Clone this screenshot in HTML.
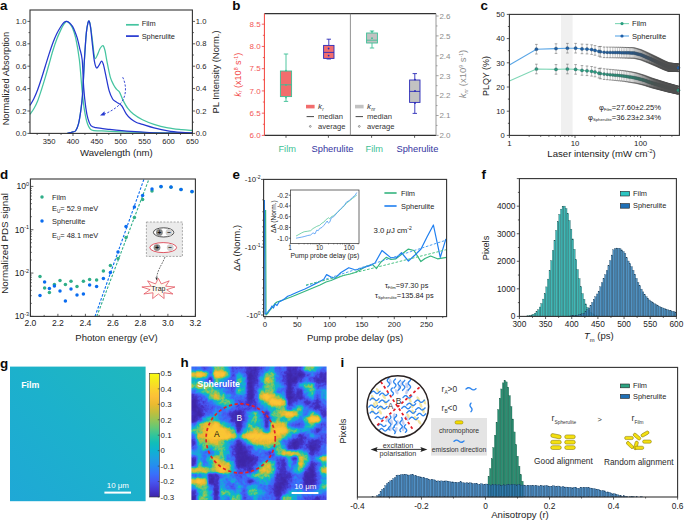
<!DOCTYPE html>
<html><head><meta charset="utf-8"><style>
html,body{margin:0;padding:0;background:#fff;}
svg{display:block;font-family:"Liberation Sans", sans-serif;}
</style></head><body>
<svg width="685" height="521" viewBox="0 0 685 521">
<rect width="685" height="521" fill="#fff"/>
<text x="0.00" y="9.80" font-size="13.4" text-anchor="start" fill="#0a0a0a" font-weight="bold" font-style="normal" >a</text>
<path d="M30.00,114.36 C30.64,113.43 32.55,111.00 33.82,108.76 C35.09,106.52 36.37,104.09 37.64,100.92 C38.92,97.75 40.19,93.64 41.46,89.72 C42.74,85.80 44.01,81.69 45.28,77.40 C46.56,73.11 47.83,68.44 49.11,63.96 C50.38,59.48 51.65,54.63 52.93,50.52 C54.20,46.41 55.47,42.68 56.75,39.32 C58.02,35.96 59.38,32.88 60.57,30.36 C61.76,27.84 62.88,25.69 63.91,24.20 C64.95,22.71 65.82,21.49 66.78,21.40 C67.73,21.31 68.69,22.52 69.64,23.64 C70.60,24.76 71.50,25.69 72.51,28.12 C73.52,30.55 74.56,32.88 75.71,38.20 C76.86,43.52 78.31,51.14 79.39,60.04 C80.47,68.94 81.37,83.32 82.21,91.62 C83.04,99.93 83.55,104.60 84.40,109.88 C85.26,115.16 86.12,119.96 87.32,123.32 C88.52,126.68 89.23,128.77 91.62,130.04 C94.00,131.31 96.79,130.64 101.65,130.94 C106.50,131.23 113.59,131.57 120.75,131.83 C127.92,132.09 132.69,132.28 144.64,132.50 C156.58,132.73 184.44,133.06 192.40,133.18" stroke="#45c4a0" stroke-width="1.25" fill="none" stroke-linejoin="round"/>
<path d="M67.26,133.40 C67.72,133.29 69.07,132.97 70.03,132.73 C70.98,132.49 72.02,132.32 72.99,131.94 C73.95,131.57 74.87,131.93 75.81,130.49 C76.75,129.05 77.79,126.66 78.62,123.32 C79.46,119.98 80.14,115.48 80.82,110.44 C81.50,105.40 82.09,101.48 82.68,93.08 C83.28,84.68 83.79,70.12 84.40,60.04 C85.02,49.96 85.76,38.85 86.36,32.60 C86.97,26.35 87.54,24.39 88.03,22.52 C88.53,20.65 88.89,20.65 89.32,21.40 C89.76,22.15 90.12,23.64 90.66,27.00 C91.20,30.36 92.01,37.08 92.57,41.56 C93.13,46.04 93.54,51.02 94.00,53.88 C94.47,56.74 94.75,58.70 95.39,58.70 C96.03,58.70 97.02,55.62 97.83,53.88 C98.63,52.14 99.35,49.66 100.21,48.28 C101.07,46.90 102.19,45.22 102.98,45.59 C103.78,45.97 104.34,47.94 104.99,50.52 C105.64,53.10 106.02,56.62 106.90,61.05 C107.78,65.47 109.14,73.03 110.29,77.06 C111.45,81.10 112.80,83.22 113.83,85.24 C114.85,87.26 115.51,88.02 116.45,89.16 C117.40,90.30 118.42,90.24 119.51,92.07 C120.60,93.90 121.64,97.45 123.00,100.14 C124.35,102.82 125.91,105.89 127.63,108.20 C129.35,110.51 130.84,112.10 133.32,114.02 C135.79,115.95 139.04,118.02 142.49,119.74 C145.93,121.45 149.76,122.98 154.00,124.33 C158.23,125.67 163.28,126.92 167.90,127.80 C172.51,128.68 177.62,129.14 181.70,129.59 C185.78,130.04 190.62,130.34 192.40,130.49" stroke="#45c4a0" stroke-width="1.25" fill="none" stroke-linejoin="round"/>
<path d="M30.00,105.40 C30.64,104.28 32.55,101.29 33.82,98.68 C35.09,96.07 36.37,93.08 37.64,89.72 C38.92,86.36 40.19,82.44 41.46,78.52 C42.74,74.60 44.01,70.31 45.28,66.20 C46.56,62.09 47.83,57.80 49.11,53.88 C50.38,49.96 51.65,46.04 52.93,42.68 C54.20,39.32 55.47,36.33 56.75,33.72 C58.02,31.11 59.38,28.87 60.57,27.00 C61.76,25.13 62.88,23.45 63.91,22.52 C64.95,21.59 65.82,21.31 66.78,21.40 C67.73,21.49 68.69,22.24 69.64,23.08 C70.60,23.92 71.63,25.04 72.51,26.44 C73.39,27.84 74.10,29.52 74.90,31.48 C75.69,33.44 76.49,35.40 77.29,38.20 C78.08,41.00 78.86,44.64 79.68,48.28 C80.50,51.92 81.54,53.51 82.21,60.04 C82.88,66.57 83.09,79.55 83.69,87.48 C84.28,95.41 85.07,102.39 85.79,107.64 C86.51,112.89 87.13,115.97 87.99,118.95 C88.84,121.94 89.58,124.10 90.90,125.56 C92.22,127.02 92.77,127.05 95.92,127.69 C99.06,128.32 103.96,128.75 109.77,129.37 C115.58,129.98 124.18,130.86 130.78,131.38 C137.39,131.91 143.12,132.22 149.41,132.50 C155.70,132.78 161.35,132.91 168.52,133.06 C175.68,133.21 188.42,133.34 192.40,133.40" stroke="#2437d0" stroke-width="1.25" fill="none" stroke-linejoin="round"/>
<path d="M67.26,133.40 C67.72,133.29 69.07,132.97 70.03,132.73 C70.98,132.49 72.02,132.32 72.99,131.94 C73.95,131.57 74.87,131.93 75.81,130.49 C76.75,129.05 77.79,126.66 78.62,123.32 C79.46,119.98 80.14,115.48 80.82,110.44 C81.50,105.40 82.09,101.48 82.68,93.08 C83.28,84.68 83.79,70.12 84.40,60.04 C85.02,49.96 85.76,38.85 86.36,32.60 C86.97,26.35 87.54,24.39 88.03,22.52 C88.53,20.65 88.89,20.47 89.32,21.40 C89.76,22.33 90.12,24.01 90.66,28.12 C91.20,32.23 91.93,40.44 92.57,46.04 C93.21,51.64 93.83,58.08 94.48,61.72 C95.14,65.36 95.77,67.23 96.49,67.88 C97.20,68.53 97.93,66.78 98.78,65.64 C99.63,64.50 100.80,61.14 101.60,61.05 C102.40,60.95 102.87,62.78 103.56,65.08 C104.24,67.38 104.77,70.51 105.71,74.82 C106.65,79.14 108.04,86.92 109.19,90.95 C110.35,94.98 111.58,97.26 112.63,99.02 C113.68,100.77 114.62,100.83 115.50,101.48 C116.37,102.13 116.84,102.21 117.89,102.94 C118.94,103.66 120.39,104.00 121.80,105.85 C123.22,107.70 124.85,111.84 126.39,114.02 C127.93,116.21 129.41,117.59 131.02,118.95 C132.63,120.31 134.13,121.30 136.04,122.20 C137.95,123.10 139.49,123.39 142.49,124.33 C145.48,125.26 149.76,126.72 154.00,127.80 C158.23,128.88 163.28,130.06 167.90,130.82 C172.51,131.59 177.62,132.04 181.70,132.39 C185.78,132.75 190.62,132.86 192.40,132.95" stroke="#2437d0" stroke-width="1.25" fill="none" stroke-linejoin="round"/>
<path d="M122.7,77.2 C126.5,85 127,96 120.4,103.7 C116,108.5 108,113 102.5,114.8" stroke="#2437d0" stroke-width="0.9" fill="none" stroke-dasharray="2.2,1.6"/>
<path d="M100,115.5 L104.5,111.2 L104.8,115.6 Z" stroke="none" stroke-width="1" fill="#2437d0" />
<rect x="30.00" y="10.00" width="162.40" height="123.40" fill="none" stroke="#333" stroke-width="1.1" />
<line x1="27.40" y1="133.40" x2="30.00" y2="133.40" stroke="#333" stroke-width="0.8" />
<line x1="192.40" y1="133.40" x2="195.00" y2="133.40" stroke="#333" stroke-width="0.8" />
<text x="26.40" y="136.00" font-size="7.6" text-anchor="end" fill="#1c1c1c" font-weight="normal" font-style="normal" >0.0</text>
<text x="195.80" y="136.00" font-size="7.6" text-anchor="start" fill="#1c1c1c" font-weight="normal" font-style="normal" >0.0</text>
<line x1="28.50" y1="122.20" x2="30.00" y2="122.20" stroke="#333" stroke-width="0.8" />
<line x1="192.40" y1="122.20" x2="193.90" y2="122.20" stroke="#333" stroke-width="0.8" />
<line x1="27.40" y1="111.00" x2="30.00" y2="111.00" stroke="#333" stroke-width="0.8" />
<line x1="192.40" y1="111.00" x2="195.00" y2="111.00" stroke="#333" stroke-width="0.8" />
<text x="26.40" y="113.60" font-size="7.6" text-anchor="end" fill="#1c1c1c" font-weight="normal" font-style="normal" >0.2</text>
<text x="195.80" y="113.60" font-size="7.6" text-anchor="start" fill="#1c1c1c" font-weight="normal" font-style="normal" >0.2</text>
<line x1="28.50" y1="99.80" x2="30.00" y2="99.80" stroke="#333" stroke-width="0.8" />
<line x1="192.40" y1="99.80" x2="193.90" y2="99.80" stroke="#333" stroke-width="0.8" />
<line x1="27.40" y1="88.60" x2="30.00" y2="88.60" stroke="#333" stroke-width="0.8" />
<line x1="192.40" y1="88.60" x2="195.00" y2="88.60" stroke="#333" stroke-width="0.8" />
<text x="26.40" y="91.20" font-size="7.6" text-anchor="end" fill="#1c1c1c" font-weight="normal" font-style="normal" >0.4</text>
<text x="195.80" y="91.20" font-size="7.6" text-anchor="start" fill="#1c1c1c" font-weight="normal" font-style="normal" >0.4</text>
<line x1="28.50" y1="77.40" x2="30.00" y2="77.40" stroke="#333" stroke-width="0.8" />
<line x1="192.40" y1="77.40" x2="193.90" y2="77.40" stroke="#333" stroke-width="0.8" />
<line x1="27.40" y1="66.20" x2="30.00" y2="66.20" stroke="#333" stroke-width="0.8" />
<line x1="192.40" y1="66.20" x2="195.00" y2="66.20" stroke="#333" stroke-width="0.8" />
<text x="26.40" y="68.80" font-size="7.6" text-anchor="end" fill="#1c1c1c" font-weight="normal" font-style="normal" >0.6</text>
<text x="195.80" y="68.80" font-size="7.6" text-anchor="start" fill="#1c1c1c" font-weight="normal" font-style="normal" >0.6</text>
<line x1="28.50" y1="55.00" x2="30.00" y2="55.00" stroke="#333" stroke-width="0.8" />
<line x1="192.40" y1="55.00" x2="193.90" y2="55.00" stroke="#333" stroke-width="0.8" />
<line x1="27.40" y1="43.80" x2="30.00" y2="43.80" stroke="#333" stroke-width="0.8" />
<line x1="192.40" y1="43.80" x2="195.00" y2="43.80" stroke="#333" stroke-width="0.8" />
<text x="26.40" y="46.40" font-size="7.6" text-anchor="end" fill="#1c1c1c" font-weight="normal" font-style="normal" >0.8</text>
<text x="195.80" y="46.40" font-size="7.6" text-anchor="start" fill="#1c1c1c" font-weight="normal" font-style="normal" >0.8</text>
<line x1="28.50" y1="32.60" x2="30.00" y2="32.60" stroke="#333" stroke-width="0.8" />
<line x1="192.40" y1="32.60" x2="193.90" y2="32.60" stroke="#333" stroke-width="0.8" />
<line x1="27.40" y1="21.40" x2="30.00" y2="21.40" stroke="#333" stroke-width="0.8" />
<line x1="192.40" y1="21.40" x2="195.00" y2="21.40" stroke="#333" stroke-width="0.8" />
<text x="26.40" y="24.00" font-size="7.6" text-anchor="end" fill="#1c1c1c" font-weight="normal" font-style="normal" >1.0</text>
<text x="195.80" y="24.00" font-size="7.6" text-anchor="start" fill="#1c1c1c" font-weight="normal" font-style="normal" >1.0</text>
<line x1="37.16" y1="133.40" x2="37.16" y2="134.90" stroke="#333" stroke-width="0.8" />
<line x1="49.11" y1="133.40" x2="49.11" y2="136.00" stroke="#333" stroke-width="0.8" />
<text x="49.11" y="144.00" font-size="7.6" text-anchor="middle" fill="#1c1c1c" font-weight="normal" font-style="normal" >350</text>
<line x1="61.05" y1="133.40" x2="61.05" y2="134.90" stroke="#333" stroke-width="0.8" />
<line x1="72.99" y1="133.40" x2="72.99" y2="136.00" stroke="#333" stroke-width="0.8" />
<text x="72.99" y="144.00" font-size="7.6" text-anchor="middle" fill="#1c1c1c" font-weight="normal" font-style="normal" >400</text>
<line x1="84.93" y1="133.40" x2="84.93" y2="134.90" stroke="#333" stroke-width="0.8" />
<line x1="96.87" y1="133.40" x2="96.87" y2="136.00" stroke="#333" stroke-width="0.8" />
<text x="96.87" y="144.00" font-size="7.6" text-anchor="middle" fill="#1c1c1c" font-weight="normal" font-style="normal" >450</text>
<line x1="108.81" y1="133.40" x2="108.81" y2="134.90" stroke="#333" stroke-width="0.8" />
<line x1="120.75" y1="133.40" x2="120.75" y2="136.00" stroke="#333" stroke-width="0.8" />
<text x="120.75" y="144.00" font-size="7.6" text-anchor="middle" fill="#1c1c1c" font-weight="normal" font-style="normal" >500</text>
<line x1="132.69" y1="133.40" x2="132.69" y2="134.90" stroke="#333" stroke-width="0.8" />
<line x1="144.64" y1="133.40" x2="144.64" y2="136.00" stroke="#333" stroke-width="0.8" />
<text x="144.64" y="144.00" font-size="7.6" text-anchor="middle" fill="#1c1c1c" font-weight="normal" font-style="normal" >550</text>
<line x1="156.58" y1="133.40" x2="156.58" y2="134.90" stroke="#333" stroke-width="0.8" />
<line x1="168.52" y1="133.40" x2="168.52" y2="136.00" stroke="#333" stroke-width="0.8" />
<text x="168.52" y="144.00" font-size="7.6" text-anchor="middle" fill="#1c1c1c" font-weight="normal" font-style="normal" >600</text>
<line x1="180.46" y1="133.40" x2="180.46" y2="134.90" stroke="#333" stroke-width="0.8" />
<line x1="192.40" y1="133.40" x2="192.40" y2="136.00" stroke="#333" stroke-width="0.8" />
<text x="192.40" y="144.00" font-size="7.6" text-anchor="middle" fill="#1c1c1c" font-weight="normal" font-style="normal" >650</text>
<text x="116.40" y="156.30" font-size="9.6" text-anchor="middle" fill="#1c1c1c" font-weight="normal" font-style="normal" >Wavelength (nm)</text>
<text transform="translate(8.60,78.60) rotate(-90)" font-size="9.3" text-anchor="middle" fill="#1c1c1c" >Normalized Absorption</text>
<text transform="translate(219.40,72.00) rotate(-90)" font-size="9.4" text-anchor="middle" fill="#1c1c1c" >PL Intensity (Norm.)</text>
<line x1="126.00" y1="24.80" x2="138.80" y2="24.80" stroke="#45c4a0" stroke-width="1.7" />
<line x1="126.00" y1="36.10" x2="138.80" y2="36.10" stroke="#2437d0" stroke-width="1.7" />
<text x="141.70" y="26.30" font-size="7.4" text-anchor="start" fill="#1c1c1c" font-weight="normal" font-style="normal" >Film</text>
<text x="141.70" y="38.60" font-size="7.4" text-anchor="start" fill="#1c1c1c" font-weight="normal" font-style="normal" >Spherulite</text>
<text x="232.20" y="10.20" font-size="13.4" text-anchor="start" fill="#0a0a0a" font-weight="bold" font-style="normal" >b</text>
<line x1="264.40" y1="13.60" x2="436.00" y2="13.60" stroke="#333" stroke-width="1.1" />
<line x1="264.40" y1="135.40" x2="436.00" y2="135.40" stroke="#333" stroke-width="1.1" />
<line x1="264.40" y1="13.60" x2="264.40" y2="135.40" stroke="#f2403a" stroke-width="1.0" />
<line x1="436.00" y1="13.60" x2="436.00" y2="135.40" stroke="#8c8c8c" stroke-width="0.9" />
<line x1="350.40" y1="13.60" x2="350.40" y2="135.40" stroke="#777" stroke-width="0.8" />
<line x1="261.80" y1="135.40" x2="264.40" y2="135.40" stroke="#f2403a" stroke-width="0.8" />
<text x="260.60" y="138.20" font-size="8.0" text-anchor="end" fill="#f25555" font-weight="normal" font-style="normal" >6.0</text>
<line x1="262.90" y1="124.28" x2="264.40" y2="124.28" stroke="#f2403a" stroke-width="0.8" />
<line x1="261.80" y1="113.16" x2="264.40" y2="113.16" stroke="#f2403a" stroke-width="0.8" />
<text x="260.60" y="115.96" font-size="8.0" text-anchor="end" fill="#f25555" font-weight="normal" font-style="normal" >6.5</text>
<line x1="262.90" y1="102.04" x2="264.40" y2="102.04" stroke="#f2403a" stroke-width="0.8" />
<line x1="261.80" y1="90.92" x2="264.40" y2="90.92" stroke="#f2403a" stroke-width="0.8" />
<text x="260.60" y="93.72" font-size="8.0" text-anchor="end" fill="#f25555" font-weight="normal" font-style="normal" >7.0</text>
<line x1="262.90" y1="79.80" x2="264.40" y2="79.80" stroke="#f2403a" stroke-width="0.8" />
<line x1="261.80" y1="68.68" x2="264.40" y2="68.68" stroke="#f2403a" stroke-width="0.8" />
<text x="260.60" y="71.48" font-size="8.0" text-anchor="end" fill="#f25555" font-weight="normal" font-style="normal" >7.5</text>
<line x1="262.90" y1="57.56" x2="264.40" y2="57.56" stroke="#f2403a" stroke-width="0.8" />
<line x1="261.80" y1="46.44" x2="264.40" y2="46.44" stroke="#f2403a" stroke-width="0.8" />
<text x="260.60" y="49.24" font-size="8.0" text-anchor="end" fill="#f25555" font-weight="normal" font-style="normal" >8.0</text>
<line x1="262.90" y1="35.32" x2="264.40" y2="35.32" stroke="#f2403a" stroke-width="0.8" />
<line x1="261.80" y1="24.20" x2="264.40" y2="24.20" stroke="#f2403a" stroke-width="0.8" />
<text x="260.60" y="27.00" font-size="8.0" text-anchor="end" fill="#f25555" font-weight="normal" font-style="normal" >8.5</text>
<line x1="436.00" y1="135.40" x2="438.60" y2="135.40" stroke="#8c8c8c" stroke-width="0.8" />
<text x="439.40" y="138.20" font-size="8.0" text-anchor="start" fill="#8c8c8c" font-weight="normal" font-style="normal" >2.0</text>
<line x1="436.00" y1="125.45" x2="437.50" y2="125.45" stroke="#8c8c8c" stroke-width="0.8" />
<line x1="436.00" y1="115.50" x2="438.60" y2="115.50" stroke="#8c8c8c" stroke-width="0.8" />
<text x="439.40" y="118.30" font-size="8.0" text-anchor="start" fill="#8c8c8c" font-weight="normal" font-style="normal" >2.1</text>
<line x1="436.00" y1="105.55" x2="437.50" y2="105.55" stroke="#8c8c8c" stroke-width="0.8" />
<line x1="436.00" y1="95.60" x2="438.60" y2="95.60" stroke="#8c8c8c" stroke-width="0.8" />
<text x="439.40" y="98.40" font-size="8.0" text-anchor="start" fill="#8c8c8c" font-weight="normal" font-style="normal" >2.2</text>
<line x1="436.00" y1="85.65" x2="437.50" y2="85.65" stroke="#8c8c8c" stroke-width="0.8" />
<line x1="436.00" y1="75.70" x2="438.60" y2="75.70" stroke="#8c8c8c" stroke-width="0.8" />
<text x="439.40" y="78.50" font-size="8.0" text-anchor="start" fill="#8c8c8c" font-weight="normal" font-style="normal" >2.3</text>
<line x1="436.00" y1="65.75" x2="437.50" y2="65.75" stroke="#8c8c8c" stroke-width="0.8" />
<line x1="436.00" y1="55.80" x2="438.60" y2="55.80" stroke="#8c8c8c" stroke-width="0.8" />
<text x="439.40" y="58.60" font-size="8.0" text-anchor="start" fill="#8c8c8c" font-weight="normal" font-style="normal" >2.4</text>
<line x1="436.00" y1="45.85" x2="437.50" y2="45.85" stroke="#8c8c8c" stroke-width="0.8" />
<line x1="436.00" y1="35.90" x2="438.60" y2="35.90" stroke="#8c8c8c" stroke-width="0.8" />
<text x="439.40" y="38.70" font-size="8.0" text-anchor="start" fill="#8c8c8c" font-weight="normal" font-style="normal" >2.5</text>
<line x1="436.00" y1="25.95" x2="437.50" y2="25.95" stroke="#8c8c8c" stroke-width="0.8" />
<line x1="436.00" y1="16.00" x2="438.60" y2="16.00" stroke="#8c8c8c" stroke-width="0.8" />
<text x="439.40" y="18.80" font-size="8.0" text-anchor="start" fill="#8c8c8c" font-weight="normal" font-style="normal" >2.6</text>
<line x1="286.00" y1="135.40" x2="286.00" y2="137.80" stroke="#333" stroke-width="0.8" />
<text x="287.20" y="151.90" font-size="9.3" text-anchor="middle" fill="#3cbf95" font-weight="normal" font-style="normal" >Film</text>
<line x1="328.40" y1="135.40" x2="328.40" y2="137.80" stroke="#333" stroke-width="0.8" />
<text x="332.50" y="151.90" font-size="9.3" text-anchor="middle" fill="#3434a0" font-weight="normal" font-style="normal" >Spherulite</text>
<line x1="371.60" y1="135.40" x2="371.60" y2="137.80" stroke="#333" stroke-width="0.8" />
<text x="374.30" y="151.90" font-size="9.3" text-anchor="middle" fill="#3cbf95" font-weight="normal" font-style="normal" >Film</text>
<line x1="414.60" y1="135.40" x2="414.60" y2="137.80" stroke="#333" stroke-width="0.8" />
<text x="417.40" y="151.90" font-size="9.3" text-anchor="middle" fill="#3434a0" font-weight="normal" font-style="normal" >Spherulite</text>
<line x1="286.00" y1="54.00" x2="286.00" y2="71.00" stroke="#3cbf95" stroke-width="0.9" />
<line x1="286.00" y1="96.60" x2="286.00" y2="101.40" stroke="#3cbf95" stroke-width="0.9" />
<line x1="283.80" y1="54.00" x2="288.20" y2="54.00" stroke="#3cbf95" stroke-width="0.9" />
<line x1="283.80" y1="101.40" x2="288.20" y2="101.40" stroke="#3cbf95" stroke-width="0.9" />
<rect x="280.40" y="71.00" width="11.20" height="25.60" fill="#f26d6d" stroke="#3cbf95" stroke-width="0.9" />
<line x1="280.40" y1="84.80" x2="291.60" y2="84.80" stroke="#3cbf95" stroke-width="0.9" />
<circle cx="286.00" cy="85.00" r="0.9" fill="#3cbf95" stroke="none" stroke-width="0.5" />
<circle cx="286.00" cy="70.60" r="0.9" fill="#3cbf95" stroke="none" stroke-width="0.5" />
<circle cx="286.00" cy="97.50" r="0.9" fill="#3cbf95" stroke="none" stroke-width="0.5" />
<line x1="328.80" y1="39.20" x2="328.80" y2="45.40" stroke="#2b2bb8" stroke-width="0.9" />
<line x1="328.80" y1="58.40" x2="328.80" y2="59.00" stroke="#2b2bb8" stroke-width="0.9" />
<line x1="326.60" y1="39.20" x2="331.00" y2="39.20" stroke="#2b2bb8" stroke-width="0.9" />
<line x1="326.60" y1="59.00" x2="331.00" y2="59.00" stroke="#2b2bb8" stroke-width="0.9" />
<rect x="323.60" y="45.40" width="10.40" height="13.00" fill="#f26d6d" stroke="#2b2bb8" stroke-width="0.9" />
<line x1="323.60" y1="52.40" x2="334.00" y2="52.40" stroke="#2b2bb8" stroke-width="0.9" />
<circle cx="328.60" cy="48.50" r="0.9" fill="#2b2bb8" stroke="none" stroke-width="0.5" />
<circle cx="328.60" cy="55.60" r="0.9" fill="#2b2bb8" stroke="none" stroke-width="0.5" />
<line x1="372.00" y1="31.00" x2="372.00" y2="33.00" stroke="#3cbf95" stroke-width="0.9" />
<line x1="372.00" y1="43.00" x2="372.00" y2="48.00" stroke="#3cbf95" stroke-width="0.9" />
<line x1="369.80" y1="31.00" x2="374.20" y2="31.00" stroke="#3cbf95" stroke-width="0.9" />
<line x1="369.80" y1="48.00" x2="374.20" y2="48.00" stroke="#3cbf95" stroke-width="0.9" />
<rect x="366.60" y="33.00" width="10.80" height="10.00" fill="#c2c2c2" stroke="#3cbf95" stroke-width="0.9" />
<line x1="366.60" y1="40.20" x2="377.40" y2="40.20" stroke="#3cbf95" stroke-width="0.9" />
<circle cx="372.00" cy="38.20" r="0.9" fill="#3cbf95" stroke="none" stroke-width="0.5" />
<circle cx="372.00" cy="31.60" r="0.9" fill="#3cbf95" stroke="none" stroke-width="0.5" />
<line x1="414.80" y1="73.60" x2="414.80" y2="80.00" stroke="#2b2bb8" stroke-width="0.9" />
<line x1="414.80" y1="102.40" x2="414.80" y2="113.40" stroke="#2b2bb8" stroke-width="0.9" />
<line x1="412.60" y1="73.60" x2="417.00" y2="73.60" stroke="#2b2bb8" stroke-width="0.9" />
<line x1="412.60" y1="113.40" x2="417.00" y2="113.40" stroke="#2b2bb8" stroke-width="0.9" />
<rect x="409.60" y="80.00" width="10.40" height="22.40" fill="#c2c2c2" stroke="#2b2bb8" stroke-width="0.9" />
<line x1="409.60" y1="91.40" x2="420.00" y2="91.40" stroke="#2b2bb8" stroke-width="0.9" />
<circle cx="415.00" cy="91.00" r="0.9" fill="#2b2bb8" stroke="none" stroke-width="0.5" />
<circle cx="415.00" cy="79.60" r="0.9" fill="#2b2bb8" stroke="none" stroke-width="0.5" />
<circle cx="415.00" cy="103.00" r="0.9" fill="#2b2bb8" stroke="none" stroke-width="0.5" />
<rect x="306.00" y="104.80" width="8.60" height="3.60" fill="#f26d6d" stroke="none" stroke-width="0.8" />
<text x="318.00" y="109.00" font-size="8.0" text-anchor="start" fill="#333" font-weight="normal" font-style="italic" >k</text>
<text x="322.20" y="110.60" font-size="4.5" text-anchor="start" fill="#333" font-weight="normal" font-style="italic" >r</text>
<line x1="306.60" y1="116.60" x2="314.00" y2="116.60" stroke="#333" stroke-width="0.9" />
<text x="318.00" y="119.20" font-size="7.6" text-anchor="start" fill="#333" font-weight="normal" font-style="normal" >median</text>
<circle cx="310.30" cy="126.40" r="0.9" fill="#fff" stroke="#555" stroke-width="0.6" />
<text x="318.00" y="129.00" font-size="7.6" text-anchor="start" fill="#333" font-weight="normal" font-style="normal" >average</text>
<rect x="355.00" y="104.80" width="8.60" height="3.60" fill="#c2c2c2" stroke="none" stroke-width="0.8" />
<text x="367.00" y="109.00" font-size="8.0" text-anchor="start" fill="#333" font-weight="normal" font-style="italic" >k</text>
<text x="371.20" y="110.60" font-size="4.5" text-anchor="start" fill="#333" font-weight="normal" font-style="italic" >nr</text>
<line x1="355.60" y1="116.60" x2="363.00" y2="116.60" stroke="#333" stroke-width="0.9" />
<text x="367.00" y="119.20" font-size="7.6" text-anchor="start" fill="#333" font-weight="normal" font-style="normal" >median</text>
<circle cx="359.30" cy="126.40" r="0.9" fill="#fff" stroke="#555" stroke-width="0.6" />
<text x="367.00" y="129.00" font-size="7.6" text-anchor="start" fill="#333" font-weight="normal" font-style="normal" >average</text>
<text transform="translate(240.6,74.8) rotate(-90)" font-size="9.1" text-anchor="middle" fill="#f24a4a"><tspan font-style="italic">k</tspan><tspan font-size="5.2" font-style="italic" dy="1.8">r</tspan><tspan dy="-1.8"> (x10</tspan><tspan font-size="5.2" dy="-3">8</tspan><tspan dy="3"> s</tspan><tspan font-size="5.2" dy="-3">-1</tspan><tspan dy="3">)</tspan></text>
<text transform="translate(466.0,74.0) rotate(-90)" font-size="9.5" text-anchor="middle" fill="#8c8c8c"><tspan font-style="italic">k</tspan><tspan font-size="5.2" font-style="italic" dy="1.8">nr</tspan><tspan dy="-1.8"> (x10</tspan><tspan font-size="5.2" dy="-3">9</tspan><tspan dy="3"> s</tspan><tspan font-size="5.2" dy="-3">-1</tspan><tspan dy="3">)</tspan></text>
<text x="480.50" y="9.60" font-size="13.4" text-anchor="start" fill="#0a0a0a" font-weight="bold" font-style="normal" >c</text>
<rect x="561.00" y="14.40" width="11.60" height="121.00" fill="#f0f0f0" stroke="none" stroke-width="0.8" />
<defs><linearGradient id="cdark" gradientUnits="userSpaceOnUse" x1="632" y1="0" x2="678" y2="0"><stop offset="0" stop-color="#4e4e4e" stop-opacity="0"/><stop offset="0.25" stop-color="#4e4e4e" stop-opacity="0.3"/><stop offset="0.5" stop-color="#4e4e4e" stop-opacity="0.8"/><stop offset="0.65" stop-color="#4e4e4e" stop-opacity="0.93"/><stop offset="1" stop-color="#4e4e4e" stop-opacity="0.96"/></linearGradient></defs>
<path d="M509.40,65.00 L536.40,49.20 L556.00,48.60 L567.40,48.20 L575.60,48.20 L582.00,48.90 L587.00,49.10 L591.60,49.60 L595.00,50.40 L599.00,51.40 L600.53,51.74 L604.13,52.32 L607.33,52.38 L610.20,52.43 L612.81,52.47 L615.20,52.52 L617.40,52.55 L619.45,52.59 L621.36,52.64 L623.15,52.69 L624.83,52.74 L626.42,52.78 L627.93,52.83 L629.36,52.87 L630.72,52.91 L632.02,52.94 L633.26,52.98 L634.46,53.12 L635.60,53.41 L636.70,53.69 L637.76,53.97 L638.78,54.23 L639.76,54.48 L640.71,54.73 L641.64,55.07 L642.53,55.45 L643.39,55.83 L644.23,56.19 L645.05,56.54 L645.84,56.88 L646.61,57.21 L647.36,57.53 L648.10,57.84 L648.81,58.16 L649.51,58.48 L650.19,58.78 L650.85,59.08 L651.50,59.37 L652.13,59.66 L652.75,59.94 L653.36,60.21 L653.95,60.48 L654.54,60.74 L655.11,61.00 L655.67,61.25 L656.22,61.50 L656.75,61.76 L657.28,62.01 L657.80,62.26 L658.31,62.50 L658.81,62.74 L659.30,62.97 L659.79,63.20 L660.26,63.42 L660.73,63.65 L661.19,63.87 L661.64,64.08 L662.09,64.29 L662.53,64.50 L662.96,64.71 L663.38,64.91 L663.80,65.11 L664.22,65.29 L664.63,65.45 L665.03,65.61 L665.42,65.77 L665.81,65.93 L666.20,66.08 L666.58,66.23 L666.95,66.38 L667.32,66.53 L667.69,66.68 L668.05,66.82 L668.41,66.96 L668.76,67.10 L669.11,67.21 L669.45,67.23 L669.79,67.25 L670.13,67.27 L670.46,67.29 L670.79,67.31 L671.11,67.33 L671.43,67.35 L671.75,67.36 L672.06,67.38 L672.37,67.40 L672.68,67.42 L672.98,67.44 L673.28,67.46 L673.58,67.47 L673.87,67.49 L674.16,67.51 L674.45,67.53 L674.74,67.54 L675.02,67.56 L675.30,67.58 L675.57,67.59 L675.85,67.61 L676.12,67.63 L676.39,67.64 L676.65,67.66 L676.92,67.68 L677.18,67.69 L677.44,67.71 L677.70,67.72 L677.95,67.74 L678.20,67.75 L678.45,67.77" stroke="#5aa6e6" stroke-width="1.1" fill="none" />
<path d="M509.40,81.00 L536.40,69.00 L556.00,69.40 L567.40,69.00 L575.60,69.40 L582.00,70.40 L587.00,70.80 L591.60,71.30 L595.00,72.00 L599.00,73.20 L600.53,73.51 L604.13,74.11 L607.33,74.41 L610.20,74.69 L612.81,74.93 L615.20,75.16 L617.40,75.37 L619.45,75.57 L621.36,75.75 L623.15,75.92 L624.83,76.14 L626.42,76.40 L627.93,76.65 L629.36,76.89 L630.72,77.12 L632.02,77.34 L633.26,77.54 L634.46,77.74 L635.60,77.93 L636.70,78.19 L637.76,78.48 L638.78,78.76 L639.76,79.03 L640.71,79.30 L641.64,79.55 L642.53,79.80 L643.39,80.03 L644.23,80.28 L645.05,80.57 L645.84,80.84 L646.61,81.11 L647.36,81.38 L648.10,81.63 L648.81,81.88 L649.51,82.13 L650.19,82.37 L650.85,82.60 L651.50,82.82 L652.13,83.04 L652.75,83.22 L653.36,83.39 L653.95,83.56 L654.54,83.73 L655.11,83.89 L655.67,84.05 L656.22,84.21 L656.75,84.37 L657.28,84.52 L657.80,84.67 L658.31,84.81 L658.81,84.96 L659.30,85.10 L659.79,85.24 L660.26,85.38 L660.73,85.51 L661.19,85.64 L661.64,85.77 L662.09,85.90 L662.53,86.03 L662.96,86.15 L663.38,86.27 L663.80,86.39 L664.22,86.51 L664.63,86.63 L665.03,86.75 L665.42,86.86 L665.81,86.97 L666.20,87.08 L666.58,87.19 L666.95,87.30 L667.32,87.41 L667.69,87.51 L668.05,87.61 L668.41,87.70 L668.76,87.79 L669.11,87.88 L669.45,87.97 L669.79,88.06 L670.13,88.14 L670.46,88.23 L670.79,88.31 L671.11,88.39 L671.43,88.47 L671.75,88.55 L672.06,88.63 L672.37,88.71 L672.68,88.79 L672.98,88.87 L673.28,88.94 L673.58,89.02 L673.87,89.09 L674.16,89.17 L674.45,89.24 L674.74,89.31 L675.02,89.39 L675.30,89.46 L675.57,89.53 L675.85,89.60 L676.12,89.67 L676.39,89.74 L676.65,89.80 L676.92,89.87 L677.18,89.94 L677.44,90.00 L677.70,90.07 L677.95,90.13 L678.20,90.20 L678.45,90.26" stroke="#7fd6b6" stroke-width="1.1" fill="none" />
<line x1="536.40" y1="44.40" x2="536.40" y2="54.00" stroke="#8a8a8a" stroke-width="0.55" />
<line x1="535.10" y1="44.40" x2="537.70" y2="44.40" stroke="#6a6a6a" stroke-width="0.6" />
<line x1="535.10" y1="54.00" x2="537.70" y2="54.00" stroke="#6a6a6a" stroke-width="0.6" />
<line x1="556.00" y1="43.80" x2="556.00" y2="53.40" stroke="#8a8a8a" stroke-width="0.55" />
<line x1="554.70" y1="43.80" x2="557.30" y2="43.80" stroke="#6a6a6a" stroke-width="0.6" />
<line x1="554.70" y1="53.40" x2="557.30" y2="53.40" stroke="#6a6a6a" stroke-width="0.6" />
<line x1="567.40" y1="43.40" x2="567.40" y2="53.00" stroke="#8a8a8a" stroke-width="0.55" />
<line x1="566.10" y1="43.40" x2="568.70" y2="43.40" stroke="#6a6a6a" stroke-width="0.6" />
<line x1="566.10" y1="53.00" x2="568.70" y2="53.00" stroke="#6a6a6a" stroke-width="0.6" />
<line x1="575.60" y1="43.40" x2="575.60" y2="53.00" stroke="#8a8a8a" stroke-width="0.55" />
<line x1="574.30" y1="43.40" x2="576.90" y2="43.40" stroke="#6a6a6a" stroke-width="0.6" />
<line x1="574.30" y1="53.00" x2="576.90" y2="53.00" stroke="#6a6a6a" stroke-width="0.6" />
<line x1="582.00" y1="44.10" x2="582.00" y2="53.70" stroke="#8a8a8a" stroke-width="0.55" />
<line x1="580.70" y1="44.10" x2="583.30" y2="44.10" stroke="#6a6a6a" stroke-width="0.6" />
<line x1="580.70" y1="53.70" x2="583.30" y2="53.70" stroke="#6a6a6a" stroke-width="0.6" />
<line x1="587.00" y1="44.30" x2="587.00" y2="53.90" stroke="#8a8a8a" stroke-width="0.55" />
<line x1="585.70" y1="44.30" x2="588.30" y2="44.30" stroke="#6a6a6a" stroke-width="0.6" />
<line x1="585.70" y1="53.90" x2="588.30" y2="53.90" stroke="#6a6a6a" stroke-width="0.6" />
<line x1="591.60" y1="44.80" x2="591.60" y2="54.40" stroke="#8a8a8a" stroke-width="0.55" />
<line x1="590.30" y1="44.80" x2="592.90" y2="44.80" stroke="#6a6a6a" stroke-width="0.6" />
<line x1="590.30" y1="54.40" x2="592.90" y2="54.40" stroke="#6a6a6a" stroke-width="0.6" />
<line x1="595.00" y1="45.60" x2="595.00" y2="55.20" stroke="#8a8a8a" stroke-width="0.55" />
<line x1="593.70" y1="45.60" x2="596.30" y2="45.60" stroke="#6a6a6a" stroke-width="0.6" />
<line x1="593.70" y1="55.20" x2="596.30" y2="55.20" stroke="#6a6a6a" stroke-width="0.6" />
<line x1="599.00" y1="46.60" x2="599.00" y2="56.20" stroke="#8a8a8a" stroke-width="0.55" />
<line x1="597.70" y1="46.60" x2="600.30" y2="46.60" stroke="#6a6a6a" stroke-width="0.6" />
<line x1="597.70" y1="56.20" x2="600.30" y2="56.20" stroke="#6a6a6a" stroke-width="0.6" />
<line x1="536.40" y1="64.20" x2="536.40" y2="73.80" stroke="#8a8a8a" stroke-width="0.55" />
<line x1="535.10" y1="64.20" x2="537.70" y2="64.20" stroke="#6a6a6a" stroke-width="0.6" />
<line x1="535.10" y1="73.80" x2="537.70" y2="73.80" stroke="#6a6a6a" stroke-width="0.6" />
<line x1="556.00" y1="64.60" x2="556.00" y2="74.20" stroke="#8a8a8a" stroke-width="0.55" />
<line x1="554.70" y1="64.60" x2="557.30" y2="64.60" stroke="#6a6a6a" stroke-width="0.6" />
<line x1="554.70" y1="74.20" x2="557.30" y2="74.20" stroke="#6a6a6a" stroke-width="0.6" />
<line x1="567.40" y1="64.20" x2="567.40" y2="73.80" stroke="#8a8a8a" stroke-width="0.55" />
<line x1="566.10" y1="64.20" x2="568.70" y2="64.20" stroke="#6a6a6a" stroke-width="0.6" />
<line x1="566.10" y1="73.80" x2="568.70" y2="73.80" stroke="#6a6a6a" stroke-width="0.6" />
<line x1="575.60" y1="64.60" x2="575.60" y2="74.20" stroke="#8a8a8a" stroke-width="0.55" />
<line x1="574.30" y1="64.60" x2="576.90" y2="64.60" stroke="#6a6a6a" stroke-width="0.6" />
<line x1="574.30" y1="74.20" x2="576.90" y2="74.20" stroke="#6a6a6a" stroke-width="0.6" />
<line x1="582.00" y1="65.60" x2="582.00" y2="75.20" stroke="#8a8a8a" stroke-width="0.55" />
<line x1="580.70" y1="65.60" x2="583.30" y2="65.60" stroke="#6a6a6a" stroke-width="0.6" />
<line x1="580.70" y1="75.20" x2="583.30" y2="75.20" stroke="#6a6a6a" stroke-width="0.6" />
<line x1="587.00" y1="66.00" x2="587.00" y2="75.60" stroke="#8a8a8a" stroke-width="0.55" />
<line x1="585.70" y1="66.00" x2="588.30" y2="66.00" stroke="#6a6a6a" stroke-width="0.6" />
<line x1="585.70" y1="75.60" x2="588.30" y2="75.60" stroke="#6a6a6a" stroke-width="0.6" />
<line x1="591.60" y1="66.50" x2="591.60" y2="76.10" stroke="#8a8a8a" stroke-width="0.55" />
<line x1="590.30" y1="66.50" x2="592.90" y2="66.50" stroke="#6a6a6a" stroke-width="0.6" />
<line x1="590.30" y1="76.10" x2="592.90" y2="76.10" stroke="#6a6a6a" stroke-width="0.6" />
<line x1="595.00" y1="67.20" x2="595.00" y2="76.80" stroke="#8a8a8a" stroke-width="0.55" />
<line x1="593.70" y1="67.20" x2="596.30" y2="67.20" stroke="#6a6a6a" stroke-width="0.6" />
<line x1="593.70" y1="76.80" x2="596.30" y2="76.80" stroke="#6a6a6a" stroke-width="0.6" />
<line x1="599.00" y1="68.40" x2="599.00" y2="78.00" stroke="#8a8a8a" stroke-width="0.55" />
<line x1="597.70" y1="68.40" x2="600.30" y2="68.40" stroke="#6a6a6a" stroke-width="0.6" />
<line x1="597.70" y1="78.00" x2="600.30" y2="78.00" stroke="#6a6a6a" stroke-width="0.6" />
<circle cx="536.40" cy="49.20" r="1.6" fill="#1f5fa8" stroke="#34505e" stroke-width="0.35" />
<circle cx="556.00" cy="48.60" r="1.6" fill="#1f5fa8" stroke="#34505e" stroke-width="0.35" />
<circle cx="567.40" cy="48.20" r="1.6" fill="#1f5fa8" stroke="#34505e" stroke-width="0.35" />
<circle cx="575.60" cy="48.20" r="1.6" fill="#1f5fa8" stroke="#34505e" stroke-width="0.35" />
<circle cx="582.00" cy="48.90" r="1.6" fill="#1f5fa8" stroke="#34505e" stroke-width="0.35" />
<circle cx="587.00" cy="49.10" r="1.6" fill="#1f5fa8" stroke="#34505e" stroke-width="0.35" />
<circle cx="591.60" cy="49.60" r="1.6" fill="#1f5fa8" stroke="#34505e" stroke-width="0.35" />
<circle cx="595.00" cy="50.40" r="1.6" fill="#1f5fa8" stroke="#34505e" stroke-width="0.35" />
<circle cx="599.00" cy="51.40" r="1.6" fill="#1f5fa8" stroke="#34505e" stroke-width="0.35" />
<circle cx="536.40" cy="69.00" r="1.6" fill="#2a9d7f" stroke="#34505e" stroke-width="0.35" />
<circle cx="556.00" cy="69.40" r="1.6" fill="#2a9d7f" stroke="#34505e" stroke-width="0.35" />
<circle cx="567.40" cy="69.00" r="1.6" fill="#2a9d7f" stroke="#34505e" stroke-width="0.35" />
<circle cx="575.60" cy="69.40" r="1.6" fill="#2a9d7f" stroke="#34505e" stroke-width="0.35" />
<circle cx="582.00" cy="70.40" r="1.6" fill="#2a9d7f" stroke="#34505e" stroke-width="0.35" />
<circle cx="587.00" cy="70.80" r="1.6" fill="#2a9d7f" stroke="#34505e" stroke-width="0.35" />
<circle cx="591.60" cy="71.30" r="1.6" fill="#2a9d7f" stroke="#34505e" stroke-width="0.35" />
<circle cx="595.00" cy="72.00" r="1.6" fill="#2a9d7f" stroke="#34505e" stroke-width="0.35" />
<circle cx="599.00" cy="73.20" r="1.6" fill="#2a9d7f" stroke="#34505e" stroke-width="0.35" />
<circle cx="600.53" cy="51.74" r="1.5" fill="#1f5fa8" stroke="#34505e" stroke-width="0.35" />
<circle cx="604.13" cy="52.32" r="1.5" fill="#1f5fa8" stroke="#34505e" stroke-width="0.35" />
<circle cx="607.33" cy="52.38" r="1.5" fill="#1f5fa8" stroke="#34505e" stroke-width="0.35" />
<circle cx="610.20" cy="52.43" r="1.5" fill="#1f5fa8" stroke="#34505e" stroke-width="0.35" />
<circle cx="612.81" cy="52.47" r="1.5" fill="#1f5fa8" stroke="#34505e" stroke-width="0.35" />
<circle cx="615.20" cy="52.52" r="1.5" fill="#1f5fa8" stroke="#34505e" stroke-width="0.35" />
<circle cx="617.40" cy="52.55" r="1.5" fill="#1f5fa8" stroke="#34505e" stroke-width="0.35" />
<circle cx="619.45" cy="52.59" r="1.5" fill="#1f5fa8" stroke="#34505e" stroke-width="0.35" />
<circle cx="621.36" cy="52.64" r="1.5" fill="#1f5fa8" stroke="#34505e" stroke-width="0.35" />
<circle cx="623.15" cy="52.69" r="1.5" fill="#1f5fa8" stroke="#34505e" stroke-width="0.35" />
<circle cx="624.83" cy="52.74" r="1.5" fill="#1f5fa8" stroke="#34505e" stroke-width="0.35" />
<circle cx="626.42" cy="52.78" r="1.5" fill="#1f5fa8" stroke="#34505e" stroke-width="0.35" />
<circle cx="627.93" cy="52.83" r="1.5" fill="#1f5fa8" stroke="#34505e" stroke-width="0.35" />
<circle cx="629.36" cy="52.87" r="1.5" fill="#1f5fa8" stroke="#34505e" stroke-width="0.35" />
<circle cx="630.72" cy="52.91" r="1.5" fill="#1f5fa8" stroke="#34505e" stroke-width="0.35" />
<circle cx="632.02" cy="52.94" r="1.5" fill="#1f5fa8" stroke="#34505e" stroke-width="0.35" />
<circle cx="633.26" cy="52.98" r="1.5" fill="#1f5fa8" stroke="#34505e" stroke-width="0.35" />
<circle cx="634.46" cy="53.12" r="1.5" fill="#1f5fa8" stroke="#34505e" stroke-width="0.35" />
<circle cx="635.60" cy="53.41" r="1.5" fill="#1f5fa8" stroke="#34505e" stroke-width="0.35" />
<circle cx="636.70" cy="53.69" r="1.5" fill="#1f5fa8" stroke="#34505e" stroke-width="0.35" />
<circle cx="637.76" cy="53.97" r="1.5" fill="#1f5fa8" stroke="#34505e" stroke-width="0.35" />
<circle cx="638.78" cy="54.23" r="1.5" fill="#1f5fa8" stroke="#34505e" stroke-width="0.35" />
<circle cx="639.76" cy="54.48" r="1.5" fill="#1f5fa8" stroke="#34505e" stroke-width="0.35" />
<circle cx="640.71" cy="54.73" r="1.5" fill="#1f5fa8" stroke="#34505e" stroke-width="0.35" />
<circle cx="641.64" cy="55.07" r="1.5" fill="#1f5fa8" stroke="#34505e" stroke-width="0.35" />
<circle cx="642.53" cy="55.45" r="1.5" fill="#1f5fa8" stroke="#34505e" stroke-width="0.35" />
<circle cx="643.39" cy="55.83" r="1.5" fill="#1f5fa8" stroke="#34505e" stroke-width="0.35" />
<circle cx="644.23" cy="56.19" r="1.5" fill="#1f5fa8" stroke="#34505e" stroke-width="0.35" />
<circle cx="645.05" cy="56.54" r="1.5" fill="#1f5fa8" stroke="#34505e" stroke-width="0.35" />
<circle cx="645.84" cy="56.88" r="1.5" fill="#1f5fa8" stroke="#34505e" stroke-width="0.35" />
<circle cx="646.61" cy="57.21" r="1.5" fill="#1f5fa8" stroke="#34505e" stroke-width="0.35" />
<circle cx="647.36" cy="57.53" r="1.5" fill="#1f5fa8" stroke="#34505e" stroke-width="0.35" />
<circle cx="648.10" cy="57.84" r="1.5" fill="#1f5fa8" stroke="#34505e" stroke-width="0.35" />
<circle cx="648.81" cy="58.16" r="1.5" fill="#1f5fa8" stroke="#34505e" stroke-width="0.35" />
<circle cx="649.51" cy="58.48" r="1.5" fill="#1f5fa8" stroke="#34505e" stroke-width="0.35" />
<circle cx="650.19" cy="58.78" r="1.5" fill="#1f5fa8" stroke="#34505e" stroke-width="0.35" />
<circle cx="650.85" cy="59.08" r="1.5" fill="#1f5fa8" stroke="#34505e" stroke-width="0.35" />
<circle cx="651.50" cy="59.37" r="1.5" fill="#1f5fa8" stroke="#34505e" stroke-width="0.35" />
<circle cx="652.13" cy="59.66" r="1.5" fill="#1f5fa8" stroke="#34505e" stroke-width="0.35" />
<circle cx="652.75" cy="59.94" r="1.5" fill="#1f5fa8" stroke="#34505e" stroke-width="0.35" />
<circle cx="653.36" cy="60.21" r="1.5" fill="#1f5fa8" stroke="#34505e" stroke-width="0.35" />
<circle cx="653.95" cy="60.48" r="1.5" fill="#1f5fa8" stroke="#34505e" stroke-width="0.35" />
<circle cx="654.54" cy="60.74" r="1.5" fill="#1f5fa8" stroke="#34505e" stroke-width="0.35" />
<circle cx="655.11" cy="61.00" r="1.5" fill="#1f5fa8" stroke="#34505e" stroke-width="0.35" />
<circle cx="655.67" cy="61.25" r="1.5" fill="#1f5fa8" stroke="#34505e" stroke-width="0.35" />
<circle cx="656.22" cy="61.50" r="1.5" fill="#1f5fa8" stroke="#34505e" stroke-width="0.35" />
<circle cx="656.75" cy="61.76" r="1.5" fill="#1f5fa8" stroke="#34505e" stroke-width="0.35" />
<circle cx="657.28" cy="62.01" r="1.5" fill="#1f5fa8" stroke="#34505e" stroke-width="0.35" />
<circle cx="657.80" cy="62.26" r="1.5" fill="#1f5fa8" stroke="#34505e" stroke-width="0.35" />
<circle cx="658.31" cy="62.50" r="1.5" fill="#1f5fa8" stroke="#34505e" stroke-width="0.35" />
<circle cx="658.81" cy="62.74" r="1.5" fill="#1f5fa8" stroke="#34505e" stroke-width="0.35" />
<circle cx="659.30" cy="62.97" r="1.5" fill="#1f5fa8" stroke="#34505e" stroke-width="0.35" />
<circle cx="659.79" cy="63.20" r="1.5" fill="#1f5fa8" stroke="#34505e" stroke-width="0.35" />
<circle cx="660.26" cy="63.42" r="1.5" fill="#1f5fa8" stroke="#34505e" stroke-width="0.35" />
<circle cx="660.73" cy="63.65" r="1.5" fill="#1f5fa8" stroke="#34505e" stroke-width="0.35" />
<circle cx="661.19" cy="63.87" r="1.5" fill="#1f5fa8" stroke="#34505e" stroke-width="0.35" />
<circle cx="661.64" cy="64.08" r="1.5" fill="#1f5fa8" stroke="#34505e" stroke-width="0.35" />
<circle cx="662.09" cy="64.29" r="1.5" fill="#1f5fa8" stroke="#34505e" stroke-width="0.35" />
<circle cx="662.53" cy="64.50" r="1.5" fill="#1f5fa8" stroke="#34505e" stroke-width="0.35" />
<circle cx="662.96" cy="64.71" r="1.5" fill="#1f5fa8" stroke="#34505e" stroke-width="0.35" />
<circle cx="663.38" cy="64.91" r="1.5" fill="#1f5fa8" stroke="#34505e" stroke-width="0.35" />
<circle cx="663.80" cy="65.11" r="1.5" fill="#1f5fa8" stroke="#34505e" stroke-width="0.35" />
<circle cx="664.22" cy="65.29" r="1.5" fill="#1f5fa8" stroke="#34505e" stroke-width="0.35" />
<circle cx="664.63" cy="65.45" r="1.5" fill="#1f5fa8" stroke="#34505e" stroke-width="0.35" />
<circle cx="665.03" cy="65.61" r="1.5" fill="#1f5fa8" stroke="#34505e" stroke-width="0.35" />
<circle cx="665.42" cy="65.77" r="1.5" fill="#1f5fa8" stroke="#34505e" stroke-width="0.35" />
<circle cx="665.81" cy="65.93" r="1.5" fill="#1f5fa8" stroke="#34505e" stroke-width="0.35" />
<circle cx="666.20" cy="66.08" r="1.5" fill="#1f5fa8" stroke="#34505e" stroke-width="0.35" />
<circle cx="666.58" cy="66.23" r="1.5" fill="#1f5fa8" stroke="#34505e" stroke-width="0.35" />
<circle cx="666.95" cy="66.38" r="1.5" fill="#1f5fa8" stroke="#34505e" stroke-width="0.35" />
<circle cx="667.32" cy="66.53" r="1.5" fill="#1f5fa8" stroke="#34505e" stroke-width="0.35" />
<circle cx="667.69" cy="66.68" r="1.5" fill="#1f5fa8" stroke="#34505e" stroke-width="0.35" />
<circle cx="668.05" cy="66.82" r="1.5" fill="#1f5fa8" stroke="#34505e" stroke-width="0.35" />
<circle cx="668.41" cy="66.96" r="1.5" fill="#1f5fa8" stroke="#34505e" stroke-width="0.35" />
<circle cx="668.76" cy="67.10" r="1.5" fill="#1f5fa8" stroke="#34505e" stroke-width="0.35" />
<circle cx="669.11" cy="67.21" r="1.5" fill="#1f5fa8" stroke="#34505e" stroke-width="0.35" />
<circle cx="669.45" cy="67.23" r="1.5" fill="#1f5fa8" stroke="#34505e" stroke-width="0.35" />
<circle cx="669.79" cy="67.25" r="1.5" fill="#1f5fa8" stroke="#34505e" stroke-width="0.35" />
<circle cx="670.13" cy="67.27" r="1.5" fill="#1f5fa8" stroke="#34505e" stroke-width="0.35" />
<circle cx="670.46" cy="67.29" r="1.5" fill="#1f5fa8" stroke="#34505e" stroke-width="0.35" />
<circle cx="670.79" cy="67.31" r="1.5" fill="#1f5fa8" stroke="#34505e" stroke-width="0.35" />
<circle cx="671.11" cy="67.33" r="1.5" fill="#1f5fa8" stroke="#34505e" stroke-width="0.35" />
<circle cx="671.43" cy="67.35" r="1.5" fill="#1f5fa8" stroke="#34505e" stroke-width="0.35" />
<circle cx="671.75" cy="67.36" r="1.5" fill="#1f5fa8" stroke="#34505e" stroke-width="0.35" />
<circle cx="672.06" cy="67.38" r="1.5" fill="#1f5fa8" stroke="#34505e" stroke-width="0.35" />
<circle cx="672.37" cy="67.40" r="1.5" fill="#1f5fa8" stroke="#34505e" stroke-width="0.35" />
<circle cx="672.68" cy="67.42" r="1.5" fill="#1f5fa8" stroke="#34505e" stroke-width="0.35" />
<circle cx="672.98" cy="67.44" r="1.5" fill="#1f5fa8" stroke="#34505e" stroke-width="0.35" />
<circle cx="673.28" cy="67.46" r="1.5" fill="#1f5fa8" stroke="#34505e" stroke-width="0.35" />
<circle cx="673.58" cy="67.47" r="1.5" fill="#1f5fa8" stroke="#34505e" stroke-width="0.35" />
<circle cx="673.87" cy="67.49" r="1.5" fill="#1f5fa8" stroke="#34505e" stroke-width="0.35" />
<circle cx="674.16" cy="67.51" r="1.5" fill="#1f5fa8" stroke="#34505e" stroke-width="0.35" />
<circle cx="674.45" cy="67.53" r="1.5" fill="#1f5fa8" stroke="#34505e" stroke-width="0.35" />
<circle cx="674.74" cy="67.54" r="1.5" fill="#1f5fa8" stroke="#34505e" stroke-width="0.35" />
<circle cx="675.02" cy="67.56" r="1.5" fill="#1f5fa8" stroke="#34505e" stroke-width="0.35" />
<circle cx="675.30" cy="67.58" r="1.5" fill="#1f5fa8" stroke="#34505e" stroke-width="0.35" />
<circle cx="675.57" cy="67.59" r="1.5" fill="#1f5fa8" stroke="#34505e" stroke-width="0.35" />
<circle cx="675.85" cy="67.61" r="1.5" fill="#1f5fa8" stroke="#34505e" stroke-width="0.35" />
<circle cx="676.12" cy="67.63" r="1.5" fill="#1f5fa8" stroke="#34505e" stroke-width="0.35" />
<circle cx="676.39" cy="67.64" r="1.5" fill="#1f5fa8" stroke="#34505e" stroke-width="0.35" />
<circle cx="676.65" cy="67.66" r="1.5" fill="#1f5fa8" stroke="#34505e" stroke-width="0.35" />
<circle cx="676.92" cy="67.68" r="1.5" fill="#1f5fa8" stroke="#34505e" stroke-width="0.35" />
<circle cx="677.18" cy="67.69" r="1.5" fill="#1f5fa8" stroke="#34505e" stroke-width="0.35" />
<circle cx="677.44" cy="67.71" r="1.5" fill="#1f5fa8" stroke="#34505e" stroke-width="0.35" />
<circle cx="677.70" cy="67.72" r="1.5" fill="#1f5fa8" stroke="#34505e" stroke-width="0.35" />
<circle cx="677.95" cy="67.74" r="1.5" fill="#1f5fa8" stroke="#34505e" stroke-width="0.35" />
<circle cx="678.20" cy="67.75" r="1.5" fill="#1f5fa8" stroke="#34505e" stroke-width="0.35" />
<circle cx="678.45" cy="67.77" r="1.5" fill="#1f5fa8" stroke="#34505e" stroke-width="0.35" />
<line x1="600.53" y1="46.44" x2="600.53" y2="57.04" stroke="#4a4a4a" stroke-width="0.32" />
<line x1="599.23" y1="46.44" x2="601.83" y2="46.44" stroke="#4a4a4a" stroke-width="0.55" />
<line x1="599.23" y1="57.04" x2="601.83" y2="57.04" stroke="#4a4a4a" stroke-width="0.55" />
<line x1="604.13" y1="47.02" x2="604.13" y2="57.62" stroke="#4a4a4a" stroke-width="0.32" />
<line x1="602.83" y1="47.02" x2="605.43" y2="47.02" stroke="#4a4a4a" stroke-width="0.55" />
<line x1="602.83" y1="57.62" x2="605.43" y2="57.62" stroke="#4a4a4a" stroke-width="0.55" />
<line x1="607.33" y1="47.08" x2="607.33" y2="57.68" stroke="#4a4a4a" stroke-width="0.32" />
<line x1="606.03" y1="47.08" x2="608.63" y2="47.08" stroke="#4a4a4a" stroke-width="0.55" />
<line x1="606.03" y1="57.68" x2="608.63" y2="57.68" stroke="#4a4a4a" stroke-width="0.55" />
<line x1="610.20" y1="47.13" x2="610.20" y2="57.73" stroke="#4a4a4a" stroke-width="0.32" />
<line x1="608.90" y1="47.13" x2="611.50" y2="47.13" stroke="#4a4a4a" stroke-width="0.55" />
<line x1="608.90" y1="57.73" x2="611.50" y2="57.73" stroke="#4a4a4a" stroke-width="0.55" />
<line x1="612.81" y1="47.17" x2="612.81" y2="57.77" stroke="#4a4a4a" stroke-width="0.32" />
<line x1="611.51" y1="47.17" x2="614.11" y2="47.17" stroke="#4a4a4a" stroke-width="0.55" />
<line x1="611.51" y1="57.77" x2="614.11" y2="57.77" stroke="#4a4a4a" stroke-width="0.55" />
<line x1="615.20" y1="47.22" x2="615.20" y2="57.82" stroke="#4a4a4a" stroke-width="0.32" />
<line x1="613.90" y1="47.22" x2="616.50" y2="47.22" stroke="#4a4a4a" stroke-width="0.55" />
<line x1="613.90" y1="57.82" x2="616.50" y2="57.82" stroke="#4a4a4a" stroke-width="0.55" />
<line x1="617.40" y1="47.25" x2="617.40" y2="57.85" stroke="#4a4a4a" stroke-width="0.32" />
<line x1="616.10" y1="47.25" x2="618.70" y2="47.25" stroke="#4a4a4a" stroke-width="0.55" />
<line x1="616.10" y1="57.85" x2="618.70" y2="57.85" stroke="#4a4a4a" stroke-width="0.55" />
<line x1="619.45" y1="47.29" x2="619.45" y2="57.89" stroke="#4a4a4a" stroke-width="0.32" />
<line x1="618.15" y1="47.29" x2="620.75" y2="47.29" stroke="#4a4a4a" stroke-width="0.55" />
<line x1="618.15" y1="57.89" x2="620.75" y2="57.89" stroke="#4a4a4a" stroke-width="0.55" />
<line x1="621.36" y1="47.34" x2="621.36" y2="57.94" stroke="#4a4a4a" stroke-width="0.32" />
<line x1="620.06" y1="47.34" x2="622.66" y2="47.34" stroke="#4a4a4a" stroke-width="0.55" />
<line x1="620.06" y1="57.94" x2="622.66" y2="57.94" stroke="#4a4a4a" stroke-width="0.55" />
<line x1="623.15" y1="47.39" x2="623.15" y2="57.99" stroke="#4a4a4a" stroke-width="0.32" />
<line x1="621.85" y1="47.39" x2="624.45" y2="47.39" stroke="#4a4a4a" stroke-width="0.55" />
<line x1="621.85" y1="57.99" x2="624.45" y2="57.99" stroke="#4a4a4a" stroke-width="0.55" />
<line x1="624.83" y1="47.44" x2="624.83" y2="58.04" stroke="#4a4a4a" stroke-width="0.32" />
<line x1="623.53" y1="47.44" x2="626.13" y2="47.44" stroke="#4a4a4a" stroke-width="0.55" />
<line x1="623.53" y1="58.04" x2="626.13" y2="58.04" stroke="#4a4a4a" stroke-width="0.55" />
<line x1="626.42" y1="47.48" x2="626.42" y2="58.08" stroke="#4a4a4a" stroke-width="0.32" />
<line x1="625.12" y1="47.48" x2="627.72" y2="47.48" stroke="#4a4a4a" stroke-width="0.55" />
<line x1="625.12" y1="58.08" x2="627.72" y2="58.08" stroke="#4a4a4a" stroke-width="0.55" />
<line x1="627.93" y1="47.53" x2="627.93" y2="58.13" stroke="#4a4a4a" stroke-width="0.32" />
<line x1="626.63" y1="47.53" x2="629.23" y2="47.53" stroke="#4a4a4a" stroke-width="0.55" />
<line x1="626.63" y1="58.13" x2="629.23" y2="58.13" stroke="#4a4a4a" stroke-width="0.55" />
<line x1="629.36" y1="47.57" x2="629.36" y2="58.17" stroke="#4a4a4a" stroke-width="0.32" />
<line x1="628.06" y1="47.57" x2="630.66" y2="47.57" stroke="#4a4a4a" stroke-width="0.55" />
<line x1="628.06" y1="58.17" x2="630.66" y2="58.17" stroke="#4a4a4a" stroke-width="0.55" />
<line x1="630.72" y1="47.61" x2="630.72" y2="58.21" stroke="#4a4a4a" stroke-width="0.32" />
<line x1="629.42" y1="47.61" x2="632.02" y2="47.61" stroke="#4a4a4a" stroke-width="0.55" />
<line x1="629.42" y1="58.21" x2="632.02" y2="58.21" stroke="#4a4a4a" stroke-width="0.55" />
<line x1="632.02" y1="47.64" x2="632.02" y2="58.24" stroke="#4a4a4a" stroke-width="0.32" />
<line x1="630.72" y1="47.64" x2="633.32" y2="47.64" stroke="#4a4a4a" stroke-width="0.55" />
<line x1="630.72" y1="58.24" x2="633.32" y2="58.24" stroke="#4a4a4a" stroke-width="0.55" />
<line x1="633.26" y1="47.72" x2="633.26" y2="58.24" stroke="#4a4a4a" stroke-width="0.32" />
<line x1="631.96" y1="47.72" x2="634.56" y2="47.72" stroke="#4a4a4a" stroke-width="0.55" />
<line x1="631.96" y1="58.24" x2="634.56" y2="58.24" stroke="#4a4a4a" stroke-width="0.55" />
<line x1="634.46" y1="47.90" x2="634.46" y2="58.34" stroke="#4a4a4a" stroke-width="0.32" />
<line x1="633.16" y1="47.90" x2="635.76" y2="47.90" stroke="#4a4a4a" stroke-width="0.55" />
<line x1="633.16" y1="58.34" x2="635.76" y2="58.34" stroke="#4a4a4a" stroke-width="0.55" />
<line x1="635.60" y1="48.23" x2="635.60" y2="58.59" stroke="#4a4a4a" stroke-width="0.32" />
<line x1="634.30" y1="48.23" x2="636.90" y2="48.23" stroke="#4a4a4a" stroke-width="0.55" />
<line x1="634.30" y1="58.59" x2="636.90" y2="58.59" stroke="#4a4a4a" stroke-width="0.55" />
<line x1="636.70" y1="48.55" x2="636.70" y2="58.84" stroke="#4a4a4a" stroke-width="0.32" />
<line x1="635.40" y1="48.55" x2="638.00" y2="48.55" stroke="#4a4a4a" stroke-width="0.55" />
<line x1="635.40" y1="58.84" x2="638.00" y2="58.84" stroke="#4a4a4a" stroke-width="0.55" />
<line x1="637.76" y1="48.85" x2="637.76" y2="59.08" stroke="#4a4a4a" stroke-width="0.32" />
<line x1="636.46" y1="48.85" x2="639.06" y2="48.85" stroke="#4a4a4a" stroke-width="0.55" />
<line x1="636.46" y1="59.08" x2="639.06" y2="59.08" stroke="#4a4a4a" stroke-width="0.55" />
<line x1="638.78" y1="49.15" x2="638.78" y2="59.31" stroke="#4a4a4a" stroke-width="0.32" />
<line x1="637.48" y1="49.15" x2="640.08" y2="49.15" stroke="#4a4a4a" stroke-width="0.55" />
<line x1="637.48" y1="59.31" x2="640.08" y2="59.31" stroke="#4a4a4a" stroke-width="0.55" />
<line x1="639.76" y1="49.43" x2="639.76" y2="59.53" stroke="#4a4a4a" stroke-width="0.32" />
<line x1="638.46" y1="49.43" x2="641.06" y2="49.43" stroke="#4a4a4a" stroke-width="0.55" />
<line x1="638.46" y1="59.53" x2="641.06" y2="59.53" stroke="#4a4a4a" stroke-width="0.55" />
<line x1="640.71" y1="49.71" x2="640.71" y2="59.74" stroke="#4a4a4a" stroke-width="0.32" />
<line x1="639.41" y1="49.71" x2="642.01" y2="49.71" stroke="#4a4a4a" stroke-width="0.55" />
<line x1="639.41" y1="59.74" x2="642.01" y2="59.74" stroke="#4a4a4a" stroke-width="0.55" />
<line x1="641.64" y1="50.09" x2="641.64" y2="60.06" stroke="#4a4a4a" stroke-width="0.32" />
<line x1="640.34" y1="50.09" x2="642.94" y2="50.09" stroke="#4a4a4a" stroke-width="0.55" />
<line x1="640.34" y1="60.06" x2="642.94" y2="60.06" stroke="#4a4a4a" stroke-width="0.55" />
<line x1="642.53" y1="50.50" x2="642.53" y2="60.41" stroke="#4a4a4a" stroke-width="0.32" />
<line x1="641.23" y1="50.50" x2="643.83" y2="50.50" stroke="#4a4a4a" stroke-width="0.55" />
<line x1="641.23" y1="60.41" x2="643.83" y2="60.41" stroke="#4a4a4a" stroke-width="0.55" />
<line x1="643.39" y1="50.90" x2="643.39" y2="60.75" stroke="#4a4a4a" stroke-width="0.32" />
<line x1="642.09" y1="50.90" x2="644.69" y2="50.90" stroke="#4a4a4a" stroke-width="0.55" />
<line x1="642.09" y1="60.75" x2="644.69" y2="60.75" stroke="#4a4a4a" stroke-width="0.55" />
<line x1="644.23" y1="51.28" x2="644.23" y2="61.09" stroke="#4a4a4a" stroke-width="0.32" />
<line x1="642.93" y1="51.28" x2="645.53" y2="51.28" stroke="#4a4a4a" stroke-width="0.55" />
<line x1="642.93" y1="61.09" x2="645.53" y2="61.09" stroke="#4a4a4a" stroke-width="0.55" />
<line x1="645.05" y1="51.66" x2="645.05" y2="61.41" stroke="#4a4a4a" stroke-width="0.32" />
<line x1="643.75" y1="51.66" x2="646.35" y2="51.66" stroke="#4a4a4a" stroke-width="0.55" />
<line x1="643.75" y1="61.41" x2="646.35" y2="61.41" stroke="#4a4a4a" stroke-width="0.55" />
<line x1="645.84" y1="52.03" x2="645.84" y2="61.72" stroke="#4a4a4a" stroke-width="0.32" />
<line x1="644.54" y1="52.03" x2="647.14" y2="52.03" stroke="#4a4a4a" stroke-width="0.55" />
<line x1="644.54" y1="61.72" x2="647.14" y2="61.72" stroke="#4a4a4a" stroke-width="0.55" />
<line x1="646.61" y1="52.38" x2="646.61" y2="62.03" stroke="#4a4a4a" stroke-width="0.32" />
<line x1="645.31" y1="52.38" x2="647.91" y2="52.38" stroke="#4a4a4a" stroke-width="0.55" />
<line x1="645.31" y1="62.03" x2="647.91" y2="62.03" stroke="#4a4a4a" stroke-width="0.55" />
<line x1="647.36" y1="52.73" x2="647.36" y2="62.33" stroke="#4a4a4a" stroke-width="0.32" />
<line x1="646.06" y1="52.73" x2="648.66" y2="52.73" stroke="#4a4a4a" stroke-width="0.55" />
<line x1="646.06" y1="62.33" x2="648.66" y2="62.33" stroke="#4a4a4a" stroke-width="0.55" />
<line x1="648.10" y1="53.07" x2="648.10" y2="62.62" stroke="#4a4a4a" stroke-width="0.32" />
<line x1="646.80" y1="53.07" x2="649.40" y2="53.07" stroke="#4a4a4a" stroke-width="0.55" />
<line x1="646.80" y1="62.62" x2="649.40" y2="62.62" stroke="#4a4a4a" stroke-width="0.55" />
<line x1="648.81" y1="53.41" x2="648.81" y2="62.92" stroke="#4a4a4a" stroke-width="0.32" />
<line x1="647.51" y1="53.41" x2="650.11" y2="53.41" stroke="#4a4a4a" stroke-width="0.55" />
<line x1="647.51" y1="62.92" x2="650.11" y2="62.92" stroke="#4a4a4a" stroke-width="0.55" />
<line x1="649.51" y1="53.75" x2="649.51" y2="63.21" stroke="#4a4a4a" stroke-width="0.32" />
<line x1="648.21" y1="53.75" x2="650.81" y2="53.75" stroke="#4a4a4a" stroke-width="0.55" />
<line x1="648.21" y1="63.21" x2="650.81" y2="63.21" stroke="#4a4a4a" stroke-width="0.55" />
<line x1="650.19" y1="54.08" x2="650.19" y2="63.49" stroke="#4a4a4a" stroke-width="0.32" />
<line x1="648.89" y1="54.08" x2="651.49" y2="54.08" stroke="#4a4a4a" stroke-width="0.55" />
<line x1="648.89" y1="63.49" x2="651.49" y2="63.49" stroke="#4a4a4a" stroke-width="0.55" />
<line x1="650.85" y1="54.40" x2="650.85" y2="63.77" stroke="#4a4a4a" stroke-width="0.32" />
<line x1="649.55" y1="54.40" x2="652.15" y2="54.40" stroke="#4a4a4a" stroke-width="0.55" />
<line x1="649.55" y1="63.77" x2="652.15" y2="63.77" stroke="#4a4a4a" stroke-width="0.55" />
<line x1="651.50" y1="54.71" x2="651.50" y2="64.04" stroke="#4a4a4a" stroke-width="0.32" />
<line x1="650.20" y1="54.71" x2="652.80" y2="54.71" stroke="#4a4a4a" stroke-width="0.55" />
<line x1="650.20" y1="64.04" x2="652.80" y2="64.04" stroke="#4a4a4a" stroke-width="0.55" />
<line x1="652.13" y1="55.02" x2="652.13" y2="64.30" stroke="#4a4a4a" stroke-width="0.32" />
<line x1="650.83" y1="55.02" x2="653.43" y2="55.02" stroke="#4a4a4a" stroke-width="0.55" />
<line x1="650.83" y1="64.30" x2="653.43" y2="64.30" stroke="#4a4a4a" stroke-width="0.55" />
<line x1="652.75" y1="55.32" x2="652.75" y2="64.56" stroke="#4a4a4a" stroke-width="0.32" />
<line x1="651.45" y1="55.32" x2="654.05" y2="55.32" stroke="#4a4a4a" stroke-width="0.55" />
<line x1="651.45" y1="64.56" x2="654.05" y2="64.56" stroke="#4a4a4a" stroke-width="0.55" />
<line x1="653.36" y1="55.61" x2="653.36" y2="64.82" stroke="#4a4a4a" stroke-width="0.32" />
<line x1="652.06" y1="55.61" x2="654.66" y2="55.61" stroke="#4a4a4a" stroke-width="0.55" />
<line x1="652.06" y1="64.82" x2="654.66" y2="64.82" stroke="#4a4a4a" stroke-width="0.55" />
<line x1="653.95" y1="55.90" x2="653.95" y2="65.06" stroke="#4a4a4a" stroke-width="0.32" />
<line x1="652.65" y1="55.90" x2="655.25" y2="55.90" stroke="#4a4a4a" stroke-width="0.55" />
<line x1="652.65" y1="65.06" x2="655.25" y2="65.06" stroke="#4a4a4a" stroke-width="0.55" />
<line x1="654.54" y1="56.18" x2="654.54" y2="65.31" stroke="#4a4a4a" stroke-width="0.32" />
<line x1="653.24" y1="56.18" x2="655.84" y2="56.18" stroke="#4a4a4a" stroke-width="0.55" />
<line x1="653.24" y1="65.31" x2="655.84" y2="65.31" stroke="#4a4a4a" stroke-width="0.55" />
<line x1="655.11" y1="56.45" x2="655.11" y2="65.54" stroke="#4a4a4a" stroke-width="0.32" />
<line x1="653.81" y1="56.45" x2="656.41" y2="56.45" stroke="#4a4a4a" stroke-width="0.55" />
<line x1="653.81" y1="65.54" x2="656.41" y2="65.54" stroke="#4a4a4a" stroke-width="0.55" />
<line x1="655.67" y1="56.72" x2="655.67" y2="65.78" stroke="#4a4a4a" stroke-width="0.32" />
<line x1="654.37" y1="56.72" x2="656.97" y2="56.72" stroke="#4a4a4a" stroke-width="0.55" />
<line x1="654.37" y1="65.78" x2="656.97" y2="65.78" stroke="#4a4a4a" stroke-width="0.55" />
<line x1="656.22" y1="56.99" x2="656.22" y2="66.01" stroke="#4a4a4a" stroke-width="0.32" />
<line x1="654.92" y1="56.99" x2="657.52" y2="56.99" stroke="#4a4a4a" stroke-width="0.55" />
<line x1="654.92" y1="66.01" x2="657.52" y2="66.01" stroke="#4a4a4a" stroke-width="0.55" />
<line x1="656.75" y1="57.27" x2="656.75" y2="66.25" stroke="#4a4a4a" stroke-width="0.32" />
<line x1="655.45" y1="57.27" x2="658.05" y2="57.27" stroke="#4a4a4a" stroke-width="0.55" />
<line x1="655.45" y1="66.25" x2="658.05" y2="66.25" stroke="#4a4a4a" stroke-width="0.55" />
<line x1="657.28" y1="57.53" x2="657.28" y2="66.48" stroke="#4a4a4a" stroke-width="0.32" />
<line x1="655.98" y1="57.53" x2="658.58" y2="57.53" stroke="#4a4a4a" stroke-width="0.55" />
<line x1="655.98" y1="66.48" x2="658.58" y2="66.48" stroke="#4a4a4a" stroke-width="0.55" />
<line x1="657.80" y1="57.80" x2="657.80" y2="66.71" stroke="#4a4a4a" stroke-width="0.32" />
<line x1="656.50" y1="57.80" x2="659.10" y2="57.80" stroke="#4a4a4a" stroke-width="0.55" />
<line x1="656.50" y1="66.71" x2="659.10" y2="66.71" stroke="#4a4a4a" stroke-width="0.55" />
<line x1="658.31" y1="58.06" x2="658.31" y2="66.94" stroke="#4a4a4a" stroke-width="0.32" />
<line x1="657.01" y1="58.06" x2="659.61" y2="58.06" stroke="#4a4a4a" stroke-width="0.55" />
<line x1="657.01" y1="66.94" x2="659.61" y2="66.94" stroke="#4a4a4a" stroke-width="0.55" />
<line x1="658.81" y1="58.31" x2="658.81" y2="67.16" stroke="#4a4a4a" stroke-width="0.32" />
<line x1="657.51" y1="58.31" x2="660.11" y2="58.31" stroke="#4a4a4a" stroke-width="0.55" />
<line x1="657.51" y1="67.16" x2="660.11" y2="67.16" stroke="#4a4a4a" stroke-width="0.55" />
<line x1="659.30" y1="58.56" x2="659.30" y2="67.38" stroke="#4a4a4a" stroke-width="0.32" />
<line x1="658.00" y1="58.56" x2="660.60" y2="58.56" stroke="#4a4a4a" stroke-width="0.55" />
<line x1="658.00" y1="67.38" x2="660.60" y2="67.38" stroke="#4a4a4a" stroke-width="0.55" />
<line x1="659.79" y1="58.80" x2="659.79" y2="67.59" stroke="#4a4a4a" stroke-width="0.32" />
<line x1="658.49" y1="58.80" x2="661.09" y2="58.80" stroke="#4a4a4a" stroke-width="0.55" />
<line x1="658.49" y1="67.59" x2="661.09" y2="67.59" stroke="#4a4a4a" stroke-width="0.55" />
<line x1="660.26" y1="59.05" x2="660.26" y2="67.80" stroke="#4a4a4a" stroke-width="0.32" />
<line x1="658.96" y1="59.05" x2="661.56" y2="59.05" stroke="#4a4a4a" stroke-width="0.55" />
<line x1="658.96" y1="67.80" x2="661.56" y2="67.80" stroke="#4a4a4a" stroke-width="0.55" />
<line x1="660.73" y1="59.28" x2="660.73" y2="68.01" stroke="#4a4a4a" stroke-width="0.32" />
<line x1="659.43" y1="59.28" x2="662.03" y2="59.28" stroke="#4a4a4a" stroke-width="0.55" />
<line x1="659.43" y1="68.01" x2="662.03" y2="68.01" stroke="#4a4a4a" stroke-width="0.55" />
<line x1="661.19" y1="59.52" x2="661.19" y2="68.21" stroke="#4a4a4a" stroke-width="0.32" />
<line x1="659.89" y1="59.52" x2="662.49" y2="59.52" stroke="#4a4a4a" stroke-width="0.55" />
<line x1="659.89" y1="68.21" x2="662.49" y2="68.21" stroke="#4a4a4a" stroke-width="0.55" />
<line x1="661.64" y1="59.75" x2="661.64" y2="68.41" stroke="#4a4a4a" stroke-width="0.32" />
<line x1="660.34" y1="59.75" x2="662.94" y2="59.75" stroke="#4a4a4a" stroke-width="0.55" />
<line x1="660.34" y1="68.41" x2="662.94" y2="68.41" stroke="#4a4a4a" stroke-width="0.55" />
<line x1="662.09" y1="59.97" x2="662.09" y2="68.61" stroke="#4a4a4a" stroke-width="0.32" />
<line x1="660.79" y1="59.97" x2="663.39" y2="59.97" stroke="#4a4a4a" stroke-width="0.55" />
<line x1="660.79" y1="68.61" x2="663.39" y2="68.61" stroke="#4a4a4a" stroke-width="0.55" />
<line x1="662.53" y1="60.20" x2="662.53" y2="68.80" stroke="#4a4a4a" stroke-width="0.32" />
<line x1="661.23" y1="60.20" x2="663.83" y2="60.20" stroke="#4a4a4a" stroke-width="0.55" />
<line x1="661.23" y1="68.80" x2="663.83" y2="68.80" stroke="#4a4a4a" stroke-width="0.55" />
<line x1="662.96" y1="60.42" x2="662.96" y2="69.00" stroke="#4a4a4a" stroke-width="0.32" />
<line x1="661.66" y1="60.42" x2="664.26" y2="60.42" stroke="#4a4a4a" stroke-width="0.55" />
<line x1="661.66" y1="69.00" x2="664.26" y2="69.00" stroke="#4a4a4a" stroke-width="0.55" />
<line x1="663.38" y1="60.63" x2="663.38" y2="69.18" stroke="#4a4a4a" stroke-width="0.32" />
<line x1="662.08" y1="60.63" x2="664.68" y2="60.63" stroke="#4a4a4a" stroke-width="0.55" />
<line x1="662.08" y1="69.18" x2="664.68" y2="69.18" stroke="#4a4a4a" stroke-width="0.55" />
<line x1="663.80" y1="60.84" x2="663.80" y2="69.37" stroke="#4a4a4a" stroke-width="0.32" />
<line x1="662.50" y1="60.84" x2="665.10" y2="60.84" stroke="#4a4a4a" stroke-width="0.55" />
<line x1="662.50" y1="69.37" x2="665.10" y2="69.37" stroke="#4a4a4a" stroke-width="0.55" />
<line x1="664.22" y1="61.04" x2="664.22" y2="69.54" stroke="#4a4a4a" stroke-width="0.32" />
<line x1="662.92" y1="61.04" x2="665.52" y2="61.04" stroke="#4a4a4a" stroke-width="0.55" />
<line x1="662.92" y1="69.54" x2="665.52" y2="69.54" stroke="#4a4a4a" stroke-width="0.55" />
<line x1="664.63" y1="61.21" x2="664.63" y2="69.69" stroke="#4a4a4a" stroke-width="0.32" />
<line x1="663.33" y1="61.21" x2="665.93" y2="61.21" stroke="#4a4a4a" stroke-width="0.55" />
<line x1="663.33" y1="69.69" x2="665.93" y2="69.69" stroke="#4a4a4a" stroke-width="0.55" />
<line x1="665.03" y1="61.39" x2="665.03" y2="69.83" stroke="#4a4a4a" stroke-width="0.32" />
<line x1="663.73" y1="61.39" x2="666.33" y2="61.39" stroke="#4a4a4a" stroke-width="0.55" />
<line x1="663.73" y1="69.83" x2="666.33" y2="69.83" stroke="#4a4a4a" stroke-width="0.55" />
<line x1="665.42" y1="61.56" x2="665.42" y2="69.98" stroke="#4a4a4a" stroke-width="0.32" />
<line x1="664.12" y1="61.56" x2="666.72" y2="61.56" stroke="#4a4a4a" stroke-width="0.55" />
<line x1="664.12" y1="69.98" x2="666.72" y2="69.98" stroke="#4a4a4a" stroke-width="0.55" />
<line x1="665.81" y1="61.73" x2="665.81" y2="70.12" stroke="#4a4a4a" stroke-width="0.32" />
<line x1="664.51" y1="61.73" x2="667.11" y2="61.73" stroke="#4a4a4a" stroke-width="0.55" />
<line x1="664.51" y1="70.12" x2="667.11" y2="70.12" stroke="#4a4a4a" stroke-width="0.55" />
<line x1="666.20" y1="61.89" x2="666.20" y2="70.26" stroke="#4a4a4a" stroke-width="0.32" />
<line x1="664.90" y1="61.89" x2="667.50" y2="61.89" stroke="#4a4a4a" stroke-width="0.55" />
<line x1="664.90" y1="70.26" x2="667.50" y2="70.26" stroke="#4a4a4a" stroke-width="0.55" />
<line x1="666.58" y1="62.06" x2="666.58" y2="70.40" stroke="#4a4a4a" stroke-width="0.32" />
<line x1="665.28" y1="62.06" x2="667.88" y2="62.06" stroke="#4a4a4a" stroke-width="0.55" />
<line x1="665.28" y1="70.40" x2="667.88" y2="70.40" stroke="#4a4a4a" stroke-width="0.55" />
<line x1="666.95" y1="62.22" x2="666.95" y2="70.54" stroke="#4a4a4a" stroke-width="0.32" />
<line x1="665.65" y1="62.22" x2="668.25" y2="62.22" stroke="#4a4a4a" stroke-width="0.55" />
<line x1="665.65" y1="70.54" x2="668.25" y2="70.54" stroke="#4a4a4a" stroke-width="0.55" />
<line x1="667.32" y1="62.38" x2="667.32" y2="70.68" stroke="#4a4a4a" stroke-width="0.32" />
<line x1="666.02" y1="62.38" x2="668.62" y2="62.38" stroke="#4a4a4a" stroke-width="0.55" />
<line x1="666.02" y1="70.68" x2="668.62" y2="70.68" stroke="#4a4a4a" stroke-width="0.55" />
<line x1="667.69" y1="62.54" x2="667.69" y2="70.81" stroke="#4a4a4a" stroke-width="0.32" />
<line x1="666.39" y1="62.54" x2="668.99" y2="62.54" stroke="#4a4a4a" stroke-width="0.55" />
<line x1="666.39" y1="70.81" x2="668.99" y2="70.81" stroke="#4a4a4a" stroke-width="0.55" />
<line x1="668.05" y1="62.70" x2="668.05" y2="70.94" stroke="#4a4a4a" stroke-width="0.32" />
<line x1="666.75" y1="62.70" x2="669.35" y2="62.70" stroke="#4a4a4a" stroke-width="0.55" />
<line x1="666.75" y1="70.94" x2="669.35" y2="70.94" stroke="#4a4a4a" stroke-width="0.55" />
<line x1="668.41" y1="62.85" x2="668.41" y2="71.08" stroke="#4a4a4a" stroke-width="0.32" />
<line x1="667.11" y1="62.85" x2="669.71" y2="62.85" stroke="#4a4a4a" stroke-width="0.55" />
<line x1="667.11" y1="71.08" x2="669.71" y2="71.08" stroke="#4a4a4a" stroke-width="0.55" />
<line x1="668.76" y1="63.00" x2="668.76" y2="71.21" stroke="#4a4a4a" stroke-width="0.32" />
<line x1="667.46" y1="63.00" x2="670.06" y2="63.00" stroke="#4a4a4a" stroke-width="0.55" />
<line x1="667.46" y1="71.21" x2="670.06" y2="71.21" stroke="#4a4a4a" stroke-width="0.55" />
<line x1="669.11" y1="63.12" x2="669.11" y2="71.30" stroke="#4a4a4a" stroke-width="0.32" />
<line x1="667.81" y1="63.12" x2="670.41" y2="63.12" stroke="#4a4a4a" stroke-width="0.55" />
<line x1="667.81" y1="71.30" x2="670.41" y2="71.30" stroke="#4a4a4a" stroke-width="0.55" />
<line x1="669.45" y1="63.15" x2="669.45" y2="71.31" stroke="#4a4a4a" stroke-width="0.32" />
<line x1="668.15" y1="63.15" x2="670.75" y2="63.15" stroke="#4a4a4a" stroke-width="0.55" />
<line x1="668.15" y1="71.31" x2="670.75" y2="71.31" stroke="#4a4a4a" stroke-width="0.55" />
<line x1="669.79" y1="63.18" x2="669.79" y2="71.32" stroke="#4a4a4a" stroke-width="0.32" />
<line x1="668.49" y1="63.18" x2="671.09" y2="63.18" stroke="#4a4a4a" stroke-width="0.55" />
<line x1="668.49" y1="71.32" x2="671.09" y2="71.32" stroke="#4a4a4a" stroke-width="0.55" />
<line x1="670.13" y1="63.21" x2="670.13" y2="71.32" stroke="#4a4a4a" stroke-width="0.32" />
<line x1="668.83" y1="63.21" x2="671.43" y2="63.21" stroke="#4a4a4a" stroke-width="0.55" />
<line x1="668.83" y1="71.32" x2="671.43" y2="71.32" stroke="#4a4a4a" stroke-width="0.55" />
<line x1="670.46" y1="63.24" x2="670.46" y2="71.33" stroke="#4a4a4a" stroke-width="0.32" />
<line x1="669.16" y1="63.24" x2="671.76" y2="63.24" stroke="#4a4a4a" stroke-width="0.55" />
<line x1="669.16" y1="71.33" x2="671.76" y2="71.33" stroke="#4a4a4a" stroke-width="0.55" />
<line x1="670.79" y1="63.27" x2="670.79" y2="71.34" stroke="#4a4a4a" stroke-width="0.32" />
<line x1="669.49" y1="63.27" x2="672.09" y2="63.27" stroke="#4a4a4a" stroke-width="0.55" />
<line x1="669.49" y1="71.34" x2="672.09" y2="71.34" stroke="#4a4a4a" stroke-width="0.55" />
<line x1="671.11" y1="63.30" x2="671.11" y2="71.35" stroke="#4a4a4a" stroke-width="0.32" />
<line x1="669.81" y1="63.30" x2="672.41" y2="63.30" stroke="#4a4a4a" stroke-width="0.55" />
<line x1="669.81" y1="71.35" x2="672.41" y2="71.35" stroke="#4a4a4a" stroke-width="0.55" />
<line x1="671.43" y1="63.33" x2="671.43" y2="71.36" stroke="#4a4a4a" stroke-width="0.32" />
<line x1="670.13" y1="63.33" x2="672.73" y2="63.33" stroke="#4a4a4a" stroke-width="0.55" />
<line x1="670.13" y1="71.36" x2="672.73" y2="71.36" stroke="#4a4a4a" stroke-width="0.55" />
<line x1="671.75" y1="63.36" x2="671.75" y2="71.37" stroke="#4a4a4a" stroke-width="0.32" />
<line x1="670.45" y1="63.36" x2="673.05" y2="63.36" stroke="#4a4a4a" stroke-width="0.55" />
<line x1="670.45" y1="71.37" x2="673.05" y2="71.37" stroke="#4a4a4a" stroke-width="0.55" />
<line x1="672.06" y1="63.39" x2="672.06" y2="71.38" stroke="#4a4a4a" stroke-width="0.32" />
<line x1="670.76" y1="63.39" x2="673.36" y2="63.39" stroke="#4a4a4a" stroke-width="0.55" />
<line x1="670.76" y1="71.38" x2="673.36" y2="71.38" stroke="#4a4a4a" stroke-width="0.55" />
<line x1="672.37" y1="63.42" x2="672.37" y2="71.39" stroke="#4a4a4a" stroke-width="0.32" />
<line x1="671.07" y1="63.42" x2="673.67" y2="63.42" stroke="#4a4a4a" stroke-width="0.55" />
<line x1="671.07" y1="71.39" x2="673.67" y2="71.39" stroke="#4a4a4a" stroke-width="0.55" />
<line x1="672.68" y1="63.45" x2="672.68" y2="71.39" stroke="#4a4a4a" stroke-width="0.32" />
<line x1="671.38" y1="63.45" x2="673.98" y2="63.45" stroke="#4a4a4a" stroke-width="0.55" />
<line x1="671.38" y1="71.39" x2="673.98" y2="71.39" stroke="#4a4a4a" stroke-width="0.55" />
<line x1="672.98" y1="63.48" x2="672.98" y2="71.40" stroke="#4a4a4a" stroke-width="0.32" />
<line x1="671.68" y1="63.48" x2="674.28" y2="63.48" stroke="#4a4a4a" stroke-width="0.55" />
<line x1="671.68" y1="71.40" x2="674.28" y2="71.40" stroke="#4a4a4a" stroke-width="0.55" />
<line x1="673.28" y1="63.50" x2="673.28" y2="71.41" stroke="#4a4a4a" stroke-width="0.32" />
<line x1="671.98" y1="63.50" x2="674.58" y2="63.50" stroke="#4a4a4a" stroke-width="0.55" />
<line x1="671.98" y1="71.41" x2="674.58" y2="71.41" stroke="#4a4a4a" stroke-width="0.55" />
<line x1="673.58" y1="63.53" x2="673.58" y2="71.42" stroke="#4a4a4a" stroke-width="0.32" />
<line x1="672.28" y1="63.53" x2="674.88" y2="63.53" stroke="#4a4a4a" stroke-width="0.55" />
<line x1="672.28" y1="71.42" x2="674.88" y2="71.42" stroke="#4a4a4a" stroke-width="0.55" />
<line x1="673.87" y1="63.56" x2="673.87" y2="71.43" stroke="#4a4a4a" stroke-width="0.32" />
<line x1="672.57" y1="63.56" x2="675.17" y2="63.56" stroke="#4a4a4a" stroke-width="0.55" />
<line x1="672.57" y1="71.43" x2="675.17" y2="71.43" stroke="#4a4a4a" stroke-width="0.55" />
<line x1="674.16" y1="63.58" x2="674.16" y2="71.43" stroke="#4a4a4a" stroke-width="0.32" />
<line x1="672.86" y1="63.58" x2="675.46" y2="63.58" stroke="#4a4a4a" stroke-width="0.55" />
<line x1="672.86" y1="71.43" x2="675.46" y2="71.43" stroke="#4a4a4a" stroke-width="0.55" />
<line x1="674.45" y1="63.61" x2="674.45" y2="71.44" stroke="#4a4a4a" stroke-width="0.32" />
<line x1="673.15" y1="63.61" x2="675.75" y2="63.61" stroke="#4a4a4a" stroke-width="0.55" />
<line x1="673.15" y1="71.44" x2="675.75" y2="71.44" stroke="#4a4a4a" stroke-width="0.55" />
<line x1="674.74" y1="63.64" x2="674.74" y2="71.45" stroke="#4a4a4a" stroke-width="0.32" />
<line x1="673.44" y1="63.64" x2="676.04" y2="63.64" stroke="#4a4a4a" stroke-width="0.55" />
<line x1="673.44" y1="71.45" x2="676.04" y2="71.45" stroke="#4a4a4a" stroke-width="0.55" />
<line x1="675.02" y1="63.66" x2="675.02" y2="71.46" stroke="#4a4a4a" stroke-width="0.32" />
<line x1="673.72" y1="63.66" x2="676.32" y2="63.66" stroke="#4a4a4a" stroke-width="0.55" />
<line x1="673.72" y1="71.46" x2="676.32" y2="71.46" stroke="#4a4a4a" stroke-width="0.55" />
<line x1="675.30" y1="63.69" x2="675.30" y2="71.47" stroke="#4a4a4a" stroke-width="0.32" />
<line x1="674.00" y1="63.69" x2="676.60" y2="63.69" stroke="#4a4a4a" stroke-width="0.55" />
<line x1="674.00" y1="71.47" x2="676.60" y2="71.47" stroke="#4a4a4a" stroke-width="0.55" />
<line x1="675.57" y1="63.72" x2="675.57" y2="71.47" stroke="#4a4a4a" stroke-width="0.32" />
<line x1="674.27" y1="63.72" x2="676.87" y2="63.72" stroke="#4a4a4a" stroke-width="0.55" />
<line x1="674.27" y1="71.47" x2="676.87" y2="71.47" stroke="#4a4a4a" stroke-width="0.55" />
<line x1="675.85" y1="63.74" x2="675.85" y2="71.48" stroke="#4a4a4a" stroke-width="0.32" />
<line x1="674.55" y1="63.74" x2="677.15" y2="63.74" stroke="#4a4a4a" stroke-width="0.55" />
<line x1="674.55" y1="71.48" x2="677.15" y2="71.48" stroke="#4a4a4a" stroke-width="0.55" />
<line x1="676.12" y1="63.77" x2="676.12" y2="71.49" stroke="#4a4a4a" stroke-width="0.32" />
<line x1="674.82" y1="63.77" x2="677.42" y2="63.77" stroke="#4a4a4a" stroke-width="0.55" />
<line x1="674.82" y1="71.49" x2="677.42" y2="71.49" stroke="#4a4a4a" stroke-width="0.55" />
<line x1="676.39" y1="63.79" x2="676.39" y2="71.50" stroke="#4a4a4a" stroke-width="0.32" />
<line x1="675.09" y1="63.79" x2="677.69" y2="63.79" stroke="#4a4a4a" stroke-width="0.55" />
<line x1="675.09" y1="71.50" x2="677.69" y2="71.50" stroke="#4a4a4a" stroke-width="0.55" />
<line x1="676.65" y1="63.82" x2="676.65" y2="71.50" stroke="#4a4a4a" stroke-width="0.32" />
<line x1="675.35" y1="63.82" x2="677.95" y2="63.82" stroke="#4a4a4a" stroke-width="0.55" />
<line x1="675.35" y1="71.50" x2="677.95" y2="71.50" stroke="#4a4a4a" stroke-width="0.55" />
<line x1="676.92" y1="63.84" x2="676.92" y2="71.51" stroke="#4a4a4a" stroke-width="0.32" />
<line x1="675.62" y1="63.84" x2="678.22" y2="63.84" stroke="#4a4a4a" stroke-width="0.55" />
<line x1="675.62" y1="71.51" x2="678.22" y2="71.51" stroke="#4a4a4a" stroke-width="0.55" />
<line x1="677.18" y1="63.86" x2="677.18" y2="71.52" stroke="#4a4a4a" stroke-width="0.32" />
<line x1="675.88" y1="63.86" x2="678.48" y2="63.86" stroke="#4a4a4a" stroke-width="0.55" />
<line x1="675.88" y1="71.52" x2="678.48" y2="71.52" stroke="#4a4a4a" stroke-width="0.55" />
<line x1="677.44" y1="63.89" x2="677.44" y2="71.52" stroke="#4a4a4a" stroke-width="0.32" />
<line x1="676.14" y1="63.89" x2="678.74" y2="63.89" stroke="#4a4a4a" stroke-width="0.55" />
<line x1="676.14" y1="71.52" x2="678.74" y2="71.52" stroke="#4a4a4a" stroke-width="0.55" />
<line x1="677.70" y1="63.91" x2="677.70" y2="71.53" stroke="#4a4a4a" stroke-width="0.32" />
<line x1="676.40" y1="63.91" x2="679.00" y2="63.91" stroke="#4a4a4a" stroke-width="0.55" />
<line x1="676.40" y1="71.53" x2="679.00" y2="71.53" stroke="#4a4a4a" stroke-width="0.55" />
<line x1="677.95" y1="63.94" x2="677.95" y2="71.54" stroke="#4a4a4a" stroke-width="0.32" />
<line x1="676.65" y1="63.94" x2="679.25" y2="63.94" stroke="#4a4a4a" stroke-width="0.55" />
<line x1="676.65" y1="71.54" x2="679.25" y2="71.54" stroke="#4a4a4a" stroke-width="0.55" />
<line x1="678.20" y1="63.96" x2="678.20" y2="71.55" stroke="#4a4a4a" stroke-width="0.32" />
<line x1="676.90" y1="63.96" x2="679.50" y2="63.96" stroke="#4a4a4a" stroke-width="0.55" />
<line x1="676.90" y1="71.55" x2="679.50" y2="71.55" stroke="#4a4a4a" stroke-width="0.55" />
<line x1="678.45" y1="63.98" x2="678.45" y2="71.55" stroke="#4a4a4a" stroke-width="0.32" />
<line x1="677.15" y1="63.98" x2="679.75" y2="63.98" stroke="#4a4a4a" stroke-width="0.55" />
<line x1="677.15" y1="71.55" x2="679.75" y2="71.55" stroke="#4a4a4a" stroke-width="0.55" />
<path d="M632.02,47.44 L633.26,47.52 L634.46,47.70 L635.60,48.03 L636.70,48.35 L637.76,48.65 L638.78,48.95 L639.76,49.23 L640.71,49.51 L641.64,49.89 L642.53,50.30 L643.39,50.70 L644.23,51.08 L645.05,51.46 L645.84,51.83 L646.61,52.18 L647.36,52.53 L648.10,52.87 L648.81,53.21 L649.51,53.55 L650.19,53.88 L650.85,54.20 L651.50,54.51 L652.13,54.82 L652.75,55.12 L653.36,55.41 L653.95,55.70 L654.54,55.98 L655.11,56.25 L655.67,56.52 L656.22,56.79 L656.75,57.07 L657.28,57.33 L657.80,57.60 L658.31,57.86 L658.81,58.11 L659.30,58.36 L659.79,58.60 L660.26,58.85 L660.73,59.08 L661.19,59.32 L661.64,59.55 L662.09,59.77 L662.53,60.00 L662.96,60.22 L663.38,60.43 L663.80,60.64 L664.22,60.84 L664.63,61.01 L665.03,61.19 L665.42,61.36 L665.81,61.53 L666.20,61.69 L666.58,61.86 L666.95,62.02 L667.32,62.18 L667.69,62.34 L668.05,62.50 L668.41,62.65 L668.76,62.80 L669.11,62.92 L669.45,62.95 L669.79,62.98 L670.13,63.01 L670.46,63.04 L670.79,63.07 L671.11,63.10 L671.43,63.13 L671.75,63.16 L672.06,63.19 L672.37,63.22 L672.68,63.25 L672.98,63.28 L673.28,63.30 L673.58,63.33 L673.87,63.36 L674.16,63.38 L674.45,63.41 L674.74,63.44 L675.02,63.46 L675.30,63.49 L675.57,63.52 L675.85,63.54 L676.12,63.57 L676.39,63.59 L676.65,63.62 L676.92,63.64 L677.18,63.66 L677.44,63.69 L677.70,63.71 L677.95,63.74 L678.20,63.76 L678.45,63.78 L678.45,71.75 L678.20,71.75 L677.95,71.74 L677.70,71.73 L677.44,71.72 L677.18,71.72 L676.92,71.71 L676.65,71.70 L676.39,71.70 L676.12,71.69 L675.85,71.68 L675.57,71.67 L675.30,71.67 L675.02,71.66 L674.74,71.65 L674.45,71.64 L674.16,71.63 L673.87,71.63 L673.58,71.62 L673.28,71.61 L672.98,71.60 L672.68,71.59 L672.37,71.59 L672.06,71.58 L671.75,71.57 L671.43,71.56 L671.11,71.55 L670.79,71.54 L670.46,71.53 L670.13,71.52 L669.79,71.52 L669.45,71.51 L669.11,71.50 L668.76,71.41 L668.41,71.28 L668.05,71.14 L667.69,71.01 L667.32,70.88 L666.95,70.74 L666.58,70.60 L666.20,70.46 L665.81,70.32 L665.42,70.18 L665.03,70.03 L664.63,69.89 L664.22,69.74 L663.80,69.57 L663.38,69.38 L662.96,69.20 L662.53,69.00 L662.09,68.81 L661.64,68.61 L661.19,68.41 L660.73,68.21 L660.26,68.00 L659.79,67.79 L659.30,67.58 L658.81,67.36 L658.31,67.14 L657.80,66.91 L657.28,66.68 L656.75,66.45 L656.22,66.21 L655.67,65.98 L655.11,65.74 L654.54,65.51 L653.95,65.26 L653.36,65.02 L652.75,64.76 L652.13,64.50 L651.50,64.24 L650.85,63.97 L650.19,63.69 L649.51,63.41 L648.81,63.12 L648.10,62.82 L647.36,62.53 L646.61,62.23 L645.84,61.92 L645.05,61.61 L644.23,61.29 L643.39,60.95 L642.53,60.61 L641.64,60.26 L640.71,59.94 L639.76,59.73 L638.78,59.51 L637.76,59.28 L636.70,59.04 L635.60,58.79 L634.46,58.54 L633.26,58.44 L632.02,58.44 Z" stroke="none" stroke-width="1" fill="url(#cdark)" />
<circle cx="678.45" cy="67.77" r="1.6" fill="#1f5fa8" stroke="none" stroke-width="0.5" />
<circle cx="600.53" cy="73.51" r="1.5" fill="#2a9d7f" stroke="#34505e" stroke-width="0.35" />
<circle cx="604.13" cy="74.11" r="1.5" fill="#2a9d7f" stroke="#34505e" stroke-width="0.35" />
<circle cx="607.33" cy="74.41" r="1.5" fill="#2a9d7f" stroke="#34505e" stroke-width="0.35" />
<circle cx="610.20" cy="74.69" r="1.5" fill="#2a9d7f" stroke="#34505e" stroke-width="0.35" />
<circle cx="612.81" cy="74.93" r="1.5" fill="#2a9d7f" stroke="#34505e" stroke-width="0.35" />
<circle cx="615.20" cy="75.16" r="1.5" fill="#2a9d7f" stroke="#34505e" stroke-width="0.35" />
<circle cx="617.40" cy="75.37" r="1.5" fill="#2a9d7f" stroke="#34505e" stroke-width="0.35" />
<circle cx="619.45" cy="75.57" r="1.5" fill="#2a9d7f" stroke="#34505e" stroke-width="0.35" />
<circle cx="621.36" cy="75.75" r="1.5" fill="#2a9d7f" stroke="#34505e" stroke-width="0.35" />
<circle cx="623.15" cy="75.92" r="1.5" fill="#2a9d7f" stroke="#34505e" stroke-width="0.35" />
<circle cx="624.83" cy="76.14" r="1.5" fill="#2a9d7f" stroke="#34505e" stroke-width="0.35" />
<circle cx="626.42" cy="76.40" r="1.5" fill="#2a9d7f" stroke="#34505e" stroke-width="0.35" />
<circle cx="627.93" cy="76.65" r="1.5" fill="#2a9d7f" stroke="#34505e" stroke-width="0.35" />
<circle cx="629.36" cy="76.89" r="1.5" fill="#2a9d7f" stroke="#34505e" stroke-width="0.35" />
<circle cx="630.72" cy="77.12" r="1.5" fill="#2a9d7f" stroke="#34505e" stroke-width="0.35" />
<circle cx="632.02" cy="77.34" r="1.5" fill="#2a9d7f" stroke="#34505e" stroke-width="0.35" />
<circle cx="633.26" cy="77.54" r="1.5" fill="#2a9d7f" stroke="#34505e" stroke-width="0.35" />
<circle cx="634.46" cy="77.74" r="1.5" fill="#2a9d7f" stroke="#34505e" stroke-width="0.35" />
<circle cx="635.60" cy="77.93" r="1.5" fill="#2a9d7f" stroke="#34505e" stroke-width="0.35" />
<circle cx="636.70" cy="78.19" r="1.5" fill="#2a9d7f" stroke="#34505e" stroke-width="0.35" />
<circle cx="637.76" cy="78.48" r="1.5" fill="#2a9d7f" stroke="#34505e" stroke-width="0.35" />
<circle cx="638.78" cy="78.76" r="1.5" fill="#2a9d7f" stroke="#34505e" stroke-width="0.35" />
<circle cx="639.76" cy="79.03" r="1.5" fill="#2a9d7f" stroke="#34505e" stroke-width="0.35" />
<circle cx="640.71" cy="79.30" r="1.5" fill="#2a9d7f" stroke="#34505e" stroke-width="0.35" />
<circle cx="641.64" cy="79.55" r="1.5" fill="#2a9d7f" stroke="#34505e" stroke-width="0.35" />
<circle cx="642.53" cy="79.80" r="1.5" fill="#2a9d7f" stroke="#34505e" stroke-width="0.35" />
<circle cx="643.39" cy="80.03" r="1.5" fill="#2a9d7f" stroke="#34505e" stroke-width="0.35" />
<circle cx="644.23" cy="80.28" r="1.5" fill="#2a9d7f" stroke="#34505e" stroke-width="0.35" />
<circle cx="645.05" cy="80.57" r="1.5" fill="#2a9d7f" stroke="#34505e" stroke-width="0.35" />
<circle cx="645.84" cy="80.84" r="1.5" fill="#2a9d7f" stroke="#34505e" stroke-width="0.35" />
<circle cx="646.61" cy="81.11" r="1.5" fill="#2a9d7f" stroke="#34505e" stroke-width="0.35" />
<circle cx="647.36" cy="81.38" r="1.5" fill="#2a9d7f" stroke="#34505e" stroke-width="0.35" />
<circle cx="648.10" cy="81.63" r="1.5" fill="#2a9d7f" stroke="#34505e" stroke-width="0.35" />
<circle cx="648.81" cy="81.88" r="1.5" fill="#2a9d7f" stroke="#34505e" stroke-width="0.35" />
<circle cx="649.51" cy="82.13" r="1.5" fill="#2a9d7f" stroke="#34505e" stroke-width="0.35" />
<circle cx="650.19" cy="82.37" r="1.5" fill="#2a9d7f" stroke="#34505e" stroke-width="0.35" />
<circle cx="650.85" cy="82.60" r="1.5" fill="#2a9d7f" stroke="#34505e" stroke-width="0.35" />
<circle cx="651.50" cy="82.82" r="1.5" fill="#2a9d7f" stroke="#34505e" stroke-width="0.35" />
<circle cx="652.13" cy="83.04" r="1.5" fill="#2a9d7f" stroke="#34505e" stroke-width="0.35" />
<circle cx="652.75" cy="83.22" r="1.5" fill="#2a9d7f" stroke="#34505e" stroke-width="0.35" />
<circle cx="653.36" cy="83.39" r="1.5" fill="#2a9d7f" stroke="#34505e" stroke-width="0.35" />
<circle cx="653.95" cy="83.56" r="1.5" fill="#2a9d7f" stroke="#34505e" stroke-width="0.35" />
<circle cx="654.54" cy="83.73" r="1.5" fill="#2a9d7f" stroke="#34505e" stroke-width="0.35" />
<circle cx="655.11" cy="83.89" r="1.5" fill="#2a9d7f" stroke="#34505e" stroke-width="0.35" />
<circle cx="655.67" cy="84.05" r="1.5" fill="#2a9d7f" stroke="#34505e" stroke-width="0.35" />
<circle cx="656.22" cy="84.21" r="1.5" fill="#2a9d7f" stroke="#34505e" stroke-width="0.35" />
<circle cx="656.75" cy="84.37" r="1.5" fill="#2a9d7f" stroke="#34505e" stroke-width="0.35" />
<circle cx="657.28" cy="84.52" r="1.5" fill="#2a9d7f" stroke="#34505e" stroke-width="0.35" />
<circle cx="657.80" cy="84.67" r="1.5" fill="#2a9d7f" stroke="#34505e" stroke-width="0.35" />
<circle cx="658.31" cy="84.81" r="1.5" fill="#2a9d7f" stroke="#34505e" stroke-width="0.35" />
<circle cx="658.81" cy="84.96" r="1.5" fill="#2a9d7f" stroke="#34505e" stroke-width="0.35" />
<circle cx="659.30" cy="85.10" r="1.5" fill="#2a9d7f" stroke="#34505e" stroke-width="0.35" />
<circle cx="659.79" cy="85.24" r="1.5" fill="#2a9d7f" stroke="#34505e" stroke-width="0.35" />
<circle cx="660.26" cy="85.38" r="1.5" fill="#2a9d7f" stroke="#34505e" stroke-width="0.35" />
<circle cx="660.73" cy="85.51" r="1.5" fill="#2a9d7f" stroke="#34505e" stroke-width="0.35" />
<circle cx="661.19" cy="85.64" r="1.5" fill="#2a9d7f" stroke="#34505e" stroke-width="0.35" />
<circle cx="661.64" cy="85.77" r="1.5" fill="#2a9d7f" stroke="#34505e" stroke-width="0.35" />
<circle cx="662.09" cy="85.90" r="1.5" fill="#2a9d7f" stroke="#34505e" stroke-width="0.35" />
<circle cx="662.53" cy="86.03" r="1.5" fill="#2a9d7f" stroke="#34505e" stroke-width="0.35" />
<circle cx="662.96" cy="86.15" r="1.5" fill="#2a9d7f" stroke="#34505e" stroke-width="0.35" />
<circle cx="663.38" cy="86.27" r="1.5" fill="#2a9d7f" stroke="#34505e" stroke-width="0.35" />
<circle cx="663.80" cy="86.39" r="1.5" fill="#2a9d7f" stroke="#34505e" stroke-width="0.35" />
<circle cx="664.22" cy="86.51" r="1.5" fill="#2a9d7f" stroke="#34505e" stroke-width="0.35" />
<circle cx="664.63" cy="86.63" r="1.5" fill="#2a9d7f" stroke="#34505e" stroke-width="0.35" />
<circle cx="665.03" cy="86.75" r="1.5" fill="#2a9d7f" stroke="#34505e" stroke-width="0.35" />
<circle cx="665.42" cy="86.86" r="1.5" fill="#2a9d7f" stroke="#34505e" stroke-width="0.35" />
<circle cx="665.81" cy="86.97" r="1.5" fill="#2a9d7f" stroke="#34505e" stroke-width="0.35" />
<circle cx="666.20" cy="87.08" r="1.5" fill="#2a9d7f" stroke="#34505e" stroke-width="0.35" />
<circle cx="666.58" cy="87.19" r="1.5" fill="#2a9d7f" stroke="#34505e" stroke-width="0.35" />
<circle cx="666.95" cy="87.30" r="1.5" fill="#2a9d7f" stroke="#34505e" stroke-width="0.35" />
<circle cx="667.32" cy="87.41" r="1.5" fill="#2a9d7f" stroke="#34505e" stroke-width="0.35" />
<circle cx="667.69" cy="87.51" r="1.5" fill="#2a9d7f" stroke="#34505e" stroke-width="0.35" />
<circle cx="668.05" cy="87.61" r="1.5" fill="#2a9d7f" stroke="#34505e" stroke-width="0.35" />
<circle cx="668.41" cy="87.70" r="1.5" fill="#2a9d7f" stroke="#34505e" stroke-width="0.35" />
<circle cx="668.76" cy="87.79" r="1.5" fill="#2a9d7f" stroke="#34505e" stroke-width="0.35" />
<circle cx="669.11" cy="87.88" r="1.5" fill="#2a9d7f" stroke="#34505e" stroke-width="0.35" />
<circle cx="669.45" cy="87.97" r="1.5" fill="#2a9d7f" stroke="#34505e" stroke-width="0.35" />
<circle cx="669.79" cy="88.06" r="1.5" fill="#2a9d7f" stroke="#34505e" stroke-width="0.35" />
<circle cx="670.13" cy="88.14" r="1.5" fill="#2a9d7f" stroke="#34505e" stroke-width="0.35" />
<circle cx="670.46" cy="88.23" r="1.5" fill="#2a9d7f" stroke="#34505e" stroke-width="0.35" />
<circle cx="670.79" cy="88.31" r="1.5" fill="#2a9d7f" stroke="#34505e" stroke-width="0.35" />
<circle cx="671.11" cy="88.39" r="1.5" fill="#2a9d7f" stroke="#34505e" stroke-width="0.35" />
<circle cx="671.43" cy="88.47" r="1.5" fill="#2a9d7f" stroke="#34505e" stroke-width="0.35" />
<circle cx="671.75" cy="88.55" r="1.5" fill="#2a9d7f" stroke="#34505e" stroke-width="0.35" />
<circle cx="672.06" cy="88.63" r="1.5" fill="#2a9d7f" stroke="#34505e" stroke-width="0.35" />
<circle cx="672.37" cy="88.71" r="1.5" fill="#2a9d7f" stroke="#34505e" stroke-width="0.35" />
<circle cx="672.68" cy="88.79" r="1.5" fill="#2a9d7f" stroke="#34505e" stroke-width="0.35" />
<circle cx="672.98" cy="88.87" r="1.5" fill="#2a9d7f" stroke="#34505e" stroke-width="0.35" />
<circle cx="673.28" cy="88.94" r="1.5" fill="#2a9d7f" stroke="#34505e" stroke-width="0.35" />
<circle cx="673.58" cy="89.02" r="1.5" fill="#2a9d7f" stroke="#34505e" stroke-width="0.35" />
<circle cx="673.87" cy="89.09" r="1.5" fill="#2a9d7f" stroke="#34505e" stroke-width="0.35" />
<circle cx="674.16" cy="89.17" r="1.5" fill="#2a9d7f" stroke="#34505e" stroke-width="0.35" />
<circle cx="674.45" cy="89.24" r="1.5" fill="#2a9d7f" stroke="#34505e" stroke-width="0.35" />
<circle cx="674.74" cy="89.31" r="1.5" fill="#2a9d7f" stroke="#34505e" stroke-width="0.35" />
<circle cx="675.02" cy="89.39" r="1.5" fill="#2a9d7f" stroke="#34505e" stroke-width="0.35" />
<circle cx="675.30" cy="89.46" r="1.5" fill="#2a9d7f" stroke="#34505e" stroke-width="0.35" />
<circle cx="675.57" cy="89.53" r="1.5" fill="#2a9d7f" stroke="#34505e" stroke-width="0.35" />
<circle cx="675.85" cy="89.60" r="1.5" fill="#2a9d7f" stroke="#34505e" stroke-width="0.35" />
<circle cx="676.12" cy="89.67" r="1.5" fill="#2a9d7f" stroke="#34505e" stroke-width="0.35" />
<circle cx="676.39" cy="89.74" r="1.5" fill="#2a9d7f" stroke="#34505e" stroke-width="0.35" />
<circle cx="676.65" cy="89.80" r="1.5" fill="#2a9d7f" stroke="#34505e" stroke-width="0.35" />
<circle cx="676.92" cy="89.87" r="1.5" fill="#2a9d7f" stroke="#34505e" stroke-width="0.35" />
<circle cx="677.18" cy="89.94" r="1.5" fill="#2a9d7f" stroke="#34505e" stroke-width="0.35" />
<circle cx="677.44" cy="90.00" r="1.5" fill="#2a9d7f" stroke="#34505e" stroke-width="0.35" />
<circle cx="677.70" cy="90.07" r="1.5" fill="#2a9d7f" stroke="#34505e" stroke-width="0.35" />
<circle cx="677.95" cy="90.13" r="1.5" fill="#2a9d7f" stroke="#34505e" stroke-width="0.35" />
<circle cx="678.20" cy="90.20" r="1.5" fill="#2a9d7f" stroke="#34505e" stroke-width="0.35" />
<circle cx="678.45" cy="90.26" r="1.5" fill="#2a9d7f" stroke="#34505e" stroke-width="0.35" />
<line x1="600.53" y1="68.21" x2="600.53" y2="78.81" stroke="#4a4a4a" stroke-width="0.32" />
<line x1="599.23" y1="68.21" x2="601.83" y2="68.21" stroke="#4a4a4a" stroke-width="0.55" />
<line x1="599.23" y1="78.81" x2="601.83" y2="78.81" stroke="#4a4a4a" stroke-width="0.55" />
<line x1="604.13" y1="68.81" x2="604.13" y2="79.41" stroke="#4a4a4a" stroke-width="0.32" />
<line x1="602.83" y1="68.81" x2="605.43" y2="68.81" stroke="#4a4a4a" stroke-width="0.55" />
<line x1="602.83" y1="79.41" x2="605.43" y2="79.41" stroke="#4a4a4a" stroke-width="0.55" />
<line x1="607.33" y1="69.11" x2="607.33" y2="79.71" stroke="#4a4a4a" stroke-width="0.32" />
<line x1="606.03" y1="69.11" x2="608.63" y2="69.11" stroke="#4a4a4a" stroke-width="0.55" />
<line x1="606.03" y1="79.71" x2="608.63" y2="79.71" stroke="#4a4a4a" stroke-width="0.55" />
<line x1="610.20" y1="69.39" x2="610.20" y2="79.99" stroke="#4a4a4a" stroke-width="0.32" />
<line x1="608.90" y1="69.39" x2="611.50" y2="69.39" stroke="#4a4a4a" stroke-width="0.55" />
<line x1="608.90" y1="79.99" x2="611.50" y2="79.99" stroke="#4a4a4a" stroke-width="0.55" />
<line x1="612.81" y1="69.63" x2="612.81" y2="80.23" stroke="#4a4a4a" stroke-width="0.32" />
<line x1="611.51" y1="69.63" x2="614.11" y2="69.63" stroke="#4a4a4a" stroke-width="0.55" />
<line x1="611.51" y1="80.23" x2="614.11" y2="80.23" stroke="#4a4a4a" stroke-width="0.55" />
<line x1="615.20" y1="69.86" x2="615.20" y2="80.46" stroke="#4a4a4a" stroke-width="0.32" />
<line x1="613.90" y1="69.86" x2="616.50" y2="69.86" stroke="#4a4a4a" stroke-width="0.55" />
<line x1="613.90" y1="80.46" x2="616.50" y2="80.46" stroke="#4a4a4a" stroke-width="0.55" />
<line x1="617.40" y1="70.07" x2="617.40" y2="80.67" stroke="#4a4a4a" stroke-width="0.32" />
<line x1="616.10" y1="70.07" x2="618.70" y2="70.07" stroke="#4a4a4a" stroke-width="0.55" />
<line x1="616.10" y1="80.67" x2="618.70" y2="80.67" stroke="#4a4a4a" stroke-width="0.55" />
<line x1="619.45" y1="70.27" x2="619.45" y2="80.87" stroke="#4a4a4a" stroke-width="0.32" />
<line x1="618.15" y1="70.27" x2="620.75" y2="70.27" stroke="#4a4a4a" stroke-width="0.55" />
<line x1="618.15" y1="80.87" x2="620.75" y2="80.87" stroke="#4a4a4a" stroke-width="0.55" />
<line x1="621.36" y1="70.45" x2="621.36" y2="81.05" stroke="#4a4a4a" stroke-width="0.32" />
<line x1="620.06" y1="70.45" x2="622.66" y2="70.45" stroke="#4a4a4a" stroke-width="0.55" />
<line x1="620.06" y1="81.05" x2="622.66" y2="81.05" stroke="#4a4a4a" stroke-width="0.55" />
<line x1="623.15" y1="70.62" x2="623.15" y2="81.22" stroke="#4a4a4a" stroke-width="0.32" />
<line x1="621.85" y1="70.62" x2="624.45" y2="70.62" stroke="#4a4a4a" stroke-width="0.55" />
<line x1="621.85" y1="81.22" x2="624.45" y2="81.22" stroke="#4a4a4a" stroke-width="0.55" />
<line x1="624.83" y1="70.84" x2="624.83" y2="81.44" stroke="#4a4a4a" stroke-width="0.32" />
<line x1="623.53" y1="70.84" x2="626.13" y2="70.84" stroke="#4a4a4a" stroke-width="0.55" />
<line x1="623.53" y1="81.44" x2="626.13" y2="81.44" stroke="#4a4a4a" stroke-width="0.55" />
<line x1="626.42" y1="71.10" x2="626.42" y2="81.70" stroke="#4a4a4a" stroke-width="0.32" />
<line x1="625.12" y1="71.10" x2="627.72" y2="71.10" stroke="#4a4a4a" stroke-width="0.55" />
<line x1="625.12" y1="81.70" x2="627.72" y2="81.70" stroke="#4a4a4a" stroke-width="0.55" />
<line x1="627.93" y1="71.35" x2="627.93" y2="81.95" stroke="#4a4a4a" stroke-width="0.32" />
<line x1="626.63" y1="71.35" x2="629.23" y2="71.35" stroke="#4a4a4a" stroke-width="0.55" />
<line x1="626.63" y1="81.95" x2="629.23" y2="81.95" stroke="#4a4a4a" stroke-width="0.55" />
<line x1="629.36" y1="71.59" x2="629.36" y2="82.19" stroke="#4a4a4a" stroke-width="0.32" />
<line x1="628.06" y1="71.59" x2="630.66" y2="71.59" stroke="#4a4a4a" stroke-width="0.55" />
<line x1="628.06" y1="82.19" x2="630.66" y2="82.19" stroke="#4a4a4a" stroke-width="0.55" />
<line x1="630.72" y1="71.82" x2="630.72" y2="82.42" stroke="#4a4a4a" stroke-width="0.32" />
<line x1="629.42" y1="71.82" x2="632.02" y2="71.82" stroke="#4a4a4a" stroke-width="0.55" />
<line x1="629.42" y1="82.42" x2="632.02" y2="82.42" stroke="#4a4a4a" stroke-width="0.55" />
<line x1="632.02" y1="72.04" x2="632.02" y2="82.64" stroke="#4a4a4a" stroke-width="0.32" />
<line x1="630.72" y1="72.04" x2="633.32" y2="72.04" stroke="#4a4a4a" stroke-width="0.55" />
<line x1="630.72" y1="82.64" x2="633.32" y2="82.64" stroke="#4a4a4a" stroke-width="0.55" />
<line x1="633.26" y1="72.29" x2="633.26" y2="82.80" stroke="#4a4a4a" stroke-width="0.32" />
<line x1="631.96" y1="72.29" x2="634.56" y2="72.29" stroke="#4a4a4a" stroke-width="0.55" />
<line x1="631.96" y1="82.80" x2="634.56" y2="82.80" stroke="#4a4a4a" stroke-width="0.55" />
<line x1="634.46" y1="72.52" x2="634.46" y2="82.96" stroke="#4a4a4a" stroke-width="0.32" />
<line x1="633.16" y1="72.52" x2="635.76" y2="72.52" stroke="#4a4a4a" stroke-width="0.55" />
<line x1="633.16" y1="82.96" x2="635.76" y2="82.96" stroke="#4a4a4a" stroke-width="0.55" />
<line x1="635.60" y1="72.75" x2="635.60" y2="83.12" stroke="#4a4a4a" stroke-width="0.32" />
<line x1="634.30" y1="72.75" x2="636.90" y2="72.75" stroke="#4a4a4a" stroke-width="0.55" />
<line x1="634.30" y1="83.12" x2="636.90" y2="83.12" stroke="#4a4a4a" stroke-width="0.55" />
<line x1="636.70" y1="73.05" x2="636.70" y2="83.34" stroke="#4a4a4a" stroke-width="0.32" />
<line x1="635.40" y1="73.05" x2="638.00" y2="73.05" stroke="#4a4a4a" stroke-width="0.55" />
<line x1="635.40" y1="83.34" x2="638.00" y2="83.34" stroke="#4a4a4a" stroke-width="0.55" />
<line x1="637.76" y1="73.37" x2="637.76" y2="83.60" stroke="#4a4a4a" stroke-width="0.32" />
<line x1="636.46" y1="73.37" x2="639.06" y2="73.37" stroke="#4a4a4a" stroke-width="0.55" />
<line x1="636.46" y1="83.60" x2="639.06" y2="83.60" stroke="#4a4a4a" stroke-width="0.55" />
<line x1="638.78" y1="73.68" x2="638.78" y2="83.84" stroke="#4a4a4a" stroke-width="0.32" />
<line x1="637.48" y1="73.68" x2="640.08" y2="73.68" stroke="#4a4a4a" stroke-width="0.55" />
<line x1="637.48" y1="83.84" x2="640.08" y2="83.84" stroke="#4a4a4a" stroke-width="0.55" />
<line x1="639.76" y1="73.99" x2="639.76" y2="84.08" stroke="#4a4a4a" stroke-width="0.32" />
<line x1="638.46" y1="73.99" x2="641.06" y2="73.99" stroke="#4a4a4a" stroke-width="0.55" />
<line x1="638.46" y1="84.08" x2="641.06" y2="84.08" stroke="#4a4a4a" stroke-width="0.55" />
<line x1="640.71" y1="74.28" x2="640.71" y2="84.31" stroke="#4a4a4a" stroke-width="0.32" />
<line x1="639.41" y1="74.28" x2="642.01" y2="74.28" stroke="#4a4a4a" stroke-width="0.55" />
<line x1="639.41" y1="84.31" x2="642.01" y2="84.31" stroke="#4a4a4a" stroke-width="0.55" />
<line x1="641.64" y1="74.56" x2="641.64" y2="84.54" stroke="#4a4a4a" stroke-width="0.32" />
<line x1="640.34" y1="74.56" x2="642.94" y2="74.56" stroke="#4a4a4a" stroke-width="0.55" />
<line x1="640.34" y1="84.54" x2="642.94" y2="84.54" stroke="#4a4a4a" stroke-width="0.55" />
<line x1="642.53" y1="74.84" x2="642.53" y2="84.75" stroke="#4a4a4a" stroke-width="0.32" />
<line x1="641.23" y1="74.84" x2="643.83" y2="74.84" stroke="#4a4a4a" stroke-width="0.55" />
<line x1="641.23" y1="84.75" x2="643.83" y2="84.75" stroke="#4a4a4a" stroke-width="0.55" />
<line x1="643.39" y1="75.10" x2="643.39" y2="84.96" stroke="#4a4a4a" stroke-width="0.32" />
<line x1="642.09" y1="75.10" x2="644.69" y2="75.10" stroke="#4a4a4a" stroke-width="0.55" />
<line x1="642.09" y1="84.96" x2="644.69" y2="84.96" stroke="#4a4a4a" stroke-width="0.55" />
<line x1="644.23" y1="75.38" x2="644.23" y2="85.18" stroke="#4a4a4a" stroke-width="0.32" />
<line x1="642.93" y1="75.38" x2="645.53" y2="75.38" stroke="#4a4a4a" stroke-width="0.55" />
<line x1="642.93" y1="85.18" x2="645.53" y2="85.18" stroke="#4a4a4a" stroke-width="0.55" />
<line x1="645.05" y1="75.69" x2="645.05" y2="85.44" stroke="#4a4a4a" stroke-width="0.32" />
<line x1="643.75" y1="75.69" x2="646.35" y2="75.69" stroke="#4a4a4a" stroke-width="0.55" />
<line x1="643.75" y1="85.44" x2="646.35" y2="85.44" stroke="#4a4a4a" stroke-width="0.55" />
<line x1="645.84" y1="76.00" x2="645.84" y2="85.69" stroke="#4a4a4a" stroke-width="0.32" />
<line x1="644.54" y1="76.00" x2="647.14" y2="76.00" stroke="#4a4a4a" stroke-width="0.55" />
<line x1="644.54" y1="85.69" x2="647.14" y2="85.69" stroke="#4a4a4a" stroke-width="0.55" />
<line x1="646.61" y1="76.29" x2="646.61" y2="85.94" stroke="#4a4a4a" stroke-width="0.32" />
<line x1="645.31" y1="76.29" x2="647.91" y2="76.29" stroke="#4a4a4a" stroke-width="0.55" />
<line x1="645.31" y1="85.94" x2="647.91" y2="85.94" stroke="#4a4a4a" stroke-width="0.55" />
<line x1="647.36" y1="76.58" x2="647.36" y2="86.18" stroke="#4a4a4a" stroke-width="0.32" />
<line x1="646.06" y1="76.58" x2="648.66" y2="76.58" stroke="#4a4a4a" stroke-width="0.55" />
<line x1="646.06" y1="86.18" x2="648.66" y2="86.18" stroke="#4a4a4a" stroke-width="0.55" />
<line x1="648.10" y1="76.86" x2="648.10" y2="86.41" stroke="#4a4a4a" stroke-width="0.32" />
<line x1="646.80" y1="76.86" x2="649.40" y2="76.86" stroke="#4a4a4a" stroke-width="0.55" />
<line x1="646.80" y1="86.41" x2="649.40" y2="86.41" stroke="#4a4a4a" stroke-width="0.55" />
<line x1="648.81" y1="77.13" x2="648.81" y2="86.64" stroke="#4a4a4a" stroke-width="0.32" />
<line x1="647.51" y1="77.13" x2="650.11" y2="77.13" stroke="#4a4a4a" stroke-width="0.55" />
<line x1="647.51" y1="86.64" x2="650.11" y2="86.64" stroke="#4a4a4a" stroke-width="0.55" />
<line x1="649.51" y1="77.40" x2="649.51" y2="86.86" stroke="#4a4a4a" stroke-width="0.32" />
<line x1="648.21" y1="77.40" x2="650.81" y2="77.40" stroke="#4a4a4a" stroke-width="0.55" />
<line x1="648.21" y1="86.86" x2="650.81" y2="86.86" stroke="#4a4a4a" stroke-width="0.55" />
<line x1="650.19" y1="77.66" x2="650.19" y2="87.07" stroke="#4a4a4a" stroke-width="0.32" />
<line x1="648.89" y1="77.66" x2="651.49" y2="77.66" stroke="#4a4a4a" stroke-width="0.55" />
<line x1="648.89" y1="87.07" x2="651.49" y2="87.07" stroke="#4a4a4a" stroke-width="0.55" />
<line x1="650.85" y1="77.91" x2="650.85" y2="87.28" stroke="#4a4a4a" stroke-width="0.32" />
<line x1="649.55" y1="77.91" x2="652.15" y2="77.91" stroke="#4a4a4a" stroke-width="0.55" />
<line x1="649.55" y1="87.28" x2="652.15" y2="87.28" stroke="#4a4a4a" stroke-width="0.55" />
<line x1="651.50" y1="78.16" x2="651.50" y2="87.49" stroke="#4a4a4a" stroke-width="0.32" />
<line x1="650.20" y1="78.16" x2="652.80" y2="78.16" stroke="#4a4a4a" stroke-width="0.55" />
<line x1="650.20" y1="87.49" x2="652.80" y2="87.49" stroke="#4a4a4a" stroke-width="0.55" />
<line x1="652.13" y1="78.39" x2="652.13" y2="87.68" stroke="#4a4a4a" stroke-width="0.32" />
<line x1="650.83" y1="78.39" x2="653.43" y2="78.39" stroke="#4a4a4a" stroke-width="0.55" />
<line x1="650.83" y1="87.68" x2="653.43" y2="87.68" stroke="#4a4a4a" stroke-width="0.55" />
<line x1="652.75" y1="78.59" x2="652.75" y2="87.84" stroke="#4a4a4a" stroke-width="0.32" />
<line x1="651.45" y1="78.59" x2="654.05" y2="78.59" stroke="#4a4a4a" stroke-width="0.55" />
<line x1="651.45" y1="87.84" x2="654.05" y2="87.84" stroke="#4a4a4a" stroke-width="0.55" />
<line x1="653.36" y1="78.79" x2="653.36" y2="87.99" stroke="#4a4a4a" stroke-width="0.32" />
<line x1="652.06" y1="78.79" x2="654.66" y2="78.79" stroke="#4a4a4a" stroke-width="0.55" />
<line x1="652.06" y1="87.99" x2="654.66" y2="87.99" stroke="#4a4a4a" stroke-width="0.55" />
<line x1="653.95" y1="78.98" x2="653.95" y2="88.15" stroke="#4a4a4a" stroke-width="0.32" />
<line x1="652.65" y1="78.98" x2="655.25" y2="78.98" stroke="#4a4a4a" stroke-width="0.55" />
<line x1="652.65" y1="88.15" x2="655.25" y2="88.15" stroke="#4a4a4a" stroke-width="0.55" />
<line x1="654.54" y1="79.16" x2="654.54" y2="88.29" stroke="#4a4a4a" stroke-width="0.32" />
<line x1="653.24" y1="79.16" x2="655.84" y2="79.16" stroke="#4a4a4a" stroke-width="0.55" />
<line x1="653.24" y1="88.29" x2="655.84" y2="88.29" stroke="#4a4a4a" stroke-width="0.55" />
<line x1="655.11" y1="79.35" x2="655.11" y2="88.44" stroke="#4a4a4a" stroke-width="0.32" />
<line x1="653.81" y1="79.35" x2="656.41" y2="79.35" stroke="#4a4a4a" stroke-width="0.55" />
<line x1="653.81" y1="88.44" x2="656.41" y2="88.44" stroke="#4a4a4a" stroke-width="0.55" />
<line x1="655.67" y1="79.53" x2="655.67" y2="88.58" stroke="#4a4a4a" stroke-width="0.32" />
<line x1="654.37" y1="79.53" x2="656.97" y2="79.53" stroke="#4a4a4a" stroke-width="0.55" />
<line x1="654.37" y1="88.58" x2="656.97" y2="88.58" stroke="#4a4a4a" stroke-width="0.55" />
<line x1="656.22" y1="79.70" x2="656.22" y2="88.72" stroke="#4a4a4a" stroke-width="0.32" />
<line x1="654.92" y1="79.70" x2="657.52" y2="79.70" stroke="#4a4a4a" stroke-width="0.55" />
<line x1="654.92" y1="88.72" x2="657.52" y2="88.72" stroke="#4a4a4a" stroke-width="0.55" />
<line x1="656.75" y1="79.87" x2="656.75" y2="88.86" stroke="#4a4a4a" stroke-width="0.32" />
<line x1="655.45" y1="79.87" x2="658.05" y2="79.87" stroke="#4a4a4a" stroke-width="0.55" />
<line x1="655.45" y1="88.86" x2="658.05" y2="88.86" stroke="#4a4a4a" stroke-width="0.55" />
<line x1="657.28" y1="80.04" x2="657.28" y2="88.99" stroke="#4a4a4a" stroke-width="0.32" />
<line x1="655.98" y1="80.04" x2="658.58" y2="80.04" stroke="#4a4a4a" stroke-width="0.55" />
<line x1="655.98" y1="88.99" x2="658.58" y2="88.99" stroke="#4a4a4a" stroke-width="0.55" />
<line x1="657.80" y1="80.21" x2="657.80" y2="89.13" stroke="#4a4a4a" stroke-width="0.32" />
<line x1="656.50" y1="80.21" x2="659.10" y2="80.21" stroke="#4a4a4a" stroke-width="0.55" />
<line x1="656.50" y1="89.13" x2="659.10" y2="89.13" stroke="#4a4a4a" stroke-width="0.55" />
<line x1="658.31" y1="80.37" x2="658.31" y2="89.26" stroke="#4a4a4a" stroke-width="0.32" />
<line x1="657.01" y1="80.37" x2="659.61" y2="80.37" stroke="#4a4a4a" stroke-width="0.55" />
<line x1="657.01" y1="89.26" x2="659.61" y2="89.26" stroke="#4a4a4a" stroke-width="0.55" />
<line x1="658.81" y1="80.53" x2="658.81" y2="89.38" stroke="#4a4a4a" stroke-width="0.32" />
<line x1="657.51" y1="80.53" x2="660.11" y2="80.53" stroke="#4a4a4a" stroke-width="0.55" />
<line x1="657.51" y1="89.38" x2="660.11" y2="89.38" stroke="#4a4a4a" stroke-width="0.55" />
<line x1="659.30" y1="80.69" x2="659.30" y2="89.51" stroke="#4a4a4a" stroke-width="0.32" />
<line x1="658.00" y1="80.69" x2="660.60" y2="80.69" stroke="#4a4a4a" stroke-width="0.55" />
<line x1="658.00" y1="89.51" x2="660.60" y2="89.51" stroke="#4a4a4a" stroke-width="0.55" />
<line x1="659.79" y1="80.84" x2="659.79" y2="89.63" stroke="#4a4a4a" stroke-width="0.32" />
<line x1="658.49" y1="80.84" x2="661.09" y2="80.84" stroke="#4a4a4a" stroke-width="0.55" />
<line x1="658.49" y1="89.63" x2="661.09" y2="89.63" stroke="#4a4a4a" stroke-width="0.55" />
<line x1="660.26" y1="81.00" x2="660.26" y2="89.75" stroke="#4a4a4a" stroke-width="0.32" />
<line x1="658.96" y1="81.00" x2="661.56" y2="81.00" stroke="#4a4a4a" stroke-width="0.55" />
<line x1="658.96" y1="89.75" x2="661.56" y2="89.75" stroke="#4a4a4a" stroke-width="0.55" />
<line x1="660.73" y1="81.15" x2="660.73" y2="89.87" stroke="#4a4a4a" stroke-width="0.32" />
<line x1="659.43" y1="81.15" x2="662.03" y2="81.15" stroke="#4a4a4a" stroke-width="0.55" />
<line x1="659.43" y1="89.87" x2="662.03" y2="89.87" stroke="#4a4a4a" stroke-width="0.55" />
<line x1="661.19" y1="81.29" x2="661.19" y2="89.99" stroke="#4a4a4a" stroke-width="0.32" />
<line x1="659.89" y1="81.29" x2="662.49" y2="81.29" stroke="#4a4a4a" stroke-width="0.55" />
<line x1="659.89" y1="89.99" x2="662.49" y2="89.99" stroke="#4a4a4a" stroke-width="0.55" />
<line x1="661.64" y1="81.44" x2="661.64" y2="90.11" stroke="#4a4a4a" stroke-width="0.32" />
<line x1="660.34" y1="81.44" x2="662.94" y2="81.44" stroke="#4a4a4a" stroke-width="0.55" />
<line x1="660.34" y1="90.11" x2="662.94" y2="90.11" stroke="#4a4a4a" stroke-width="0.55" />
<line x1="662.09" y1="81.58" x2="662.09" y2="90.22" stroke="#4a4a4a" stroke-width="0.32" />
<line x1="660.79" y1="81.58" x2="663.39" y2="81.58" stroke="#4a4a4a" stroke-width="0.55" />
<line x1="660.79" y1="90.22" x2="663.39" y2="90.22" stroke="#4a4a4a" stroke-width="0.55" />
<line x1="662.53" y1="81.72" x2="662.53" y2="90.33" stroke="#4a4a4a" stroke-width="0.32" />
<line x1="661.23" y1="81.72" x2="663.83" y2="81.72" stroke="#4a4a4a" stroke-width="0.55" />
<line x1="661.23" y1="90.33" x2="663.83" y2="90.33" stroke="#4a4a4a" stroke-width="0.55" />
<line x1="662.96" y1="81.86" x2="662.96" y2="90.44" stroke="#4a4a4a" stroke-width="0.32" />
<line x1="661.66" y1="81.86" x2="664.26" y2="81.86" stroke="#4a4a4a" stroke-width="0.55" />
<line x1="661.66" y1="90.44" x2="664.26" y2="90.44" stroke="#4a4a4a" stroke-width="0.55" />
<line x1="663.38" y1="82.00" x2="663.38" y2="90.55" stroke="#4a4a4a" stroke-width="0.32" />
<line x1="662.08" y1="82.00" x2="664.68" y2="82.00" stroke="#4a4a4a" stroke-width="0.55" />
<line x1="662.08" y1="90.55" x2="664.68" y2="90.55" stroke="#4a4a4a" stroke-width="0.55" />
<line x1="663.80" y1="82.13" x2="663.80" y2="90.66" stroke="#4a4a4a" stroke-width="0.32" />
<line x1="662.50" y1="82.13" x2="665.10" y2="82.13" stroke="#4a4a4a" stroke-width="0.55" />
<line x1="662.50" y1="90.66" x2="665.10" y2="90.66" stroke="#4a4a4a" stroke-width="0.55" />
<line x1="664.22" y1="82.26" x2="664.22" y2="90.76" stroke="#4a4a4a" stroke-width="0.32" />
<line x1="662.92" y1="82.26" x2="665.52" y2="82.26" stroke="#4a4a4a" stroke-width="0.55" />
<line x1="662.92" y1="90.76" x2="665.52" y2="90.76" stroke="#4a4a4a" stroke-width="0.55" />
<line x1="664.63" y1="82.39" x2="664.63" y2="90.87" stroke="#4a4a4a" stroke-width="0.32" />
<line x1="663.33" y1="82.39" x2="665.93" y2="82.39" stroke="#4a4a4a" stroke-width="0.55" />
<line x1="663.33" y1="90.87" x2="665.93" y2="90.87" stroke="#4a4a4a" stroke-width="0.55" />
<line x1="665.03" y1="82.52" x2="665.03" y2="90.97" stroke="#4a4a4a" stroke-width="0.32" />
<line x1="663.73" y1="82.52" x2="666.33" y2="82.52" stroke="#4a4a4a" stroke-width="0.55" />
<line x1="663.73" y1="90.97" x2="666.33" y2="90.97" stroke="#4a4a4a" stroke-width="0.55" />
<line x1="665.42" y1="82.65" x2="665.42" y2="91.07" stroke="#4a4a4a" stroke-width="0.32" />
<line x1="664.12" y1="82.65" x2="666.72" y2="82.65" stroke="#4a4a4a" stroke-width="0.55" />
<line x1="664.12" y1="91.07" x2="666.72" y2="91.07" stroke="#4a4a4a" stroke-width="0.55" />
<line x1="665.81" y1="82.77" x2="665.81" y2="91.17" stroke="#4a4a4a" stroke-width="0.32" />
<line x1="664.51" y1="82.77" x2="667.11" y2="82.77" stroke="#4a4a4a" stroke-width="0.55" />
<line x1="664.51" y1="91.17" x2="667.11" y2="91.17" stroke="#4a4a4a" stroke-width="0.55" />
<line x1="666.20" y1="82.90" x2="666.20" y2="91.27" stroke="#4a4a4a" stroke-width="0.32" />
<line x1="664.90" y1="82.90" x2="667.50" y2="82.90" stroke="#4a4a4a" stroke-width="0.55" />
<line x1="664.90" y1="91.27" x2="667.50" y2="91.27" stroke="#4a4a4a" stroke-width="0.55" />
<line x1="666.58" y1="83.02" x2="666.58" y2="91.36" stroke="#4a4a4a" stroke-width="0.32" />
<line x1="665.28" y1="83.02" x2="667.88" y2="83.02" stroke="#4a4a4a" stroke-width="0.55" />
<line x1="665.28" y1="91.36" x2="667.88" y2="91.36" stroke="#4a4a4a" stroke-width="0.55" />
<line x1="666.95" y1="83.14" x2="666.95" y2="91.46" stroke="#4a4a4a" stroke-width="0.32" />
<line x1="665.65" y1="83.14" x2="668.25" y2="83.14" stroke="#4a4a4a" stroke-width="0.55" />
<line x1="665.65" y1="91.46" x2="668.25" y2="91.46" stroke="#4a4a4a" stroke-width="0.55" />
<line x1="667.32" y1="83.26" x2="667.32" y2="91.55" stroke="#4a4a4a" stroke-width="0.32" />
<line x1="666.02" y1="83.26" x2="668.62" y2="83.26" stroke="#4a4a4a" stroke-width="0.55" />
<line x1="666.02" y1="91.55" x2="668.62" y2="91.55" stroke="#4a4a4a" stroke-width="0.55" />
<line x1="667.69" y1="83.37" x2="667.69" y2="91.65" stroke="#4a4a4a" stroke-width="0.32" />
<line x1="666.39" y1="83.37" x2="668.99" y2="83.37" stroke="#4a4a4a" stroke-width="0.55" />
<line x1="666.39" y1="91.65" x2="668.99" y2="91.65" stroke="#4a4a4a" stroke-width="0.55" />
<line x1="668.05" y1="83.49" x2="668.05" y2="91.74" stroke="#4a4a4a" stroke-width="0.32" />
<line x1="666.75" y1="83.49" x2="669.35" y2="83.49" stroke="#4a4a4a" stroke-width="0.55" />
<line x1="666.75" y1="91.74" x2="669.35" y2="91.74" stroke="#4a4a4a" stroke-width="0.55" />
<line x1="668.41" y1="83.59" x2="668.41" y2="91.82" stroke="#4a4a4a" stroke-width="0.32" />
<line x1="667.11" y1="83.59" x2="669.71" y2="83.59" stroke="#4a4a4a" stroke-width="0.55" />
<line x1="667.11" y1="91.82" x2="669.71" y2="91.82" stroke="#4a4a4a" stroke-width="0.55" />
<line x1="668.76" y1="83.69" x2="668.76" y2="91.89" stroke="#4a4a4a" stroke-width="0.32" />
<line x1="667.46" y1="83.69" x2="670.06" y2="83.69" stroke="#4a4a4a" stroke-width="0.55" />
<line x1="667.46" y1="91.89" x2="670.06" y2="91.89" stroke="#4a4a4a" stroke-width="0.55" />
<line x1="669.11" y1="83.79" x2="669.11" y2="91.97" stroke="#4a4a4a" stroke-width="0.32" />
<line x1="667.81" y1="83.79" x2="670.41" y2="83.79" stroke="#4a4a4a" stroke-width="0.55" />
<line x1="667.81" y1="91.97" x2="670.41" y2="91.97" stroke="#4a4a4a" stroke-width="0.55" />
<line x1="669.45" y1="83.89" x2="669.45" y2="92.05" stroke="#4a4a4a" stroke-width="0.32" />
<line x1="668.15" y1="83.89" x2="670.75" y2="83.89" stroke="#4a4a4a" stroke-width="0.55" />
<line x1="668.15" y1="92.05" x2="670.75" y2="92.05" stroke="#4a4a4a" stroke-width="0.55" />
<line x1="669.79" y1="83.99" x2="669.79" y2="92.12" stroke="#4a4a4a" stroke-width="0.32" />
<line x1="668.49" y1="83.99" x2="671.09" y2="83.99" stroke="#4a4a4a" stroke-width="0.55" />
<line x1="668.49" y1="92.12" x2="671.09" y2="92.12" stroke="#4a4a4a" stroke-width="0.55" />
<line x1="670.13" y1="84.08" x2="670.13" y2="92.20" stroke="#4a4a4a" stroke-width="0.32" />
<line x1="668.83" y1="84.08" x2="671.43" y2="84.08" stroke="#4a4a4a" stroke-width="0.55" />
<line x1="668.83" y1="92.20" x2="671.43" y2="92.20" stroke="#4a4a4a" stroke-width="0.55" />
<line x1="670.46" y1="84.18" x2="670.46" y2="92.27" stroke="#4a4a4a" stroke-width="0.32" />
<line x1="669.16" y1="84.18" x2="671.76" y2="84.18" stroke="#4a4a4a" stroke-width="0.55" />
<line x1="669.16" y1="92.27" x2="671.76" y2="92.27" stroke="#4a4a4a" stroke-width="0.55" />
<line x1="670.79" y1="84.27" x2="670.79" y2="92.34" stroke="#4a4a4a" stroke-width="0.32" />
<line x1="669.49" y1="84.27" x2="672.09" y2="84.27" stroke="#4a4a4a" stroke-width="0.55" />
<line x1="669.49" y1="92.34" x2="672.09" y2="92.34" stroke="#4a4a4a" stroke-width="0.55" />
<line x1="671.11" y1="84.37" x2="671.11" y2="92.42" stroke="#4a4a4a" stroke-width="0.32" />
<line x1="669.81" y1="84.37" x2="672.41" y2="84.37" stroke="#4a4a4a" stroke-width="0.55" />
<line x1="669.81" y1="92.42" x2="672.41" y2="92.42" stroke="#4a4a4a" stroke-width="0.55" />
<line x1="671.43" y1="84.46" x2="671.43" y2="92.49" stroke="#4a4a4a" stroke-width="0.32" />
<line x1="670.13" y1="84.46" x2="672.73" y2="84.46" stroke="#4a4a4a" stroke-width="0.55" />
<line x1="670.13" y1="92.49" x2="672.73" y2="92.49" stroke="#4a4a4a" stroke-width="0.55" />
<line x1="671.75" y1="84.55" x2="671.75" y2="92.56" stroke="#4a4a4a" stroke-width="0.32" />
<line x1="670.45" y1="84.55" x2="673.05" y2="84.55" stroke="#4a4a4a" stroke-width="0.55" />
<line x1="670.45" y1="92.56" x2="673.05" y2="92.56" stroke="#4a4a4a" stroke-width="0.55" />
<line x1="672.06" y1="84.64" x2="672.06" y2="92.63" stroke="#4a4a4a" stroke-width="0.32" />
<line x1="670.76" y1="84.64" x2="673.36" y2="84.64" stroke="#4a4a4a" stroke-width="0.55" />
<line x1="670.76" y1="92.63" x2="673.36" y2="92.63" stroke="#4a4a4a" stroke-width="0.55" />
<line x1="672.37" y1="84.73" x2="672.37" y2="92.70" stroke="#4a4a4a" stroke-width="0.32" />
<line x1="671.07" y1="84.73" x2="673.67" y2="84.73" stroke="#4a4a4a" stroke-width="0.55" />
<line x1="671.07" y1="92.70" x2="673.67" y2="92.70" stroke="#4a4a4a" stroke-width="0.55" />
<line x1="672.68" y1="84.82" x2="672.68" y2="92.76" stroke="#4a4a4a" stroke-width="0.32" />
<line x1="671.38" y1="84.82" x2="673.98" y2="84.82" stroke="#4a4a4a" stroke-width="0.55" />
<line x1="671.38" y1="92.76" x2="673.98" y2="92.76" stroke="#4a4a4a" stroke-width="0.55" />
<line x1="672.98" y1="84.90" x2="672.98" y2="92.83" stroke="#4a4a4a" stroke-width="0.32" />
<line x1="671.68" y1="84.90" x2="674.28" y2="84.90" stroke="#4a4a4a" stroke-width="0.55" />
<line x1="671.68" y1="92.83" x2="674.28" y2="92.83" stroke="#4a4a4a" stroke-width="0.55" />
<line x1="673.28" y1="84.99" x2="673.28" y2="92.90" stroke="#4a4a4a" stroke-width="0.32" />
<line x1="671.98" y1="84.99" x2="674.58" y2="84.99" stroke="#4a4a4a" stroke-width="0.55" />
<line x1="671.98" y1="92.90" x2="674.58" y2="92.90" stroke="#4a4a4a" stroke-width="0.55" />
<line x1="673.58" y1="85.08" x2="673.58" y2="92.96" stroke="#4a4a4a" stroke-width="0.32" />
<line x1="672.28" y1="85.08" x2="674.88" y2="85.08" stroke="#4a4a4a" stroke-width="0.55" />
<line x1="672.28" y1="92.96" x2="674.88" y2="92.96" stroke="#4a4a4a" stroke-width="0.55" />
<line x1="673.87" y1="85.16" x2="673.87" y2="93.03" stroke="#4a4a4a" stroke-width="0.32" />
<line x1="672.57" y1="85.16" x2="675.17" y2="85.16" stroke="#4a4a4a" stroke-width="0.55" />
<line x1="672.57" y1="93.03" x2="675.17" y2="93.03" stroke="#4a4a4a" stroke-width="0.55" />
<line x1="674.16" y1="85.24" x2="674.16" y2="93.09" stroke="#4a4a4a" stroke-width="0.32" />
<line x1="672.86" y1="85.24" x2="675.46" y2="85.24" stroke="#4a4a4a" stroke-width="0.55" />
<line x1="672.86" y1="93.09" x2="675.46" y2="93.09" stroke="#4a4a4a" stroke-width="0.55" />
<line x1="674.45" y1="85.33" x2="674.45" y2="93.16" stroke="#4a4a4a" stroke-width="0.32" />
<line x1="673.15" y1="85.33" x2="675.75" y2="85.33" stroke="#4a4a4a" stroke-width="0.55" />
<line x1="673.15" y1="93.16" x2="675.75" y2="93.16" stroke="#4a4a4a" stroke-width="0.55" />
<line x1="674.74" y1="85.41" x2="674.74" y2="93.22" stroke="#4a4a4a" stroke-width="0.32" />
<line x1="673.44" y1="85.41" x2="676.04" y2="85.41" stroke="#4a4a4a" stroke-width="0.55" />
<line x1="673.44" y1="93.22" x2="676.04" y2="93.22" stroke="#4a4a4a" stroke-width="0.55" />
<line x1="675.02" y1="85.49" x2="675.02" y2="93.28" stroke="#4a4a4a" stroke-width="0.32" />
<line x1="673.72" y1="85.49" x2="676.32" y2="85.49" stroke="#4a4a4a" stroke-width="0.55" />
<line x1="673.72" y1="93.28" x2="676.32" y2="93.28" stroke="#4a4a4a" stroke-width="0.55" />
<line x1="675.30" y1="85.57" x2="675.30" y2="93.35" stroke="#4a4a4a" stroke-width="0.32" />
<line x1="674.00" y1="85.57" x2="676.60" y2="85.57" stroke="#4a4a4a" stroke-width="0.55" />
<line x1="674.00" y1="93.35" x2="676.60" y2="93.35" stroke="#4a4a4a" stroke-width="0.55" />
<line x1="675.57" y1="85.65" x2="675.57" y2="93.41" stroke="#4a4a4a" stroke-width="0.32" />
<line x1="674.27" y1="85.65" x2="676.87" y2="85.65" stroke="#4a4a4a" stroke-width="0.55" />
<line x1="674.27" y1="93.41" x2="676.87" y2="93.41" stroke="#4a4a4a" stroke-width="0.55" />
<line x1="675.85" y1="85.73" x2="675.85" y2="93.47" stroke="#4a4a4a" stroke-width="0.32" />
<line x1="674.55" y1="85.73" x2="677.15" y2="85.73" stroke="#4a4a4a" stroke-width="0.55" />
<line x1="674.55" y1="93.47" x2="677.15" y2="93.47" stroke="#4a4a4a" stroke-width="0.55" />
<line x1="676.12" y1="85.81" x2="676.12" y2="93.53" stroke="#4a4a4a" stroke-width="0.32" />
<line x1="674.82" y1="85.81" x2="677.42" y2="85.81" stroke="#4a4a4a" stroke-width="0.55" />
<line x1="674.82" y1="93.53" x2="677.42" y2="93.53" stroke="#4a4a4a" stroke-width="0.55" />
<line x1="676.39" y1="85.88" x2="676.39" y2="93.59" stroke="#4a4a4a" stroke-width="0.32" />
<line x1="675.09" y1="85.88" x2="677.69" y2="85.88" stroke="#4a4a4a" stroke-width="0.55" />
<line x1="675.09" y1="93.59" x2="677.69" y2="93.59" stroke="#4a4a4a" stroke-width="0.55" />
<line x1="676.65" y1="85.96" x2="676.65" y2="93.65" stroke="#4a4a4a" stroke-width="0.32" />
<line x1="675.35" y1="85.96" x2="677.95" y2="85.96" stroke="#4a4a4a" stroke-width="0.55" />
<line x1="675.35" y1="93.65" x2="677.95" y2="93.65" stroke="#4a4a4a" stroke-width="0.55" />
<line x1="676.92" y1="86.03" x2="676.92" y2="93.71" stroke="#4a4a4a" stroke-width="0.32" />
<line x1="675.62" y1="86.03" x2="678.22" y2="86.03" stroke="#4a4a4a" stroke-width="0.55" />
<line x1="675.62" y1="93.71" x2="678.22" y2="93.71" stroke="#4a4a4a" stroke-width="0.55" />
<line x1="677.18" y1="86.11" x2="677.18" y2="93.76" stroke="#4a4a4a" stroke-width="0.32" />
<line x1="675.88" y1="86.11" x2="678.48" y2="86.11" stroke="#4a4a4a" stroke-width="0.55" />
<line x1="675.88" y1="93.76" x2="678.48" y2="93.76" stroke="#4a4a4a" stroke-width="0.55" />
<line x1="677.44" y1="86.18" x2="677.44" y2="93.82" stroke="#4a4a4a" stroke-width="0.32" />
<line x1="676.14" y1="86.18" x2="678.74" y2="86.18" stroke="#4a4a4a" stroke-width="0.55" />
<line x1="676.14" y1="93.82" x2="678.74" y2="93.82" stroke="#4a4a4a" stroke-width="0.55" />
<line x1="677.70" y1="86.26" x2="677.70" y2="93.88" stroke="#4a4a4a" stroke-width="0.32" />
<line x1="676.40" y1="86.26" x2="679.00" y2="86.26" stroke="#4a4a4a" stroke-width="0.55" />
<line x1="676.40" y1="93.88" x2="679.00" y2="93.88" stroke="#4a4a4a" stroke-width="0.55" />
<line x1="677.95" y1="86.33" x2="677.95" y2="93.93" stroke="#4a4a4a" stroke-width="0.32" />
<line x1="676.65" y1="86.33" x2="679.25" y2="86.33" stroke="#4a4a4a" stroke-width="0.55" />
<line x1="676.65" y1="93.93" x2="679.25" y2="93.93" stroke="#4a4a4a" stroke-width="0.55" />
<line x1="678.20" y1="86.40" x2="678.20" y2="93.99" stroke="#4a4a4a" stroke-width="0.32" />
<line x1="676.90" y1="86.40" x2="679.50" y2="86.40" stroke="#4a4a4a" stroke-width="0.55" />
<line x1="676.90" y1="93.99" x2="679.50" y2="93.99" stroke="#4a4a4a" stroke-width="0.55" />
<line x1="678.45" y1="86.48" x2="678.45" y2="94.05" stroke="#4a4a4a" stroke-width="0.32" />
<line x1="677.15" y1="86.48" x2="679.75" y2="86.48" stroke="#4a4a4a" stroke-width="0.55" />
<line x1="677.15" y1="94.05" x2="679.75" y2="94.05" stroke="#4a4a4a" stroke-width="0.55" />
<path d="M632.02,71.84 L633.26,72.09 L634.46,72.32 L635.60,72.55 L636.70,72.85 L637.76,73.17 L638.78,73.48 L639.76,73.79 L640.71,74.08 L641.64,74.36 L642.53,74.64 L643.39,74.90 L644.23,75.18 L645.05,75.49 L645.84,75.80 L646.61,76.09 L647.36,76.38 L648.10,76.66 L648.81,76.93 L649.51,77.20 L650.19,77.46 L650.85,77.71 L651.50,77.96 L652.13,78.19 L652.75,78.39 L653.36,78.59 L653.95,78.78 L654.54,78.96 L655.11,79.15 L655.67,79.33 L656.22,79.50 L656.75,79.67 L657.28,79.84 L657.80,80.01 L658.31,80.17 L658.81,80.33 L659.30,80.49 L659.79,80.64 L660.26,80.80 L660.73,80.95 L661.19,81.09 L661.64,81.24 L662.09,81.38 L662.53,81.52 L662.96,81.66 L663.38,81.80 L663.80,81.93 L664.22,82.06 L664.63,82.19 L665.03,82.32 L665.42,82.45 L665.81,82.57 L666.20,82.70 L666.58,82.82 L666.95,82.94 L667.32,83.06 L667.69,83.17 L668.05,83.29 L668.41,83.39 L668.76,83.49 L669.11,83.59 L669.45,83.69 L669.79,83.79 L670.13,83.88 L670.46,83.98 L670.79,84.07 L671.11,84.17 L671.43,84.26 L671.75,84.35 L672.06,84.44 L672.37,84.53 L672.68,84.62 L672.98,84.70 L673.28,84.79 L673.58,84.88 L673.87,84.96 L674.16,85.04 L674.45,85.13 L674.74,85.21 L675.02,85.29 L675.30,85.37 L675.57,85.45 L675.85,85.53 L676.12,85.61 L676.39,85.68 L676.65,85.76 L676.92,85.83 L677.18,85.91 L677.44,85.98 L677.70,86.06 L677.95,86.13 L678.20,86.20 L678.45,86.28 L678.45,94.25 L678.20,94.19 L677.95,94.13 L677.70,94.08 L677.44,94.02 L677.18,93.96 L676.92,93.91 L676.65,93.85 L676.39,93.79 L676.12,93.73 L675.85,93.67 L675.57,93.61 L675.30,93.55 L675.02,93.48 L674.74,93.42 L674.45,93.36 L674.16,93.29 L673.87,93.23 L673.58,93.16 L673.28,93.10 L672.98,93.03 L672.68,92.96 L672.37,92.90 L672.06,92.83 L671.75,92.76 L671.43,92.69 L671.11,92.62 L670.79,92.54 L670.46,92.47 L670.13,92.40 L669.79,92.32 L669.45,92.25 L669.11,92.17 L668.76,92.09 L668.41,92.02 L668.05,91.94 L667.69,91.85 L667.32,91.75 L666.95,91.66 L666.58,91.56 L666.20,91.47 L665.81,91.37 L665.42,91.27 L665.03,91.17 L664.63,91.07 L664.22,90.96 L663.80,90.86 L663.38,90.75 L662.96,90.64 L662.53,90.53 L662.09,90.42 L661.64,90.31 L661.19,90.19 L660.73,90.07 L660.26,89.95 L659.79,89.83 L659.30,89.71 L658.81,89.58 L658.31,89.46 L657.80,89.33 L657.28,89.19 L656.75,89.06 L656.22,88.92 L655.67,88.78 L655.11,88.64 L654.54,88.49 L653.95,88.35 L653.36,88.19 L652.75,88.04 L652.13,87.88 L651.50,87.69 L650.85,87.48 L650.19,87.27 L649.51,87.06 L648.81,86.84 L648.10,86.61 L647.36,86.38 L646.61,86.14 L645.84,85.89 L645.05,85.64 L644.23,85.38 L643.39,85.16 L642.53,84.95 L641.64,84.74 L640.71,84.51 L639.76,84.28 L638.78,84.04 L637.76,83.80 L636.70,83.54 L635.60,83.32 L634.46,83.16 L633.26,83.00 L632.02,82.84 Z" stroke="none" stroke-width="1" fill="url(#cdark)" />
<circle cx="678.45" cy="90.26" r="1.6" fill="#2a9d7f" stroke="none" stroke-width="0.5" />
<rect x="509.40" y="14.40" width="170.00" height="121.00" fill="none" stroke="#333" stroke-width="1.1" />
<line x1="506.80" y1="135.40" x2="509.40" y2="135.40" stroke="#333" stroke-width="0.8" />
<text x="504.80" y="138.10" font-size="7.6" text-anchor="end" fill="#1c1c1c" font-weight="normal" font-style="normal" >0</text>
<line x1="507.90" y1="123.30" x2="509.40" y2="123.30" stroke="#333" stroke-width="0.8" />
<line x1="506.80" y1="111.20" x2="509.40" y2="111.20" stroke="#333" stroke-width="0.8" />
<text x="504.80" y="113.90" font-size="7.6" text-anchor="end" fill="#1c1c1c" font-weight="normal" font-style="normal" >10</text>
<line x1="507.90" y1="99.10" x2="509.40" y2="99.10" stroke="#333" stroke-width="0.8" />
<line x1="506.80" y1="87.00" x2="509.40" y2="87.00" stroke="#333" stroke-width="0.8" />
<text x="504.80" y="89.70" font-size="7.6" text-anchor="end" fill="#1c1c1c" font-weight="normal" font-style="normal" >20</text>
<line x1="507.90" y1="74.90" x2="509.40" y2="74.90" stroke="#333" stroke-width="0.8" />
<line x1="506.80" y1="62.80" x2="509.40" y2="62.80" stroke="#333" stroke-width="0.8" />
<text x="504.80" y="65.50" font-size="7.6" text-anchor="end" fill="#1c1c1c" font-weight="normal" font-style="normal" >30</text>
<line x1="507.90" y1="50.70" x2="509.40" y2="50.70" stroke="#333" stroke-width="0.8" />
<line x1="506.80" y1="38.60" x2="509.40" y2="38.60" stroke="#333" stroke-width="0.8" />
<text x="504.80" y="41.30" font-size="7.6" text-anchor="end" fill="#1c1c1c" font-weight="normal" font-style="normal" >40</text>
<line x1="507.90" y1="26.50" x2="509.40" y2="26.50" stroke="#333" stroke-width="0.8" />
<line x1="506.80" y1="14.40" x2="509.40" y2="14.40" stroke="#333" stroke-width="0.8" />
<text x="504.80" y="17.10" font-size="7.6" text-anchor="end" fill="#1c1c1c" font-weight="normal" font-style="normal" >50</text>
<line x1="509.40" y1="135.40" x2="509.40" y2="138.00" stroke="#333" stroke-width="0.8" />
<text x="509.40" y="146.20" font-size="7.8" text-anchor="middle" fill="#1c1c1c" font-weight="normal" font-style="normal" >1</text>
<line x1="529.15" y1="135.40" x2="529.15" y2="136.80" stroke="#333" stroke-width="0.8" />
<line x1="540.70" y1="135.40" x2="540.70" y2="136.80" stroke="#333" stroke-width="0.8" />
<line x1="548.90" y1="135.40" x2="548.90" y2="136.80" stroke="#333" stroke-width="0.8" />
<line x1="555.25" y1="135.40" x2="555.25" y2="136.80" stroke="#333" stroke-width="0.8" />
<line x1="560.45" y1="135.40" x2="560.45" y2="136.80" stroke="#333" stroke-width="0.8" />
<line x1="564.84" y1="135.40" x2="564.84" y2="136.80" stroke="#333" stroke-width="0.8" />
<line x1="568.64" y1="135.40" x2="568.64" y2="136.80" stroke="#333" stroke-width="0.8" />
<line x1="572.00" y1="135.40" x2="572.00" y2="136.80" stroke="#333" stroke-width="0.8" />
<line x1="575.00" y1="135.40" x2="575.00" y2="138.00" stroke="#333" stroke-width="0.8" />
<text x="575.00" y="146.20" font-size="7.8" text-anchor="middle" fill="#1c1c1c" font-weight="normal" font-style="normal" >10</text>
<line x1="594.75" y1="135.40" x2="594.75" y2="136.80" stroke="#333" stroke-width="0.8" />
<line x1="606.30" y1="135.40" x2="606.30" y2="136.80" stroke="#333" stroke-width="0.8" />
<line x1="614.50" y1="135.40" x2="614.50" y2="136.80" stroke="#333" stroke-width="0.8" />
<line x1="620.85" y1="135.40" x2="620.85" y2="136.80" stroke="#333" stroke-width="0.8" />
<line x1="626.05" y1="135.40" x2="626.05" y2="136.80" stroke="#333" stroke-width="0.8" />
<line x1="630.44" y1="135.40" x2="630.44" y2="136.80" stroke="#333" stroke-width="0.8" />
<line x1="634.24" y1="135.40" x2="634.24" y2="136.80" stroke="#333" stroke-width="0.8" />
<line x1="637.60" y1="135.40" x2="637.60" y2="136.80" stroke="#333" stroke-width="0.8" />
<line x1="640.60" y1="135.40" x2="640.60" y2="138.00" stroke="#333" stroke-width="0.8" />
<text x="640.60" y="146.20" font-size="7.8" text-anchor="middle" fill="#1c1c1c" font-weight="normal" font-style="normal" >100</text>
<line x1="660.35" y1="135.40" x2="660.35" y2="136.80" stroke="#333" stroke-width="0.8" />
<line x1="671.90" y1="135.40" x2="671.90" y2="136.80" stroke="#333" stroke-width="0.8" />
<text x="601.5" y="156.5" font-size="9.6" text-anchor="middle" fill="#1c1c1c">Laser intensity (mW cm<tspan font-size="5.5" dy="-3.5">-2</tspan><tspan dy="3.5">)</tspan></text>
<text transform="translate(488.60,76.00) rotate(-90)" font-size="8.9" text-anchor="middle" fill="#1c1c1c" >PLQY (%)</text>
<line x1="615.00" y1="23.60" x2="629.00" y2="23.60" stroke="#7fd6b6" stroke-width="1.1" />
<circle cx="622.00" cy="23.60" r="1.6" fill="#2a9d7f" stroke="none" stroke-width="0.5" />
<line x1="615.00" y1="36.00" x2="629.00" y2="36.00" stroke="#5aa6e6" stroke-width="1.1" />
<circle cx="622.00" cy="36.00" r="1.6" fill="#1f5fa8" stroke="none" stroke-width="0.5" />
<text x="632.00" y="26.30" font-size="7.6" text-anchor="start" fill="#1c1c1c" font-weight="normal" font-style="normal" >Film</text>
<text x="632.00" y="38.70" font-size="7.6" text-anchor="start" fill="#1c1c1c" font-weight="normal" font-style="normal" >Spherulite</text>
<text x="661" y="109.6" font-size="7.6" text-anchor="end" fill="#1c1c1c">φ<tspan font-size="4.2" dy="1.8">Film</tspan><tspan dy="-1.8">=27.60±2.25%</tspan></text>
<text x="661" y="119.6" font-size="7.6" text-anchor="end" fill="#1c1c1c">φ<tspan font-size="4.2" dy="1.8">Spherulite</tspan><tspan dy="-1.8">=36.23±2.34%</tspan></text>
<text x="0.00" y="178.60" font-size="13.4" text-anchor="start" fill="#0a0a0a" font-weight="bold" font-style="normal" >d</text>
<line x1="95.00" y1="316.40" x2="144.00" y2="179.00" stroke="#0a6cf0" stroke-width="1.1" stroke-dasharray="2.6,1.6"/>
<line x1="96.80" y1="316.40" x2="149.00" y2="179.00" stroke="#2fae88" stroke-width="1.1" stroke-dasharray="2.6,1.6"/>
<circle cx="40.00" cy="276.40" r="1.75" fill="#2fae88" stroke="none" stroke-width="0.5" />
<circle cx="44.60" cy="288.00" r="1.75" fill="#2fae88" stroke="none" stroke-width="0.5" />
<circle cx="49.40" cy="292.40" r="1.75" fill="#2fae88" stroke="none" stroke-width="0.5" />
<circle cx="54.40" cy="284.60" r="1.75" fill="#2fae88" stroke="none" stroke-width="0.5" />
<circle cx="60.00" cy="280.40" r="1.75" fill="#2fae88" stroke="none" stroke-width="0.5" />
<circle cx="65.40" cy="284.40" r="1.75" fill="#2fae88" stroke="none" stroke-width="0.5" />
<circle cx="71.00" cy="281.20" r="1.75" fill="#2fae88" stroke="none" stroke-width="0.5" />
<circle cx="77.00" cy="286.60" r="1.75" fill="#2fae88" stroke="none" stroke-width="0.5" />
<circle cx="83.40" cy="281.20" r="1.75" fill="#2fae88" stroke="none" stroke-width="0.5" />
<circle cx="89.60" cy="279.40" r="1.75" fill="#2fae88" stroke="none" stroke-width="0.5" />
<circle cx="96.60" cy="280.00" r="1.75" fill="#2fae88" stroke="none" stroke-width="0.5" />
<circle cx="103.40" cy="271.00" r="1.75" fill="#2fae88" stroke="none" stroke-width="0.5" />
<circle cx="110.40" cy="265.60" r="1.75" fill="#2fae88" stroke="none" stroke-width="0.5" />
<circle cx="118.00" cy="258.40" r="1.75" fill="#2fae88" stroke="none" stroke-width="0.5" />
<circle cx="126.00" cy="237.40" r="1.75" fill="#2fae88" stroke="none" stroke-width="0.5" />
<circle cx="134.40" cy="217.40" r="1.75" fill="#2fae88" stroke="none" stroke-width="0.5" />
<circle cx="142.60" cy="199.40" r="1.75" fill="#2fae88" stroke="none" stroke-width="0.5" />
<circle cx="152.00" cy="191.00" r="1.75" fill="#2fae88" stroke="none" stroke-width="0.5" />
<circle cx="161.00" cy="186.80" r="1.75" fill="#2fae88" stroke="none" stroke-width="0.5" />
<circle cx="171.00" cy="187.20" r="1.75" fill="#2fae88" stroke="none" stroke-width="0.5" />
<circle cx="181.00" cy="189.60" r="1.75" fill="#2fae88" stroke="none" stroke-width="0.5" />
<circle cx="192.00" cy="191.80" r="1.75" fill="#2fae88" stroke="none" stroke-width="0.5" />
<circle cx="40.00" cy="295.40" r="1.75" fill="#0a6cf0" stroke="none" stroke-width="0.5" />
<circle cx="44.60" cy="282.00" r="1.75" fill="#0a6cf0" stroke="none" stroke-width="0.5" />
<circle cx="49.40" cy="288.60" r="1.75" fill="#0a6cf0" stroke="none" stroke-width="0.5" />
<circle cx="54.40" cy="286.00" r="1.75" fill="#0a6cf0" stroke="none" stroke-width="0.5" />
<circle cx="60.00" cy="291.00" r="1.75" fill="#0a6cf0" stroke="none" stroke-width="0.5" />
<circle cx="65.40" cy="301.00" r="1.75" fill="#0a6cf0" stroke="none" stroke-width="0.5" />
<circle cx="71.00" cy="289.00" r="1.75" fill="#0a6cf0" stroke="none" stroke-width="0.5" />
<circle cx="77.00" cy="295.00" r="1.75" fill="#0a6cf0" stroke="none" stroke-width="0.5" />
<circle cx="83.40" cy="294.00" r="1.75" fill="#0a6cf0" stroke="none" stroke-width="0.5" />
<circle cx="89.60" cy="285.00" r="1.75" fill="#0a6cf0" stroke="none" stroke-width="0.5" />
<circle cx="96.60" cy="286.60" r="1.75" fill="#0a6cf0" stroke="none" stroke-width="0.5" />
<circle cx="103.40" cy="278.40" r="1.75" fill="#0a6cf0" stroke="none" stroke-width="0.5" />
<circle cx="110.40" cy="272.60" r="1.75" fill="#0a6cf0" stroke="none" stroke-width="0.5" />
<circle cx="118.00" cy="252.00" r="1.75" fill="#0a6cf0" stroke="none" stroke-width="0.5" />
<circle cx="126.00" cy="226.60" r="1.75" fill="#0a6cf0" stroke="none" stroke-width="0.5" />
<circle cx="134.40" cy="207.00" r="1.75" fill="#0a6cf0" stroke="none" stroke-width="0.5" />
<circle cx="142.60" cy="195.40" r="1.75" fill="#0a6cf0" stroke="none" stroke-width="0.5" />
<circle cx="152.00" cy="189.00" r="1.75" fill="#0a6cf0" stroke="none" stroke-width="0.5" />
<circle cx="161.00" cy="186.60" r="1.75" fill="#0a6cf0" stroke="none" stroke-width="0.5" />
<circle cx="171.00" cy="187.00" r="1.75" fill="#0a6cf0" stroke="none" stroke-width="0.5" />
<circle cx="181.00" cy="189.40" r="1.75" fill="#0a6cf0" stroke="none" stroke-width="0.5" />
<circle cx="192.00" cy="191.60" r="1.75" fill="#0a6cf0" stroke="none" stroke-width="0.5" />
<rect x="146.40" y="222.00" width="36.00" height="34.40" fill="#ebebeb" stroke="#888" stroke-width="0.7" stroke-dasharray="2,1.4"/>
<ellipse cx="163.6" cy="232.4" rx="10.2" ry="4.6" fill="#fff" stroke="#222" stroke-width="0.8"/>
<ellipse cx="163.2" cy="247.6" rx="13.4" ry="5.0" fill="#fff" stroke="#d83040" stroke-width="0.8"/>
<circle cx="159.40" cy="232.40" r="3.4" fill="#8a8a8a" stroke="none" stroke-width="0.5" />
<text x="159.40" y="234.60" font-size="6.4" text-anchor="middle" fill="#111" font-weight="bold" font-style="normal" >+</text>
<circle cx="169.00" cy="232.40" r="3.4" fill="#d0d0d0" stroke="none" stroke-width="0.5" />
<text x="169.00" y="234.60" font-size="6.4" text-anchor="middle" fill="#111" font-weight="bold" font-style="normal" >−</text>
<circle cx="157.00" cy="247.60" r="3.4" fill="#8a8a8a" stroke="none" stroke-width="0.5" />
<text x="157.00" y="249.80" font-size="6.4" text-anchor="middle" fill="#111" font-weight="bold" font-style="normal" >+</text>
<circle cx="170.20" cy="247.60" r="3.4" fill="#d0d0d0" stroke="none" stroke-width="0.5" />
<text x="170.20" y="249.80" font-size="6.4" text-anchor="middle" fill="#111" font-weight="bold" font-style="normal" >−</text>
<path d="M165,257 C162,265 157,270 156.6,279" stroke="#444" stroke-width="0.75" fill="none" stroke-dasharray="1.8,1.1"/>
<path d="M155.4,277.6 L156.6,280.6 L157.8,277.6 Z" stroke="none" stroke-width="1" fill="#333" />
<path d="M158.40,278.40 L161.27,283.91 L169.20,280.83 L165.67,286.20 L174.94,286.99 L166.67,289.70 L172.95,294.00 L163.80,292.78 L164.15,298.57 L158.40,294.00 L152.65,298.57 L153.00,292.78 L143.85,294.00 L150.13,289.70 L141.86,286.99 L151.13,286.20 L147.60,280.83 L155.53,283.91 Z" stroke="#e04050" stroke-width="0.7" fill="#fffaf0" />
<text x="158.40" y="291.20" font-size="7.0" text-anchor="middle" fill="#222" font-weight="normal" font-style="normal" >Trap</text>
<rect x="30.40" y="179.00" width="165.00" height="137.40" fill="none" stroke="#333" stroke-width="1.1" />
<line x1="30.40" y1="186.40" x2="33.40" y2="186.40" stroke="#333" stroke-width="0.8" />
<text x="29.00" y="189.40" font-size="8.6" text-anchor="end" fill="#1c1c1c">10<tspan font-size="5.4" dy="-3.4">0</tspan></text>
<line x1="30.40" y1="216.69" x2="32.00" y2="216.69" stroke="#333" stroke-width="0.6" />
<line x1="30.40" y1="209.06" x2="32.00" y2="209.06" stroke="#333" stroke-width="0.6" />
<line x1="30.40" y1="203.64" x2="32.00" y2="203.64" stroke="#333" stroke-width="0.6" />
<line x1="30.40" y1="199.44" x2="32.00" y2="199.44" stroke="#333" stroke-width="0.6" />
<line x1="30.40" y1="196.01" x2="32.00" y2="196.01" stroke="#333" stroke-width="0.6" />
<line x1="30.40" y1="193.11" x2="32.00" y2="193.11" stroke="#333" stroke-width="0.6" />
<line x1="30.40" y1="190.60" x2="32.00" y2="190.60" stroke="#333" stroke-width="0.6" />
<line x1="30.40" y1="188.38" x2="32.00" y2="188.38" stroke="#333" stroke-width="0.6" />
<line x1="30.40" y1="229.73" x2="33.40" y2="229.73" stroke="#333" stroke-width="0.8" />
<text x="29.00" y="232.73" font-size="8.6" text-anchor="end" fill="#1c1c1c">10<tspan font-size="5.4" dy="-3.4">-1</tspan></text>
<line x1="30.40" y1="260.02" x2="32.00" y2="260.02" stroke="#333" stroke-width="0.6" />
<line x1="30.40" y1="252.39" x2="32.00" y2="252.39" stroke="#333" stroke-width="0.6" />
<line x1="30.40" y1="246.97" x2="32.00" y2="246.97" stroke="#333" stroke-width="0.6" />
<line x1="30.40" y1="242.77" x2="32.00" y2="242.77" stroke="#333" stroke-width="0.6" />
<line x1="30.40" y1="239.34" x2="32.00" y2="239.34" stroke="#333" stroke-width="0.6" />
<line x1="30.40" y1="236.44" x2="32.00" y2="236.44" stroke="#333" stroke-width="0.6" />
<line x1="30.40" y1="233.93" x2="32.00" y2="233.93" stroke="#333" stroke-width="0.6" />
<line x1="30.40" y1="231.71" x2="32.00" y2="231.71" stroke="#333" stroke-width="0.6" />
<line x1="30.40" y1="273.06" x2="33.40" y2="273.06" stroke="#333" stroke-width="0.8" />
<text x="29.00" y="276.06" font-size="8.6" text-anchor="end" fill="#1c1c1c">10<tspan font-size="5.4" dy="-3.4">-2</tspan></text>
<line x1="30.40" y1="303.35" x2="32.00" y2="303.35" stroke="#333" stroke-width="0.6" />
<line x1="30.40" y1="295.72" x2="32.00" y2="295.72" stroke="#333" stroke-width="0.6" />
<line x1="30.40" y1="290.30" x2="32.00" y2="290.30" stroke="#333" stroke-width="0.6" />
<line x1="30.40" y1="286.10" x2="32.00" y2="286.10" stroke="#333" stroke-width="0.6" />
<line x1="30.40" y1="282.67" x2="32.00" y2="282.67" stroke="#333" stroke-width="0.6" />
<line x1="30.40" y1="279.77" x2="32.00" y2="279.77" stroke="#333" stroke-width="0.6" />
<line x1="30.40" y1="277.26" x2="32.00" y2="277.26" stroke="#333" stroke-width="0.6" />
<line x1="30.40" y1="275.04" x2="32.00" y2="275.04" stroke="#333" stroke-width="0.6" />
<line x1="30.40" y1="316.39" x2="33.40" y2="316.39" stroke="#333" stroke-width="0.8" />
<text x="29.00" y="319.39" font-size="8.6" text-anchor="end" fill="#1c1c1c">10<tspan font-size="5.4" dy="-3.4">-3</tspan></text>
<line x1="30.40" y1="313.80" x2="30.40" y2="316.40" stroke="#333" stroke-width="0.8" />
<text x="30.40" y="325.60" font-size="8.6" text-anchor="middle" fill="#1c1c1c" font-weight="normal" font-style="normal" >2.0</text>
<line x1="44.15" y1="314.90" x2="44.15" y2="316.40" stroke="#333" stroke-width="0.8" />
<line x1="57.90" y1="313.80" x2="57.90" y2="316.40" stroke="#333" stroke-width="0.8" />
<text x="57.90" y="325.60" font-size="8.6" text-anchor="middle" fill="#1c1c1c" font-weight="normal" font-style="normal" >2.2</text>
<line x1="71.65" y1="314.90" x2="71.65" y2="316.40" stroke="#333" stroke-width="0.8" />
<line x1="85.40" y1="313.80" x2="85.40" y2="316.40" stroke="#333" stroke-width="0.8" />
<text x="85.40" y="325.60" font-size="8.6" text-anchor="middle" fill="#1c1c1c" font-weight="normal" font-style="normal" >2.4</text>
<line x1="99.15" y1="314.90" x2="99.15" y2="316.40" stroke="#333" stroke-width="0.8" />
<line x1="112.90" y1="313.80" x2="112.90" y2="316.40" stroke="#333" stroke-width="0.8" />
<text x="112.90" y="325.60" font-size="8.6" text-anchor="middle" fill="#1c1c1c" font-weight="normal" font-style="normal" >2.6</text>
<line x1="126.65" y1="314.90" x2="126.65" y2="316.40" stroke="#333" stroke-width="0.8" />
<line x1="140.40" y1="313.80" x2="140.40" y2="316.40" stroke="#333" stroke-width="0.8" />
<text x="140.40" y="325.60" font-size="8.6" text-anchor="middle" fill="#1c1c1c" font-weight="normal" font-style="normal" >2.8</text>
<line x1="154.15" y1="314.90" x2="154.15" y2="316.40" stroke="#333" stroke-width="0.8" />
<line x1="167.90" y1="313.80" x2="167.90" y2="316.40" stroke="#333" stroke-width="0.8" />
<text x="167.90" y="325.60" font-size="8.6" text-anchor="middle" fill="#1c1c1c" font-weight="normal" font-style="normal" >3.0</text>
<line x1="181.65" y1="314.90" x2="181.65" y2="316.40" stroke="#333" stroke-width="0.8" />
<line x1="195.40" y1="313.80" x2="195.40" y2="316.40" stroke="#333" stroke-width="0.8" />
<text x="195.40" y="325.60" font-size="8.6" text-anchor="middle" fill="#1c1c1c" font-weight="normal" font-style="normal" >3.2</text>
<text x="116.50" y="340.60" font-size="9.5" text-anchor="middle" fill="#1c1c1c" font-weight="normal" font-style="normal" >Photon energy (eV)</text>
<text transform="translate(7.90,243.50) rotate(-90)" font-size="9.8" text-anchor="middle" fill="#1c1c1c" >Normalized PDS signal</text>
<circle cx="42.00" cy="197.00" r="1.75" fill="#2fae88" stroke="none" stroke-width="0.5" />
<circle cx="42.00" cy="221.00" r="1.75" fill="#0a6cf0" stroke="none" stroke-width="0.5" />
<text x="52.00" y="199.70" font-size="7.4" text-anchor="start" fill="#1c1c1c" font-weight="normal" font-style="normal" >Film</text>
<text x="52.00" y="223.70" font-size="7.4" text-anchor="start" fill="#1c1c1c" font-weight="normal" font-style="normal" >Spherulite</text>
<text x="52" y="210.8" font-size="7.4" fill="#1c1c1c">E<tspan font-size="4.6" dy="1.8">U</tspan><tspan dy="-1.8">= 52.9 meV</tspan></text>
<text x="52" y="237.8" font-size="7.4" fill="#1c1c1c">E<tspan font-size="4.6" dy="1.8">U</tspan><tspan dy="-1.8">= 48.1 meV</tspan></text>
<text x="232.60" y="179.20" font-size="13.4" text-anchor="start" fill="#0a0a0a" font-weight="bold" font-style="normal" >e</text>
<path d="M265.60,210.00 L265.80,260.00 L266.00,315.00 L268.00,313.00 L270.00,310.00 L272.50,307.00 L275.00,303.50 L277.00,302.00 L280.00,301.00 L283.00,300.00 L287.00,298.50 L291.00,297.00 L296.00,295.00 L302.00,292.50 L308.00,290.00 L314.00,287.50 L320.00,285.00 L326.00,282.00 L331.00,280.50 L337.00,278.00 L343.20,275.50 L350.00,274.00 L355.00,272.50 L359.90,270.00 L366.00,266.50 L372.30,264.40 L376.50,268.50 L381.00,262.00 L386.20,257.40 L391.00,259.50 L395.90,258.80 L402.00,254.00 L408.40,249.10 L414.00,250.50 L420.90,261.60 L425.00,258.50 L430.60,256.00 L437.50,258.80 L446.60,257.40" stroke="#35b57f" stroke-width="1.2" fill="none" stroke-linejoin="round"/>
<path d="M264.40,200.00 L264.60,240.00 L265.00,314.00 L266.50,313.50 L268.50,311.00 L270.00,309.50 L272.00,306.00 L273.50,308.00 L275.00,304.00 L277.00,305.50 L279.00,302.00 L282.00,300.40 L285.00,298.50 L287.70,296.30 L291.00,295.00 L296.00,292.70 L300.00,291.00 L304.40,289.30 L310.00,286.50 L315.50,283.60 L320.00,281.50 L323.80,279.20 L326.60,274.60 L331.00,277.00 L334.90,278.30 L341.00,272.50 L348.80,267.70 L355.70,270.00 L362.00,268.00 L369.00,266.00 L375.00,263.00 L382.00,250.50 L390.40,257.40 L396.00,258.00 L401.50,252.70 L408.40,261.00 L415.00,255.00 L421.00,249.00 L427.00,237.00 L433.40,225.00 L440.30,257.40 L445.90,238.90" stroke="#1f7ff0" stroke-width="1.2" fill="none" stroke-linejoin="round"/>
<line x1="306.00" y1="285.60" x2="446.60" y2="240.00" stroke="#4da0f0" stroke-width="1.0" stroke-dasharray="2.6,1.6"/>
<line x1="306.00" y1="285.00" x2="446.60" y2="249.60" stroke="#4cc487" stroke-width="1.0" stroke-dasharray="2.6,1.6"/>
<rect x="263.60" y="179.40" width="183.00" height="137.20" fill="none" stroke="#333" stroke-width="1.1" />
<line x1="261.00" y1="179.40" x2="263.60" y2="179.40" stroke="#333" stroke-width="0.8" />
<text x="260.60" y="182.20" font-size="7.8" text-anchor="end" fill="#1c1c1c">-10<tspan font-size="5" dy="-3.2">-2</tspan></text>
<line x1="262.20" y1="199.81" x2="263.60" y2="199.81" stroke="#333" stroke-width="0.6" />
<line x1="262.20" y1="211.75" x2="263.60" y2="211.75" stroke="#333" stroke-width="0.6" />
<line x1="262.20" y1="220.22" x2="263.60" y2="220.22" stroke="#333" stroke-width="0.6" />
<line x1="262.20" y1="226.79" x2="263.60" y2="226.79" stroke="#333" stroke-width="0.6" />
<line x1="262.20" y1="232.16" x2="263.60" y2="232.16" stroke="#333" stroke-width="0.6" />
<line x1="262.20" y1="236.70" x2="263.60" y2="236.70" stroke="#333" stroke-width="0.6" />
<line x1="262.20" y1="240.63" x2="263.60" y2="240.63" stroke="#333" stroke-width="0.6" />
<line x1="262.20" y1="244.10" x2="263.60" y2="244.10" stroke="#333" stroke-width="0.6" />
<line x1="261.00" y1="247.20" x2="263.60" y2="247.20" stroke="#333" stroke-width="0.8" />
<text x="260.60" y="250.00" font-size="7.8" text-anchor="end" fill="#1c1c1c">-10<tspan font-size="5" dy="-3.2">-1</tspan></text>
<line x1="262.20" y1="267.61" x2="263.60" y2="267.61" stroke="#333" stroke-width="0.6" />
<line x1="262.20" y1="279.55" x2="263.60" y2="279.55" stroke="#333" stroke-width="0.6" />
<line x1="262.20" y1="288.02" x2="263.60" y2="288.02" stroke="#333" stroke-width="0.6" />
<line x1="262.20" y1="294.59" x2="263.60" y2="294.59" stroke="#333" stroke-width="0.6" />
<line x1="262.20" y1="299.96" x2="263.60" y2="299.96" stroke="#333" stroke-width="0.6" />
<line x1="262.20" y1="304.50" x2="263.60" y2="304.50" stroke="#333" stroke-width="0.6" />
<line x1="262.20" y1="308.43" x2="263.60" y2="308.43" stroke="#333" stroke-width="0.6" />
<line x1="262.20" y1="311.90" x2="263.60" y2="311.90" stroke="#333" stroke-width="0.6" />
<line x1="261.00" y1="315.00" x2="263.60" y2="315.00" stroke="#333" stroke-width="0.8" />
<text x="260.60" y="317.80" font-size="7.8" text-anchor="end" fill="#1c1c1c">-10<tspan font-size="5" dy="-3.2">0</tspan></text>
<line x1="265.00" y1="316.60" x2="265.00" y2="319.20" stroke="#333" stroke-width="0.8" />
<text x="265.00" y="326.60" font-size="7.8" text-anchor="middle" fill="#1c1c1c" font-weight="normal" font-style="normal" >0</text>
<line x1="281.16" y1="316.60" x2="281.16" y2="318.10" stroke="#333" stroke-width="0.8" />
<line x1="297.32" y1="316.60" x2="297.32" y2="319.20" stroke="#333" stroke-width="0.8" />
<text x="297.32" y="326.60" font-size="7.8" text-anchor="middle" fill="#1c1c1c" font-weight="normal" font-style="normal" >50</text>
<line x1="313.48" y1="316.60" x2="313.48" y2="318.10" stroke="#333" stroke-width="0.8" />
<line x1="329.64" y1="316.60" x2="329.64" y2="319.20" stroke="#333" stroke-width="0.8" />
<text x="329.64" y="326.60" font-size="7.8" text-anchor="middle" fill="#1c1c1c" font-weight="normal" font-style="normal" >100</text>
<line x1="345.80" y1="316.60" x2="345.80" y2="318.10" stroke="#333" stroke-width="0.8" />
<line x1="361.96" y1="316.60" x2="361.96" y2="319.20" stroke="#333" stroke-width="0.8" />
<text x="361.96" y="326.60" font-size="7.8" text-anchor="middle" fill="#1c1c1c" font-weight="normal" font-style="normal" >150</text>
<line x1="378.12" y1="316.60" x2="378.12" y2="318.10" stroke="#333" stroke-width="0.8" />
<line x1="394.28" y1="316.60" x2="394.28" y2="319.20" stroke="#333" stroke-width="0.8" />
<text x="394.28" y="326.60" font-size="7.8" text-anchor="middle" fill="#1c1c1c" font-weight="normal" font-style="normal" >200</text>
<line x1="410.44" y1="316.60" x2="410.44" y2="318.10" stroke="#333" stroke-width="0.8" />
<line x1="426.60" y1="316.60" x2="426.60" y2="319.20" stroke="#333" stroke-width="0.8" />
<text x="426.60" y="326.60" font-size="7.8" text-anchor="middle" fill="#1c1c1c" font-weight="normal" font-style="normal" >250</text>
<line x1="442.76" y1="316.60" x2="442.76" y2="318.10" stroke="#333" stroke-width="0.8" />
<text x="355.00" y="340.80" font-size="9.5" text-anchor="middle" fill="#1c1c1c" font-weight="normal" font-style="normal" >Pump probe delay (ps)</text>
<text transform="translate(240.4,248) rotate(-90)" font-size="9.3" text-anchor="middle" fill="#1c1c1c">ΔA (Norm.)</text>
<line x1="384.40" y1="193.00" x2="396.60" y2="193.00" stroke="#35b57f" stroke-width="1.6" />
<line x1="384.40" y1="206.00" x2="396.60" y2="206.00" stroke="#1f7ff0" stroke-width="1.6" />
<text x="401.00" y="195.60" font-size="7.4" text-anchor="start" fill="#1c1c1c" font-weight="normal" font-style="normal" >Film</text>
<text x="401.00" y="208.60" font-size="7.4" text-anchor="start" fill="#1c1c1c" font-weight="normal" font-style="normal" >Spherulite</text>
<text x="373.6" y="233.4" font-size="7.8" fill="#1c1c1c">3.0 <tspan font-style="italic">μ</tspan>J cm<tspan font-size="5" dy="-3.2">-2</tspan></text>
<text x="428.4" y="287.6" font-size="7.4" text-anchor="end" fill="#1c1c1c">τ<tspan font-size="4.2" dy="1.8">Film</tspan><tspan dy="-1.8">=97.30 ps</tspan></text>
<text x="433.6" y="297.6" font-size="7.4" text-anchor="end" fill="#1c1c1c">τ<tspan font-size="4.2" dy="1.8">Spherulite</tspan><tspan dy="-1.8">=135.84 ps</tspan></text>
<path d="M296.04,236.05 L298.91,234.44 L301.78,232.82 L304.12,231.75 L307.82,231.21 L310.69,230.67 L313.03,228.52 L315.01,227.45 L316.73,226.38 L319.60,225.30 L321.94,223.15 L323.93,222.07 L325.64,219.92 L327.16,218.85 L328.51,217.77 L329.74,218.85 L331.38,216.70 L333.72,215.62 L337.42,212.40 L340.29,209.71 L342.63,207.56 L344.61,205.41 L346.33,203.26 L349.20,201.11 L352.57,198.42 L355.24,196.27 L356.76,195.20" stroke="#5cc89a" stroke-width="0.8" fill="none" />
<path d="M296.04,238.20 L298.91,237.66 L301.78,237.12 L304.12,236.59 L307.82,235.51 L310.69,234.97 L313.03,232.82 L315.01,233.90 L316.73,230.14 L318.25,230.67 L319.60,228.52 L321.94,227.45 L323.93,225.30 L325.64,223.15 L327.16,221.00 L328.51,223.15 L329.74,222.07 L331.38,217.77 L333.72,216.70 L337.42,212.40 L340.29,209.17 L342.63,207.02 L344.61,204.88 L346.33,202.19 L349.20,200.57 L352.57,197.35 L355.24,195.20 L356.76,192.51" stroke="#4a98f2" stroke-width="0.8" fill="none" />
<rect x="290.60" y="190.00" width="68.40" height="53.40" fill="none" stroke="#3a3a3a" stroke-width="0.75" />
<line x1="288.80" y1="195.20" x2="290.60" y2="195.20" stroke="#333" stroke-width="0.7" />
<text x="288.20" y="197.50" font-size="6.4" text-anchor="end" fill="#1c1c1c" font-weight="normal" font-style="normal" >-0.2</text>
<line x1="288.80" y1="205.95" x2="290.60" y2="205.95" stroke="#333" stroke-width="0.7" />
<text x="288.20" y="208.25" font-size="6.4" text-anchor="end" fill="#1c1c1c" font-weight="normal" font-style="normal" >-0.4</text>
<line x1="288.80" y1="216.70" x2="290.60" y2="216.70" stroke="#333" stroke-width="0.7" />
<text x="288.20" y="219.00" font-size="6.4" text-anchor="end" fill="#1c1c1c" font-weight="normal" font-style="normal" >-0.6</text>
<line x1="288.80" y1="227.45" x2="290.60" y2="227.45" stroke="#333" stroke-width="0.7" />
<text x="288.20" y="229.75" font-size="6.4" text-anchor="end" fill="#1c1c1c" font-weight="normal" font-style="normal" >-0.8</text>
<line x1="288.80" y1="238.20" x2="290.60" y2="238.20" stroke="#333" stroke-width="0.7" />
<text x="288.20" y="240.50" font-size="6.4" text-anchor="end" fill="#1c1c1c" font-weight="normal" font-style="normal" >-1.0</text>
<line x1="290.00" y1="243.40" x2="290.00" y2="245.20" stroke="#333" stroke-width="0.6" />
<text x="290.00" y="250.40" font-size="6.4" text-anchor="middle" fill="#1c1c1c" font-weight="normal" font-style="normal" >1</text>
<line x1="298.91" y1="243.40" x2="298.91" y2="244.40" stroke="#333" stroke-width="0.6" />
<line x1="304.12" y1="243.40" x2="304.12" y2="244.40" stroke="#333" stroke-width="0.6" />
<line x1="307.82" y1="243.40" x2="307.82" y2="244.40" stroke="#333" stroke-width="0.6" />
<line x1="310.69" y1="243.40" x2="310.69" y2="244.40" stroke="#333" stroke-width="0.6" />
<line x1="313.03" y1="243.40" x2="313.03" y2="244.40" stroke="#333" stroke-width="0.6" />
<line x1="315.01" y1="243.40" x2="315.01" y2="244.40" stroke="#333" stroke-width="0.6" />
<line x1="316.73" y1="243.40" x2="316.73" y2="244.40" stroke="#333" stroke-width="0.6" />
<line x1="318.25" y1="243.40" x2="318.25" y2="244.40" stroke="#333" stroke-width="0.6" />
<line x1="319.60" y1="243.40" x2="319.60" y2="245.20" stroke="#333" stroke-width="0.6" />
<text x="319.60" y="250.40" font-size="6.4" text-anchor="middle" fill="#1c1c1c" font-weight="normal" font-style="normal" >10</text>
<line x1="328.51" y1="243.40" x2="328.51" y2="244.40" stroke="#333" stroke-width="0.6" />
<line x1="333.72" y1="243.40" x2="333.72" y2="244.40" stroke="#333" stroke-width="0.6" />
<line x1="337.42" y1="243.40" x2="337.42" y2="244.40" stroke="#333" stroke-width="0.6" />
<line x1="340.29" y1="243.40" x2="340.29" y2="244.40" stroke="#333" stroke-width="0.6" />
<line x1="342.63" y1="243.40" x2="342.63" y2="244.40" stroke="#333" stroke-width="0.6" />
<line x1="344.61" y1="243.40" x2="344.61" y2="244.40" stroke="#333" stroke-width="0.6" />
<line x1="346.33" y1="243.40" x2="346.33" y2="244.40" stroke="#333" stroke-width="0.6" />
<line x1="347.85" y1="243.40" x2="347.85" y2="244.40" stroke="#333" stroke-width="0.6" />
<line x1="349.20" y1="243.40" x2="349.20" y2="245.20" stroke="#333" stroke-width="0.6" />
<text x="349.20" y="250.40" font-size="6.4" text-anchor="middle" fill="#1c1c1c" font-weight="normal" font-style="normal" >100</text>
<line x1="358.11" y1="243.40" x2="358.11" y2="244.40" stroke="#333" stroke-width="0.6" />
<text x="324.80" y="258.00" font-size="6.8" text-anchor="middle" fill="#1c1c1c" font-weight="normal" font-style="normal" >Pump probe delay (ps)</text>
<text transform="translate(276.20,216.60) rotate(-90)" font-size="6.6" text-anchor="middle" fill="#1c1c1c" >ΔA (Norm.)</text>
<text x="481.60" y="178.60" font-size="13.4" text-anchor="start" fill="#0a0a0a" font-weight="bold" font-style="normal" >f</text>
<rect x="526.14" y="316.01" width="1.64" height="0.39" fill="#40b8b6" stroke="#1d5050" stroke-width="0.3" />
<rect x="527.77" y="315.79" width="1.64" height="0.61" fill="#40b8b6" stroke="#1d5050" stroke-width="0.3" />
<rect x="529.41" y="315.44" width="1.64" height="0.96" fill="#40b8b6" stroke="#1d5050" stroke-width="0.3" />
<rect x="531.04" y="314.94" width="1.64" height="1.46" fill="#40b8b6" stroke="#1d5050" stroke-width="0.3" />
<rect x="532.68" y="314.20" width="1.64" height="2.20" fill="#40b8b6" stroke="#1d5050" stroke-width="0.3" />
<rect x="534.31" y="313.15" width="1.64" height="3.25" fill="#40b8b6" stroke="#1d5050" stroke-width="0.3" />
<rect x="535.95" y="311.69" width="1.64" height="4.71" fill="#40b8b6" stroke="#1d5050" stroke-width="0.3" />
<rect x="537.58" y="309.70" width="1.64" height="6.70" fill="#40b8b6" stroke="#1d5050" stroke-width="0.3" />
<rect x="539.22" y="307.02" width="1.64" height="9.38" fill="#40b8b6" stroke="#1d5050" stroke-width="0.3" />
<rect x="540.85" y="303.53" width="1.64" height="12.87" fill="#40b8b6" stroke="#1d5050" stroke-width="0.3" />
<rect x="542.49" y="299.09" width="1.64" height="17.31" fill="#40b8b6" stroke="#1d5050" stroke-width="0.3" />
<rect x="544.12" y="293.57" width="1.64" height="22.83" fill="#40b8b6" stroke="#1d5050" stroke-width="0.3" />
<rect x="545.76" y="286.91" width="1.64" height="29.49" fill="#40b8b6" stroke="#1d5050" stroke-width="0.3" />
<rect x="547.39" y="279.11" width="1.64" height="37.29" fill="#40b8b6" stroke="#1d5050" stroke-width="0.3" />
<rect x="549.03" y="270.28" width="1.64" height="46.12" fill="#40b8b6" stroke="#1d5050" stroke-width="0.3" />
<rect x="550.66" y="260.61" width="1.64" height="55.79" fill="#40b8b6" stroke="#1d5050" stroke-width="0.3" />
<rect x="552.30" y="250.44" width="1.64" height="65.96" fill="#40b8b6" stroke="#1d5050" stroke-width="0.3" />
<rect x="553.93" y="240.20" width="1.64" height="76.20" fill="#40b8b6" stroke="#1d5050" stroke-width="0.3" />
<rect x="555.57" y="230.39" width="1.64" height="86.01" fill="#40b8b6" stroke="#1d5050" stroke-width="0.3" />
<rect x="557.20" y="221.59" width="1.64" height="94.81" fill="#40b8b6" stroke="#1d5050" stroke-width="0.3" />
<rect x="558.84" y="214.34" width="1.64" height="102.06" fill="#40b8b6" stroke="#1d5050" stroke-width="0.3" />
<rect x="560.47" y="209.12" width="1.64" height="107.28" fill="#40b8b6" stroke="#1d5050" stroke-width="0.3" />
<rect x="562.11" y="206.31" width="1.64" height="110.09" fill="#40b8b6" stroke="#1d5050" stroke-width="0.3" />
<rect x="563.74" y="206.11" width="1.64" height="110.29" fill="#40b8b6" stroke="#1d5050" stroke-width="0.3" />
<rect x="565.38" y="208.54" width="1.64" height="107.86" fill="#40b8b6" stroke="#1d5050" stroke-width="0.3" />
<rect x="567.01" y="213.43" width="1.64" height="102.97" fill="#40b8b6" stroke="#1d5050" stroke-width="0.3" />
<rect x="568.65" y="220.45" width="1.64" height="95.95" fill="#40b8b6" stroke="#1d5050" stroke-width="0.3" />
<rect x="570.28" y="229.13" width="1.64" height="87.27" fill="#40b8b6" stroke="#1d5050" stroke-width="0.3" />
<rect x="571.92" y="238.92" width="1.64" height="77.48" fill="#40b8b6" stroke="#1d5050" stroke-width="0.3" />
<rect x="573.55" y="249.26" width="1.64" height="67.14" fill="#40b8b6" stroke="#1d5050" stroke-width="0.3" />
<rect x="575.19" y="259.61" width="1.64" height="56.79" fill="#40b8b6" stroke="#1d5050" stroke-width="0.3" />
<rect x="576.82" y="269.52" width="1.64" height="46.88" fill="#40b8b6" stroke="#1d5050" stroke-width="0.3" />
<rect x="578.46" y="278.62" width="1.64" height="37.78" fill="#40b8b6" stroke="#1d5050" stroke-width="0.3" />
<rect x="580.09" y="286.69" width="1.64" height="29.71" fill="#40b8b6" stroke="#1d5050" stroke-width="0.3" />
<rect x="581.73" y="293.59" width="1.64" height="22.81" fill="#40b8b6" stroke="#1d5050" stroke-width="0.3" />
<rect x="583.36" y="299.31" width="1.64" height="17.09" fill="#40b8b6" stroke="#1d5050" stroke-width="0.3" />
<rect x="585.00" y="303.90" width="1.64" height="12.50" fill="#40b8b6" stroke="#1d5050" stroke-width="0.3" />
<rect x="586.63" y="307.48" width="1.64" height="8.92" fill="#40b8b6" stroke="#1d5050" stroke-width="0.3" />
<rect x="588.27" y="310.18" width="1.64" height="6.22" fill="#40b8b6" stroke="#1d5050" stroke-width="0.3" />
<rect x="589.90" y="312.17" width="1.64" height="4.23" fill="#40b8b6" stroke="#1d5050" stroke-width="0.3" />
<rect x="591.54" y="313.59" width="1.64" height="2.81" fill="#40b8b6" stroke="#1d5050" stroke-width="0.3" />
<rect x="593.17" y="314.58" width="1.64" height="1.82" fill="#40b8b6" stroke="#1d5050" stroke-width="0.3" />
<rect x="594.81" y="315.25" width="1.64" height="1.15" fill="#40b8b6" stroke="#1d5050" stroke-width="0.3" />
<rect x="596.44" y="315.69" width="1.64" height="0.71" fill="#40b8b6" stroke="#1d5050" stroke-width="0.3" />
<rect x="598.08" y="315.97" width="1.64" height="0.43" fill="#40b8b6" stroke="#1d5050" stroke-width="0.3" />
<rect x="599.71" y="316.15" width="1.64" height="0.25" fill="#40b8b6" stroke="#1d5050" stroke-width="0.3" />
<rect x="568.65" y="316.05" width="1.64" height="0.35" fill="#3d86bb" stroke="#1e3d55" stroke-width="0.3" fill-opacity="0.9"/>
<rect x="570.28" y="315.89" width="1.64" height="0.51" fill="#3d86bb" stroke="#1e3d55" stroke-width="0.3" fill-opacity="0.9"/>
<rect x="571.92" y="315.73" width="1.64" height="0.67" fill="#3d86bb" stroke="#1e3d55" stroke-width="0.3" fill-opacity="0.9"/>
<rect x="573.55" y="315.56" width="1.64" height="0.84" fill="#3d86bb" stroke="#1e3d55" stroke-width="0.3" fill-opacity="0.9"/>
<rect x="575.19" y="315.40" width="1.64" height="1.00" fill="#3d86bb" stroke="#1e3d55" stroke-width="0.3" fill-opacity="0.9"/>
<rect x="576.82" y="315.24" width="1.64" height="1.16" fill="#3d86bb" stroke="#1e3d55" stroke-width="0.3" fill-opacity="0.9"/>
<rect x="578.46" y="314.82" width="1.64" height="1.58" fill="#3d86bb" stroke="#1e3d55" stroke-width="0.3" fill-opacity="0.9"/>
<rect x="580.09" y="314.33" width="1.64" height="2.07" fill="#3d86bb" stroke="#1e3d55" stroke-width="0.3" fill-opacity="0.9"/>
<rect x="581.73" y="313.84" width="1.64" height="2.56" fill="#3d86bb" stroke="#1e3d55" stroke-width="0.3" fill-opacity="0.9"/>
<rect x="583.36" y="313.21" width="1.64" height="3.19" fill="#3d86bb" stroke="#1e3d55" stroke-width="0.3" fill-opacity="0.9"/>
<rect x="585.00" y="311.49" width="1.64" height="4.91" fill="#3d86bb" stroke="#1e3d55" stroke-width="0.3" fill-opacity="0.9"/>
<rect x="586.63" y="309.76" width="1.64" height="6.64" fill="#3d86bb" stroke="#1e3d55" stroke-width="0.3" fill-opacity="0.9"/>
<rect x="588.27" y="308.04" width="1.64" height="8.36" fill="#3d86bb" stroke="#1e3d55" stroke-width="0.3" fill-opacity="0.9"/>
<rect x="589.90" y="305.45" width="1.64" height="10.95" fill="#3d86bb" stroke="#1e3d55" stroke-width="0.3" fill-opacity="0.9"/>
<rect x="591.54" y="302.46" width="1.64" height="13.94" fill="#3d86bb" stroke="#1e3d55" stroke-width="0.3" fill-opacity="0.9"/>
<rect x="593.17" y="299.48" width="1.64" height="16.92" fill="#3d86bb" stroke="#1e3d55" stroke-width="0.3" fill-opacity="0.9"/>
<rect x="594.81" y="296.71" width="1.64" height="19.69" fill="#3d86bb" stroke="#1e3d55" stroke-width="0.3" fill-opacity="0.9"/>
<rect x="596.44" y="293.97" width="1.64" height="22.43" fill="#3d86bb" stroke="#1e3d55" stroke-width="0.3" fill-opacity="0.9"/>
<rect x="598.08" y="291.14" width="1.64" height="25.26" fill="#3d86bb" stroke="#1e3d55" stroke-width="0.3" fill-opacity="0.9"/>
<rect x="599.71" y="286.81" width="1.64" height="29.59" fill="#3d86bb" stroke="#1e3d55" stroke-width="0.3" fill-opacity="0.9"/>
<rect x="601.35" y="282.65" width="1.64" height="33.75" fill="#3d86bb" stroke="#1e3d55" stroke-width="0.3" fill-opacity="0.9"/>
<rect x="602.98" y="278.59" width="1.64" height="37.81" fill="#3d86bb" stroke="#1e3d55" stroke-width="0.3" fill-opacity="0.9"/>
<rect x="604.62" y="274.69" width="1.64" height="41.71" fill="#3d86bb" stroke="#1e3d55" stroke-width="0.3" fill-opacity="0.9"/>
<rect x="606.25" y="270.50" width="1.64" height="45.90" fill="#3d86bb" stroke="#1e3d55" stroke-width="0.3" fill-opacity="0.9"/>
<rect x="607.89" y="265.65" width="1.64" height="50.75" fill="#3d86bb" stroke="#1e3d55" stroke-width="0.3" fill-opacity="0.9"/>
<rect x="609.52" y="260.51" width="1.64" height="55.89" fill="#3d86bb" stroke="#1e3d55" stroke-width="0.3" fill-opacity="0.9"/>
<rect x="611.16" y="255.03" width="1.64" height="61.37" fill="#3d86bb" stroke="#1e3d55" stroke-width="0.3" fill-opacity="0.9"/>
<rect x="612.79" y="249.84" width="1.64" height="66.56" fill="#3d86bb" stroke="#1e3d55" stroke-width="0.3" fill-opacity="0.9"/>
<rect x="614.43" y="248.59" width="1.64" height="67.81" fill="#3d86bb" stroke="#1e3d55" stroke-width="0.3" fill-opacity="0.9"/>
<rect x="616.06" y="248.07" width="1.64" height="68.33" fill="#3d86bb" stroke="#1e3d55" stroke-width="0.3" fill-opacity="0.9"/>
<rect x="617.70" y="248.15" width="1.64" height="68.25" fill="#3d86bb" stroke="#1e3d55" stroke-width="0.3" fill-opacity="0.9"/>
<rect x="619.33" y="248.75" width="1.64" height="67.65" fill="#3d86bb" stroke="#1e3d55" stroke-width="0.3" fill-opacity="0.9"/>
<rect x="620.97" y="249.89" width="1.64" height="66.51" fill="#3d86bb" stroke="#1e3d55" stroke-width="0.3" fill-opacity="0.9"/>
<rect x="622.60" y="251.52" width="1.64" height="64.88" fill="#3d86bb" stroke="#1e3d55" stroke-width="0.3" fill-opacity="0.9"/>
<rect x="624.24" y="253.42" width="1.64" height="62.98" fill="#3d86bb" stroke="#1e3d55" stroke-width="0.3" fill-opacity="0.9"/>
<rect x="625.87" y="257.83" width="1.64" height="58.57" fill="#3d86bb" stroke="#1e3d55" stroke-width="0.3" fill-opacity="0.9"/>
<rect x="627.51" y="261.01" width="1.64" height="55.39" fill="#3d86bb" stroke="#1e3d55" stroke-width="0.3" fill-opacity="0.9"/>
<rect x="629.14" y="263.63" width="1.64" height="52.77" fill="#3d86bb" stroke="#1e3d55" stroke-width="0.3" fill-opacity="0.9"/>
<rect x="630.78" y="266.63" width="1.64" height="49.77" fill="#3d86bb" stroke="#1e3d55" stroke-width="0.3" fill-opacity="0.9"/>
<rect x="632.41" y="270.27" width="1.64" height="46.13" fill="#3d86bb" stroke="#1e3d55" stroke-width="0.3" fill-opacity="0.9"/>
<rect x="634.05" y="274.17" width="1.64" height="42.23" fill="#3d86bb" stroke="#1e3d55" stroke-width="0.3" fill-opacity="0.9"/>
<rect x="635.68" y="278.36" width="1.64" height="38.04" fill="#3d86bb" stroke="#1e3d55" stroke-width="0.3" fill-opacity="0.9"/>
<rect x="637.32" y="282.48" width="1.64" height="33.92" fill="#3d86bb" stroke="#1e3d55" stroke-width="0.3" fill-opacity="0.9"/>
<rect x="638.95" y="285.79" width="1.64" height="30.61" fill="#3d86bb" stroke="#1e3d55" stroke-width="0.3" fill-opacity="0.9"/>
<rect x="640.59" y="289.10" width="1.64" height="27.30" fill="#3d86bb" stroke="#1e3d55" stroke-width="0.3" fill-opacity="0.9"/>
<rect x="642.22" y="291.89" width="1.64" height="24.51" fill="#3d86bb" stroke="#1e3d55" stroke-width="0.3" fill-opacity="0.9"/>
<rect x="643.86" y="294.52" width="1.64" height="21.88" fill="#3d86bb" stroke="#1e3d55" stroke-width="0.3" fill-opacity="0.9"/>
<rect x="645.49" y="296.71" width="1.64" height="19.69" fill="#3d86bb" stroke="#1e3d55" stroke-width="0.3" fill-opacity="0.9"/>
<rect x="647.13" y="298.35" width="1.64" height="18.05" fill="#3d86bb" stroke="#1e3d55" stroke-width="0.3" fill-opacity="0.9"/>
<rect x="648.76" y="299.98" width="1.64" height="16.42" fill="#3d86bb" stroke="#1e3d55" stroke-width="0.3" fill-opacity="0.9"/>
<rect x="650.40" y="301.33" width="1.64" height="15.07" fill="#3d86bb" stroke="#1e3d55" stroke-width="0.3" fill-opacity="0.9"/>
<rect x="652.03" y="302.52" width="1.64" height="13.88" fill="#3d86bb" stroke="#1e3d55" stroke-width="0.3" fill-opacity="0.9"/>
<rect x="653.67" y="303.70" width="1.64" height="12.70" fill="#3d86bb" stroke="#1e3d55" stroke-width="0.3" fill-opacity="0.9"/>
<rect x="655.30" y="304.76" width="1.64" height="11.64" fill="#3d86bb" stroke="#1e3d55" stroke-width="0.3" fill-opacity="0.9"/>
<rect x="656.94" y="305.56" width="1.64" height="10.84" fill="#3d86bb" stroke="#1e3d55" stroke-width="0.3" fill-opacity="0.9"/>
<rect x="658.57" y="306.37" width="1.64" height="10.03" fill="#3d86bb" stroke="#1e3d55" stroke-width="0.3" fill-opacity="0.9"/>
<rect x="660.21" y="307.17" width="1.64" height="9.23" fill="#3d86bb" stroke="#1e3d55" stroke-width="0.3" fill-opacity="0.9"/>
<rect x="661.84" y="307.86" width="1.64" height="8.54" fill="#3d86bb" stroke="#1e3d55" stroke-width="0.3" fill-opacity="0.9"/>
<rect x="663.48" y="308.46" width="1.64" height="7.94" fill="#3d86bb" stroke="#1e3d55" stroke-width="0.3" fill-opacity="0.9"/>
<rect x="665.11" y="309.07" width="1.64" height="7.33" fill="#3d86bb" stroke="#1e3d55" stroke-width="0.3" fill-opacity="0.9"/>
<rect x="666.75" y="309.68" width="1.64" height="6.72" fill="#3d86bb" stroke="#1e3d55" stroke-width="0.3" fill-opacity="0.9"/>
<rect x="668.38" y="310.23" width="1.64" height="6.17" fill="#3d86bb" stroke="#1e3d55" stroke-width="0.3" fill-opacity="0.9"/>
<rect x="670.02" y="310.76" width="1.64" height="5.64" fill="#3d86bb" stroke="#1e3d55" stroke-width="0.3" fill-opacity="0.9"/>
<rect x="671.65" y="311.30" width="1.64" height="5.10" fill="#3d86bb" stroke="#1e3d55" stroke-width="0.3" fill-opacity="0.9"/>
<rect x="673.29" y="311.82" width="1.64" height="4.58" fill="#3d86bb" stroke="#1e3d55" stroke-width="0.3" fill-opacity="0.9"/>
<rect x="674.92" y="312.12" width="1.64" height="4.28" fill="#3d86bb" stroke="#1e3d55" stroke-width="0.3" fill-opacity="0.9"/>
<rect x="519.40" y="178.60" width="157.00" height="137.80" fill="none" stroke="#333" stroke-width="1.1" />
<line x1="516.80" y1="316.40" x2="519.40" y2="316.40" stroke="#333" stroke-width="0.8" />
<text x="515.40" y="319.30" font-size="8.3" text-anchor="end" fill="#1c1c1c" font-weight="normal" font-style="normal" >0</text>
<line x1="517.90" y1="302.62" x2="519.40" y2="302.62" stroke="#333" stroke-width="0.8" />
<line x1="516.80" y1="288.84" x2="519.40" y2="288.84" stroke="#333" stroke-width="0.8" />
<text x="515.40" y="291.74" font-size="8.3" text-anchor="end" fill="#1c1c1c" font-weight="normal" font-style="normal" >1000</text>
<line x1="517.90" y1="275.06" x2="519.40" y2="275.06" stroke="#333" stroke-width="0.8" />
<line x1="516.80" y1="261.28" x2="519.40" y2="261.28" stroke="#333" stroke-width="0.8" />
<text x="515.40" y="264.18" font-size="8.3" text-anchor="end" fill="#1c1c1c" font-weight="normal" font-style="normal" >2000</text>
<line x1="517.90" y1="247.50" x2="519.40" y2="247.50" stroke="#333" stroke-width="0.8" />
<line x1="516.80" y1="233.72" x2="519.40" y2="233.72" stroke="#333" stroke-width="0.8" />
<text x="515.40" y="236.62" font-size="8.3" text-anchor="end" fill="#1c1c1c" font-weight="normal" font-style="normal" >3000</text>
<line x1="517.90" y1="219.94" x2="519.40" y2="219.94" stroke="#333" stroke-width="0.8" />
<line x1="516.80" y1="206.16" x2="519.40" y2="206.16" stroke="#333" stroke-width="0.8" />
<text x="515.40" y="209.06" font-size="8.3" text-anchor="end" fill="#1c1c1c" font-weight="normal" font-style="normal" >4000</text>
<line x1="517.90" y1="192.38" x2="519.40" y2="192.38" stroke="#333" stroke-width="0.8" />
<line x1="516.80" y1="178.60" x2="519.40" y2="178.60" stroke="#333" stroke-width="0.8" />
<line x1="519.40" y1="316.40" x2="519.40" y2="319.00" stroke="#333" stroke-width="0.8" />
<text x="519.40" y="326.60" font-size="8.3" text-anchor="middle" fill="#1c1c1c" font-weight="normal" font-style="normal" >300</text>
<line x1="532.48" y1="316.40" x2="532.48" y2="317.90" stroke="#333" stroke-width="0.8" />
<line x1="545.57" y1="316.40" x2="545.57" y2="319.00" stroke="#333" stroke-width="0.8" />
<text x="545.57" y="326.60" font-size="8.3" text-anchor="middle" fill="#1c1c1c" font-weight="normal" font-style="normal" >350</text>
<line x1="558.65" y1="316.40" x2="558.65" y2="317.90" stroke="#333" stroke-width="0.8" />
<line x1="571.73" y1="316.40" x2="571.73" y2="319.00" stroke="#333" stroke-width="0.8" />
<text x="571.73" y="326.60" font-size="8.3" text-anchor="middle" fill="#1c1c1c" font-weight="normal" font-style="normal" >400</text>
<line x1="584.82" y1="316.40" x2="584.82" y2="317.90" stroke="#333" stroke-width="0.8" />
<line x1="597.90" y1="316.40" x2="597.90" y2="319.00" stroke="#333" stroke-width="0.8" />
<text x="597.90" y="326.60" font-size="8.3" text-anchor="middle" fill="#1c1c1c" font-weight="normal" font-style="normal" >450</text>
<line x1="610.98" y1="316.40" x2="610.98" y2="317.90" stroke="#333" stroke-width="0.8" />
<line x1="624.07" y1="316.40" x2="624.07" y2="319.00" stroke="#333" stroke-width="0.8" />
<text x="624.07" y="326.60" font-size="8.3" text-anchor="middle" fill="#1c1c1c" font-weight="normal" font-style="normal" >500</text>
<line x1="637.15" y1="316.40" x2="637.15" y2="317.90" stroke="#333" stroke-width="0.8" />
<line x1="650.23" y1="316.40" x2="650.23" y2="319.00" stroke="#333" stroke-width="0.8" />
<text x="650.23" y="326.60" font-size="8.3" text-anchor="middle" fill="#1c1c1c" font-weight="normal" font-style="normal" >550</text>
<line x1="663.32" y1="316.40" x2="663.32" y2="317.90" stroke="#333" stroke-width="0.8" />
<line x1="676.40" y1="316.40" x2="676.40" y2="319.00" stroke="#333" stroke-width="0.8" />
<text x="676.40" y="326.60" font-size="8.3" text-anchor="middle" fill="#1c1c1c" font-weight="normal" font-style="normal" >600</text>
<text transform="translate(488.60,248.00) rotate(-90)" font-size="9.2" text-anchor="middle" fill="#1c1c1c" >Pixels</text>
<text x="584" y="339.4" font-size="9.5" fill="#1c1c1c"><tspan font-style="italic">T</tspan><tspan font-size="5.8" dy="2.4">m</tspan><tspan dy="-2.4"> (ps)</tspan></text>
<rect x="620.40" y="191.40" width="9.20" height="4.60" fill="#2cc6c2" stroke="#222" stroke-width="0.6" />
<rect x="620.40" y="203.60" width="9.20" height="4.60" fill="#1f6fb5" stroke="#222" stroke-width="0.6" />
<text x="633.00" y="195.80" font-size="7.4" text-anchor="start" fill="#1c1c1c" font-weight="normal" font-style="normal" >Film</text>
<text x="633.00" y="208.00" font-size="7.4" text-anchor="start" fill="#1c1c1c" font-weight="normal" font-style="normal" >Spherulite</text>
<text x="0.00" y="367.60" font-size="13.4" text-anchor="start" fill="#0a0a0a" font-weight="bold" font-style="normal" >g</text>
<defs><linearGradient id="gg" x1="0" y1="1" x2="1" y2="0"><stop offset="0" stop-color="#1fa8d6"/><stop offset="0.5" stop-color="#1cb1cc"/><stop offset="1" stop-color="#1fb8bd"/></linearGradient></defs>
<rect x="10.00" y="366.60" width="135.60" height="134.60" fill="url(#gg)" stroke="none" stroke-width="0.8" />
<text x="21.20" y="388.40" font-size="8.8" text-anchor="start" fill="#fff" font-weight="bold" font-style="normal" >Film</text>
<rect x="104.40" y="491.60" width="26.60" height="2.00" fill="#fff" stroke="none" stroke-width="0.8" />
<text x="106.8" y="488.2" font-size="7.9" fill="#fff">10 μm</text>
<defs><linearGradient id="cb" x1="0" y1="1" x2="0" y2="0"><stop offset="0.0" stop-color="#3e26a8"/><stop offset="0.0625" stop-color="#463ad4"/><stop offset="0.125" stop-color="#4756f0"/><stop offset="0.1875" stop-color="#3871fa"/><stop offset="0.25" stop-color="#268cf0"/><stop offset="0.3125" stop-color="#1ea0e1"/><stop offset="0.375" stop-color="#0eb2d2"/><stop offset="0.4375" stop-color="#10beb9"/><stop offset="0.5" stop-color="#32c59b"/><stop offset="0.5625" stop-color="#64c876"/><stop offset="0.625" stop-color="#96c455"/><stop offset="0.6875" stop-color="#c3be3c"/><stop offset="0.75" stop-color="#ebba30"/><stop offset="0.8125" stop-color="#fcc038"/><stop offset="0.875" stop-color="#fad22d"/><stop offset="0.9375" stop-color="#f5e81e"/><stop offset="1.0" stop-color="#f9fb0e"/></linearGradient></defs>
<rect x="149.60" y="373.40" width="9.80" height="123.60" fill="url(#cb)" stroke="#333" stroke-width="0.6" />
<line x1="157.80" y1="373.40" x2="159.40" y2="373.40" stroke="#333" stroke-width="0.6" />
<text x="160.60" y="376.20" font-size="7.9" text-anchor="start" fill="#1c1c1c" font-weight="normal" font-style="normal" >0.5</text>
<line x1="157.80" y1="388.85" x2="159.40" y2="388.85" stroke="#333" stroke-width="0.6" />
<text x="160.60" y="391.65" font-size="7.9" text-anchor="start" fill="#1c1c1c" font-weight="normal" font-style="normal" >0.4</text>
<line x1="157.80" y1="404.30" x2="159.40" y2="404.30" stroke="#333" stroke-width="0.6" />
<text x="160.60" y="407.10" font-size="7.9" text-anchor="start" fill="#1c1c1c" font-weight="normal" font-style="normal" >0.3</text>
<line x1="157.80" y1="419.75" x2="159.40" y2="419.75" stroke="#333" stroke-width="0.6" />
<text x="160.60" y="422.55" font-size="7.9" text-anchor="start" fill="#1c1c1c" font-weight="normal" font-style="normal" >0.2</text>
<line x1="157.80" y1="435.20" x2="159.40" y2="435.20" stroke="#333" stroke-width="0.6" />
<text x="160.60" y="438.00" font-size="7.9" text-anchor="start" fill="#1c1c1c" font-weight="normal" font-style="normal" >0.1</text>
<line x1="157.80" y1="450.65" x2="159.40" y2="450.65" stroke="#333" stroke-width="0.6" />
<text x="160.60" y="453.45" font-size="7.9" text-anchor="start" fill="#1c1c1c" font-weight="normal" font-style="normal" >0</text>
<line x1="157.80" y1="466.10" x2="159.40" y2="466.10" stroke="#333" stroke-width="0.6" />
<text x="160.60" y="468.90" font-size="7.9" text-anchor="start" fill="#1c1c1c" font-weight="normal" font-style="normal" >-0.1</text>
<line x1="157.80" y1="481.55" x2="159.40" y2="481.55" stroke="#333" stroke-width="0.6" />
<text x="160.60" y="484.35" font-size="7.9" text-anchor="start" fill="#1c1c1c" font-weight="normal" font-style="normal" >-0.2</text>
<line x1="157.80" y1="497.00" x2="159.40" y2="497.00" stroke="#333" stroke-width="0.6" />
<text x="160.60" y="499.80" font-size="7.9" text-anchor="start" fill="#1c1c1c" font-weight="normal" font-style="normal" >-0.3</text>
<text x="180.40" y="366.60" font-size="13.4" text-anchor="start" fill="#0a0a0a" font-weight="bold" font-style="normal" >h</text>
<defs><clipPath id="hclip"><rect x="191.4" y="366.6" width="135.2" height="133.4"/></clipPath><filter id="hblur" x="-5%" y="-5%" width="110%" height="110%" color-interpolation-filters="sRGB"><feGaussianBlur in="SourceGraphic" stdDeviation="1.7" result="bl"/><feTurbulence type="fractalNoise" baseFrequency="0.35" numOctaves="2" seed="4" result="tn"/><feColorMatrix in="tn" type="matrix" values="0 0 0 0 0.5  0 0 0 0 0.5  0 0 0 0 0.5  0 0 0 0 1" result="flat"/><feColorMatrix in="tn" type="matrix" values="1 0 0 0 0  1 0 0 0 0  1 0 0 0 0  0 0 0 0 1" result="gn"/><feComposite in="bl" in2="gn" operator="arithmetic" k1="0" k2="1" k3="0.18" k4="-0.09" result="mix"/><feComponentTransfer in="mix"><feFuncR type="table" tableValues="0.2431 0.2431 0.2431 0.2471 0.2471 0.2471 0.2510 0.2549 0.2549 0.2588 0.2627 0.2627 0.2706 0.2745 0.2745 0.2784 0.2784 0.2667 0.2549 0.2392 0.2275 0.2157 0.1922 0.1569 0.1373 0.1216 0.0941 0.0627 0.0588 0.0627 0.1255 0.1961 0.3020 0.4078 0.5020 0.5725 0.6392 0.7059 0.7725 0.8314 0.8902 0.9176 0.9333 0.9451 0.9569 0.9647 0.9765 0.9882 0.9882 0.9843 0.9843 0.9843 0.9843 0.9843 0.9843 0.9843 0.9804 0.9804 0.9804 0.9804 0.9804 0.9765 0.9765 0.9725 0.9725"/><feFuncG type="table" tableValues="0.1490 0.1529 0.1529 0.1569 0.1569 0.1647 0.1686 0.1765 0.1843 0.1882 0.1961 0.2039 0.2196 0.2471 0.2784 0.3059 0.3373 0.3608 0.3843 0.4039 0.4275 0.4510 0.4863 0.5373 0.5804 0.6196 0.6549 0.6902 0.7176 0.7412 0.7569 0.7725 0.7804 0.7843 0.7765 0.7686 0.7608 0.7529 0.7451 0.7373 0.7333 0.7294 0.7333 0.7373 0.7412 0.7451 0.7490 0.7529 0.7686 0.7725 0.7765 0.7843 0.7882 0.7922 0.8000 0.8039 0.8078 0.8157 0.8196 0.8275 0.8314 0.8392 0.8431 0.8510 0.8588"/><feFuncB type="table" tableValues="0.6588 0.6627 0.6667 0.6706 0.6745 0.6902 0.7059 0.7176 0.7333 0.7490 0.7608 0.7765 0.8157 0.8510 0.8824 0.9098 0.9412 0.9490 0.9569 0.9647 0.9765 0.9765 0.9647 0.9451 0.9176 0.8863 0.8588 0.8314 0.7843 0.7333 0.6706 0.6078 0.5294 0.4510 0.3922 0.3412 0.3059 0.2667 0.2314 0.2157 0.1961 0.1882 0.1922 0.2000 0.2039 0.2078 0.2157 0.2196 0.2118 0.2078 0.2039 0.2000 0.1961 0.1961 0.1922 0.1882 0.1843 0.1804 0.1804 0.1765 0.1725 0.1647 0.1608 0.1569 0.1529"/></feComponentTransfer></filter></defs>
<g clip-path="url(#hclip)"><g filter="url(#hblur)">
<rect x="185.40" y="360.60" width="147.20" height="145.40" fill="#505050" stroke="none" stroke-width="0.8" />
<rect x="185.00" y="360.00" width="11.93" height="11.93" fill="#505050" stroke="none" stroke-width="0.8" />
<rect x="196.62" y="360.00" width="5.92" height="11.93" fill="#505050" stroke="none" stroke-width="0.8" />
<rect x="202.25" y="360.00" width="5.92" height="11.93" fill="#393939" stroke="none" stroke-width="0.8" />
<rect x="207.88" y="360.00" width="5.92" height="11.93" fill="#505050" stroke="none" stroke-width="0.8" />
<rect x="213.50" y="360.00" width="5.92" height="11.93" fill="#868686" stroke="none" stroke-width="0.8" />
<rect x="219.12" y="360.00" width="5.92" height="11.93" fill="#868686" stroke="none" stroke-width="0.8" />
<rect x="224.75" y="360.00" width="5.92" height="11.93" fill="#696969" stroke="none" stroke-width="0.8" />
<rect x="230.38" y="360.00" width="5.92" height="11.93" fill="#393939" stroke="none" stroke-width="0.8" />
<rect x="236.00" y="360.00" width="5.92" height="11.93" fill="#393939" stroke="none" stroke-width="0.8" />
<rect x="241.62" y="360.00" width="5.92" height="11.93" fill="#393939" stroke="none" stroke-width="0.8" />
<rect x="247.25" y="360.00" width="5.92" height="11.93" fill="#202020" stroke="none" stroke-width="0.8" />
<rect x="252.88" y="360.00" width="5.92" height="11.93" fill="#202020" stroke="none" stroke-width="0.8" />
<rect x="258.50" y="360.00" width="5.92" height="11.93" fill="#393939" stroke="none" stroke-width="0.8" />
<rect x="264.12" y="360.00" width="5.92" height="11.93" fill="#505050" stroke="none" stroke-width="0.8" />
<rect x="269.75" y="360.00" width="5.92" height="11.93" fill="#696969" stroke="none" stroke-width="0.8" />
<rect x="275.38" y="360.00" width="5.92" height="11.93" fill="#393939" stroke="none" stroke-width="0.8" />
<rect x="281.00" y="360.00" width="5.92" height="11.93" fill="#505050" stroke="none" stroke-width="0.8" />
<rect x="286.62" y="360.00" width="5.92" height="11.93" fill="#202020" stroke="none" stroke-width="0.8" />
<rect x="292.25" y="360.00" width="5.92" height="11.93" fill="#202020" stroke="none" stroke-width="0.8" />
<rect x="297.88" y="360.00" width="5.92" height="11.93" fill="#393939" stroke="none" stroke-width="0.8" />
<rect x="303.50" y="360.00" width="5.92" height="11.93" fill="#868686" stroke="none" stroke-width="0.8" />
<rect x="309.12" y="360.00" width="5.92" height="11.93" fill="#868686" stroke="none" stroke-width="0.8" />
<rect x="314.75" y="360.00" width="5.92" height="11.93" fill="#696969" stroke="none" stroke-width="0.8" />
<rect x="320.38" y="360.00" width="11.93" height="11.93" fill="#505050" stroke="none" stroke-width="0.8" />
<rect x="185.00" y="371.62" width="11.93" height="5.92" fill="#a6a6a6" stroke="none" stroke-width="0.8" />
<rect x="196.62" y="371.62" width="5.92" height="5.92" fill="#cfcfcf" stroke="none" stroke-width="0.8" />
<rect x="202.25" y="371.62" width="5.92" height="5.92" fill="#a6a6a6" stroke="none" stroke-width="0.8" />
<rect x="207.88" y="371.62" width="5.92" height="5.92" fill="#505050" stroke="none" stroke-width="0.8" />
<rect x="213.50" y="371.62" width="5.92" height="5.92" fill="#cfcfcf" stroke="none" stroke-width="0.8" />
<rect x="219.12" y="371.62" width="5.92" height="5.92" fill="#cfcfcf" stroke="none" stroke-width="0.8" />
<rect x="224.75" y="371.62" width="5.92" height="5.92" fill="#868686" stroke="none" stroke-width="0.8" />
<rect x="230.38" y="371.62" width="5.92" height="5.92" fill="#393939" stroke="none" stroke-width="0.8" />
<rect x="236.00" y="371.62" width="5.92" height="5.92" fill="#696969" stroke="none" stroke-width="0.8" />
<rect x="241.62" y="371.62" width="5.92" height="5.92" fill="#505050" stroke="none" stroke-width="0.8" />
<rect x="247.25" y="371.62" width="5.92" height="5.92" fill="#060606" stroke="none" stroke-width="0.8" />
<rect x="252.88" y="371.62" width="5.92" height="5.92" fill="#202020" stroke="none" stroke-width="0.8" />
<rect x="258.50" y="371.62" width="5.92" height="5.92" fill="#505050" stroke="none" stroke-width="0.8" />
<rect x="264.12" y="371.62" width="5.92" height="5.92" fill="#868686" stroke="none" stroke-width="0.8" />
<rect x="269.75" y="371.62" width="5.92" height="5.92" fill="#868686" stroke="none" stroke-width="0.8" />
<rect x="275.38" y="371.62" width="5.92" height="5.92" fill="#505050" stroke="none" stroke-width="0.8" />
<rect x="281.00" y="371.62" width="5.92" height="5.92" fill="#393939" stroke="none" stroke-width="0.8" />
<rect x="286.62" y="371.62" width="5.92" height="5.92" fill="#060606" stroke="none" stroke-width="0.8" />
<rect x="292.25" y="371.62" width="5.92" height="5.92" fill="#202020" stroke="none" stroke-width="0.8" />
<rect x="297.88" y="371.62" width="5.92" height="5.92" fill="#060606" stroke="none" stroke-width="0.8" />
<rect x="303.50" y="371.62" width="5.92" height="5.92" fill="#393939" stroke="none" stroke-width="0.8" />
<rect x="309.12" y="371.62" width="5.92" height="5.92" fill="#505050" stroke="none" stroke-width="0.8" />
<rect x="314.75" y="371.62" width="5.92" height="5.92" fill="#393939" stroke="none" stroke-width="0.8" />
<rect x="320.38" y="371.62" width="11.93" height="5.92" fill="#202020" stroke="none" stroke-width="0.8" />
<rect x="185.00" y="377.25" width="11.93" height="5.92" fill="#696969" stroke="none" stroke-width="0.8" />
<rect x="196.62" y="377.25" width="5.92" height="5.92" fill="#696969" stroke="none" stroke-width="0.8" />
<rect x="202.25" y="377.25" width="5.92" height="5.92" fill="#505050" stroke="none" stroke-width="0.8" />
<rect x="207.88" y="377.25" width="5.92" height="5.92" fill="#202020" stroke="none" stroke-width="0.8" />
<rect x="213.50" y="377.25" width="5.92" height="5.92" fill="#868686" stroke="none" stroke-width="0.8" />
<rect x="219.12" y="377.25" width="5.92" height="5.92" fill="#696969" stroke="none" stroke-width="0.8" />
<rect x="224.75" y="377.25" width="5.92" height="5.92" fill="#505050" stroke="none" stroke-width="0.8" />
<rect x="230.38" y="377.25" width="5.92" height="5.92" fill="#393939" stroke="none" stroke-width="0.8" />
<rect x="236.00" y="377.25" width="5.92" height="5.92" fill="#868686" stroke="none" stroke-width="0.8" />
<rect x="241.62" y="377.25" width="5.92" height="5.92" fill="#696969" stroke="none" stroke-width="0.8" />
<rect x="247.25" y="377.25" width="5.92" height="5.92" fill="#060606" stroke="none" stroke-width="0.8" />
<rect x="252.88" y="377.25" width="5.92" height="5.92" fill="#202020" stroke="none" stroke-width="0.8" />
<rect x="258.50" y="377.25" width="5.92" height="5.92" fill="#696969" stroke="none" stroke-width="0.8" />
<rect x="264.12" y="377.25" width="5.92" height="5.92" fill="#a6a6a6" stroke="none" stroke-width="0.8" />
<rect x="269.75" y="377.25" width="5.92" height="5.92" fill="#868686" stroke="none" stroke-width="0.8" />
<rect x="275.38" y="377.25" width="5.92" height="5.92" fill="#505050" stroke="none" stroke-width="0.8" />
<rect x="281.00" y="377.25" width="5.92" height="5.92" fill="#393939" stroke="none" stroke-width="0.8" />
<rect x="286.62" y="377.25" width="5.92" height="5.92" fill="#060606" stroke="none" stroke-width="0.8" />
<rect x="292.25" y="377.25" width="5.92" height="5.92" fill="#060606" stroke="none" stroke-width="0.8" />
<rect x="297.88" y="377.25" width="5.92" height="5.92" fill="#393939" stroke="none" stroke-width="0.8" />
<rect x="303.50" y="377.25" width="5.92" height="5.92" fill="#505050" stroke="none" stroke-width="0.8" />
<rect x="309.12" y="377.25" width="5.92" height="5.92" fill="#393939" stroke="none" stroke-width="0.8" />
<rect x="314.75" y="377.25" width="5.92" height="5.92" fill="#202020" stroke="none" stroke-width="0.8" />
<rect x="320.38" y="377.25" width="11.93" height="5.92" fill="#202020" stroke="none" stroke-width="0.8" />
<rect x="185.00" y="382.88" width="11.93" height="5.92" fill="#868686" stroke="none" stroke-width="0.8" />
<rect x="196.62" y="382.88" width="5.92" height="5.92" fill="#a6a6a6" stroke="none" stroke-width="0.8" />
<rect x="202.25" y="382.88" width="5.92" height="5.92" fill="#868686" stroke="none" stroke-width="0.8" />
<rect x="207.88" y="382.88" width="5.92" height="5.92" fill="#868686" stroke="none" stroke-width="0.8" />
<rect x="213.50" y="382.88" width="5.92" height="5.92" fill="#505050" stroke="none" stroke-width="0.8" />
<rect x="219.12" y="382.88" width="5.92" height="5.92" fill="#505050" stroke="none" stroke-width="0.8" />
<rect x="224.75" y="382.88" width="5.92" height="5.92" fill="#393939" stroke="none" stroke-width="0.8" />
<rect x="230.38" y="382.88" width="5.92" height="5.92" fill="#393939" stroke="none" stroke-width="0.8" />
<rect x="236.00" y="382.88" width="5.92" height="5.92" fill="#696969" stroke="none" stroke-width="0.8" />
<rect x="241.62" y="382.88" width="5.92" height="5.92" fill="#696969" stroke="none" stroke-width="0.8" />
<rect x="247.25" y="382.88" width="5.92" height="5.92" fill="#060606" stroke="none" stroke-width="0.8" />
<rect x="252.88" y="382.88" width="5.92" height="5.92" fill="#393939" stroke="none" stroke-width="0.8" />
<rect x="258.50" y="382.88" width="5.92" height="5.92" fill="#505050" stroke="none" stroke-width="0.8" />
<rect x="264.12" y="382.88" width="5.92" height="5.92" fill="#868686" stroke="none" stroke-width="0.8" />
<rect x="269.75" y="382.88" width="5.92" height="5.92" fill="#868686" stroke="none" stroke-width="0.8" />
<rect x="275.38" y="382.88" width="5.92" height="5.92" fill="#696969" stroke="none" stroke-width="0.8" />
<rect x="281.00" y="382.88" width="5.92" height="5.92" fill="#505050" stroke="none" stroke-width="0.8" />
<rect x="286.62" y="382.88" width="5.92" height="5.92" fill="#060606" stroke="none" stroke-width="0.8" />
<rect x="292.25" y="382.88" width="5.92" height="5.92" fill="#393939" stroke="none" stroke-width="0.8" />
<rect x="297.88" y="382.88" width="5.92" height="5.92" fill="#696969" stroke="none" stroke-width="0.8" />
<rect x="303.50" y="382.88" width="5.92" height="5.92" fill="#868686" stroke="none" stroke-width="0.8" />
<rect x="309.12" y="382.88" width="5.92" height="5.92" fill="#868686" stroke="none" stroke-width="0.8" />
<rect x="314.75" y="382.88" width="5.92" height="5.92" fill="#393939" stroke="none" stroke-width="0.8" />
<rect x="320.38" y="382.88" width="11.93" height="5.92" fill="#393939" stroke="none" stroke-width="0.8" />
<rect x="185.00" y="388.50" width="11.93" height="5.92" fill="#505050" stroke="none" stroke-width="0.8" />
<rect x="196.62" y="388.50" width="5.92" height="5.92" fill="#696969" stroke="none" stroke-width="0.8" />
<rect x="202.25" y="388.50" width="5.92" height="5.92" fill="#868686" stroke="none" stroke-width="0.8" />
<rect x="207.88" y="388.50" width="5.92" height="5.92" fill="#868686" stroke="none" stroke-width="0.8" />
<rect x="213.50" y="388.50" width="5.92" height="5.92" fill="#868686" stroke="none" stroke-width="0.8" />
<rect x="219.12" y="388.50" width="5.92" height="5.92" fill="#696969" stroke="none" stroke-width="0.8" />
<rect x="224.75" y="388.50" width="5.92" height="5.92" fill="#505050" stroke="none" stroke-width="0.8" />
<rect x="230.38" y="388.50" width="5.92" height="5.92" fill="#393939" stroke="none" stroke-width="0.8" />
<rect x="236.00" y="388.50" width="5.92" height="5.92" fill="#868686" stroke="none" stroke-width="0.8" />
<rect x="241.62" y="388.50" width="5.92" height="5.92" fill="#696969" stroke="none" stroke-width="0.8" />
<rect x="247.25" y="388.50" width="5.92" height="5.92" fill="#060606" stroke="none" stroke-width="0.8" />
<rect x="252.88" y="388.50" width="5.92" height="5.92" fill="#393939" stroke="none" stroke-width="0.8" />
<rect x="258.50" y="388.50" width="5.92" height="5.92" fill="#868686" stroke="none" stroke-width="0.8" />
<rect x="264.12" y="388.50" width="5.92" height="5.92" fill="#868686" stroke="none" stroke-width="0.8" />
<rect x="269.75" y="388.50" width="5.92" height="5.92" fill="#868686" stroke="none" stroke-width="0.8" />
<rect x="275.38" y="388.50" width="5.92" height="5.92" fill="#505050" stroke="none" stroke-width="0.8" />
<rect x="281.00" y="388.50" width="5.92" height="5.92" fill="#505050" stroke="none" stroke-width="0.8" />
<rect x="286.62" y="388.50" width="5.92" height="5.92" fill="#060606" stroke="none" stroke-width="0.8" />
<rect x="292.25" y="388.50" width="5.92" height="5.92" fill="#393939" stroke="none" stroke-width="0.8" />
<rect x="297.88" y="388.50" width="5.92" height="5.92" fill="#202020" stroke="none" stroke-width="0.8" />
<rect x="303.50" y="388.50" width="5.92" height="5.92" fill="#696969" stroke="none" stroke-width="0.8" />
<rect x="309.12" y="388.50" width="5.92" height="5.92" fill="#868686" stroke="none" stroke-width="0.8" />
<rect x="314.75" y="388.50" width="5.92" height="5.92" fill="#505050" stroke="none" stroke-width="0.8" />
<rect x="320.38" y="388.50" width="11.93" height="5.92" fill="#696969" stroke="none" stroke-width="0.8" />
<rect x="185.00" y="394.12" width="11.93" height="5.92" fill="#202020" stroke="none" stroke-width="0.8" />
<rect x="196.62" y="394.12" width="5.92" height="5.92" fill="#393939" stroke="none" stroke-width="0.8" />
<rect x="202.25" y="394.12" width="5.92" height="5.92" fill="#505050" stroke="none" stroke-width="0.8" />
<rect x="207.88" y="394.12" width="5.92" height="5.92" fill="#868686" stroke="none" stroke-width="0.8" />
<rect x="213.50" y="394.12" width="5.92" height="5.92" fill="#a6a6a6" stroke="none" stroke-width="0.8" />
<rect x="219.12" y="394.12" width="5.92" height="5.92" fill="#868686" stroke="none" stroke-width="0.8" />
<rect x="224.75" y="394.12" width="5.92" height="5.92" fill="#696969" stroke="none" stroke-width="0.8" />
<rect x="230.38" y="394.12" width="5.92" height="5.92" fill="#505050" stroke="none" stroke-width="0.8" />
<rect x="236.00" y="394.12" width="5.92" height="5.92" fill="#505050" stroke="none" stroke-width="0.8" />
<rect x="241.62" y="394.12" width="5.92" height="5.92" fill="#505050" stroke="none" stroke-width="0.8" />
<rect x="247.25" y="394.12" width="5.92" height="5.92" fill="#060606" stroke="none" stroke-width="0.8" />
<rect x="252.88" y="394.12" width="5.92" height="5.92" fill="#393939" stroke="none" stroke-width="0.8" />
<rect x="258.50" y="394.12" width="5.92" height="5.92" fill="#a6a6a6" stroke="none" stroke-width="0.8" />
<rect x="264.12" y="394.12" width="5.92" height="5.92" fill="#cfcfcf" stroke="none" stroke-width="0.8" />
<rect x="269.75" y="394.12" width="5.92" height="5.92" fill="#a6a6a6" stroke="none" stroke-width="0.8" />
<rect x="275.38" y="394.12" width="5.92" height="5.92" fill="#868686" stroke="none" stroke-width="0.8" />
<rect x="281.00" y="394.12" width="5.92" height="5.92" fill="#696969" stroke="none" stroke-width="0.8" />
<rect x="286.62" y="394.12" width="5.92" height="5.92" fill="#060606" stroke="none" stroke-width="0.8" />
<rect x="292.25" y="394.12" width="5.92" height="5.92" fill="#202020" stroke="none" stroke-width="0.8" />
<rect x="297.88" y="394.12" width="5.92" height="5.92" fill="#202020" stroke="none" stroke-width="0.8" />
<rect x="303.50" y="394.12" width="5.92" height="5.92" fill="#505050" stroke="none" stroke-width="0.8" />
<rect x="309.12" y="394.12" width="5.92" height="5.92" fill="#696969" stroke="none" stroke-width="0.8" />
<rect x="314.75" y="394.12" width="5.92" height="5.92" fill="#393939" stroke="none" stroke-width="0.8" />
<rect x="320.38" y="394.12" width="11.93" height="5.92" fill="#696969" stroke="none" stroke-width="0.8" />
<rect x="185.00" y="399.75" width="11.93" height="5.92" fill="#060606" stroke="none" stroke-width="0.8" />
<rect x="196.62" y="399.75" width="5.92" height="5.92" fill="#393939" stroke="none" stroke-width="0.8" />
<rect x="202.25" y="399.75" width="5.92" height="5.92" fill="#393939" stroke="none" stroke-width="0.8" />
<rect x="207.88" y="399.75" width="5.92" height="5.92" fill="#505050" stroke="none" stroke-width="0.8" />
<rect x="213.50" y="399.75" width="5.92" height="5.92" fill="#696969" stroke="none" stroke-width="0.8" />
<rect x="219.12" y="399.75" width="5.92" height="5.92" fill="#868686" stroke="none" stroke-width="0.8" />
<rect x="224.75" y="399.75" width="5.92" height="5.92" fill="#868686" stroke="none" stroke-width="0.8" />
<rect x="230.38" y="399.75" width="5.92" height="5.92" fill="#696969" stroke="none" stroke-width="0.8" />
<rect x="236.00" y="399.75" width="5.92" height="5.92" fill="#393939" stroke="none" stroke-width="0.8" />
<rect x="241.62" y="399.75" width="5.92" height="5.92" fill="#393939" stroke="none" stroke-width="0.8" />
<rect x="247.25" y="399.75" width="5.92" height="5.92" fill="#202020" stroke="none" stroke-width="0.8" />
<rect x="252.88" y="399.75" width="5.92" height="5.92" fill="#393939" stroke="none" stroke-width="0.8" />
<rect x="258.50" y="399.75" width="5.92" height="5.92" fill="#696969" stroke="none" stroke-width="0.8" />
<rect x="264.12" y="399.75" width="5.92" height="5.92" fill="#868686" stroke="none" stroke-width="0.8" />
<rect x="269.75" y="399.75" width="5.92" height="5.92" fill="#cfcfcf" stroke="none" stroke-width="0.8" />
<rect x="275.38" y="399.75" width="5.92" height="5.92" fill="#cfcfcf" stroke="none" stroke-width="0.8" />
<rect x="281.00" y="399.75" width="5.92" height="5.92" fill="#a6a6a6" stroke="none" stroke-width="0.8" />
<rect x="286.62" y="399.75" width="5.92" height="5.92" fill="#202020" stroke="none" stroke-width="0.8" />
<rect x="292.25" y="399.75" width="5.92" height="5.92" fill="#393939" stroke="none" stroke-width="0.8" />
<rect x="297.88" y="399.75" width="5.92" height="5.92" fill="#505050" stroke="none" stroke-width="0.8" />
<rect x="303.50" y="399.75" width="5.92" height="5.92" fill="#202020" stroke="none" stroke-width="0.8" />
<rect x="309.12" y="399.75" width="5.92" height="5.92" fill="#393939" stroke="none" stroke-width="0.8" />
<rect x="314.75" y="399.75" width="5.92" height="5.92" fill="#202020" stroke="none" stroke-width="0.8" />
<rect x="320.38" y="399.75" width="11.93" height="5.92" fill="#505050" stroke="none" stroke-width="0.8" />
<rect x="185.00" y="405.38" width="11.93" height="5.92" fill="#060606" stroke="none" stroke-width="0.8" />
<rect x="196.62" y="405.38" width="5.92" height="5.92" fill="#202020" stroke="none" stroke-width="0.8" />
<rect x="202.25" y="405.38" width="5.92" height="5.92" fill="#393939" stroke="none" stroke-width="0.8" />
<rect x="207.88" y="405.38" width="5.92" height="5.92" fill="#393939" stroke="none" stroke-width="0.8" />
<rect x="213.50" y="405.38" width="5.92" height="5.92" fill="#505050" stroke="none" stroke-width="0.8" />
<rect x="219.12" y="405.38" width="5.92" height="5.92" fill="#505050" stroke="none" stroke-width="0.8" />
<rect x="224.75" y="405.38" width="5.92" height="5.92" fill="#696969" stroke="none" stroke-width="0.8" />
<rect x="230.38" y="405.38" width="5.92" height="5.92" fill="#505050" stroke="none" stroke-width="0.8" />
<rect x="236.00" y="405.38" width="5.92" height="5.92" fill="#393939" stroke="none" stroke-width="0.8" />
<rect x="241.62" y="405.38" width="5.92" height="5.92" fill="#393939" stroke="none" stroke-width="0.8" />
<rect x="247.25" y="405.38" width="5.92" height="5.92" fill="#393939" stroke="none" stroke-width="0.8" />
<rect x="252.88" y="405.38" width="5.92" height="5.92" fill="#393939" stroke="none" stroke-width="0.8" />
<rect x="258.50" y="405.38" width="5.92" height="5.92" fill="#505050" stroke="none" stroke-width="0.8" />
<rect x="264.12" y="405.38" width="5.92" height="5.92" fill="#696969" stroke="none" stroke-width="0.8" />
<rect x="269.75" y="405.38" width="5.92" height="5.92" fill="#696969" stroke="none" stroke-width="0.8" />
<rect x="275.38" y="405.38" width="5.92" height="5.92" fill="#868686" stroke="none" stroke-width="0.8" />
<rect x="281.00" y="405.38" width="5.92" height="5.92" fill="#868686" stroke="none" stroke-width="0.8" />
<rect x="286.62" y="405.38" width="5.92" height="5.92" fill="#393939" stroke="none" stroke-width="0.8" />
<rect x="292.25" y="405.38" width="5.92" height="5.92" fill="#696969" stroke="none" stroke-width="0.8" />
<rect x="297.88" y="405.38" width="5.92" height="5.92" fill="#868686" stroke="none" stroke-width="0.8" />
<rect x="303.50" y="405.38" width="5.92" height="5.92" fill="#505050" stroke="none" stroke-width="0.8" />
<rect x="309.12" y="405.38" width="5.92" height="5.92" fill="#393939" stroke="none" stroke-width="0.8" />
<rect x="314.75" y="405.38" width="5.92" height="5.92" fill="#202020" stroke="none" stroke-width="0.8" />
<rect x="320.38" y="405.38" width="11.93" height="5.92" fill="#393939" stroke="none" stroke-width="0.8" />
<rect x="185.00" y="411.00" width="11.93" height="5.92" fill="#202020" stroke="none" stroke-width="0.8" />
<rect x="196.62" y="411.00" width="5.92" height="5.92" fill="#060606" stroke="none" stroke-width="0.8" />
<rect x="202.25" y="411.00" width="5.92" height="5.92" fill="#393939" stroke="none" stroke-width="0.8" />
<rect x="207.88" y="411.00" width="5.92" height="5.92" fill="#505050" stroke="none" stroke-width="0.8" />
<rect x="213.50" y="411.00" width="5.92" height="5.92" fill="#696969" stroke="none" stroke-width="0.8" />
<rect x="219.12" y="411.00" width="5.92" height="5.92" fill="#505050" stroke="none" stroke-width="0.8" />
<rect x="224.75" y="411.00" width="5.92" height="5.92" fill="#393939" stroke="none" stroke-width="0.8" />
<rect x="230.38" y="411.00" width="5.92" height="5.92" fill="#202020" stroke="none" stroke-width="0.8" />
<rect x="236.00" y="411.00" width="5.92" height="5.92" fill="#060606" stroke="none" stroke-width="0.8" />
<rect x="241.62" y="411.00" width="5.92" height="5.92" fill="#393939" stroke="none" stroke-width="0.8" />
<rect x="247.25" y="411.00" width="5.92" height="5.92" fill="#696969" stroke="none" stroke-width="0.8" />
<rect x="252.88" y="411.00" width="5.92" height="5.92" fill="#868686" stroke="none" stroke-width="0.8" />
<rect x="258.50" y="411.00" width="5.92" height="5.92" fill="#505050" stroke="none" stroke-width="0.8" />
<rect x="264.12" y="411.00" width="5.92" height="5.92" fill="#202020" stroke="none" stroke-width="0.8" />
<rect x="269.75" y="411.00" width="5.92" height="5.92" fill="#868686" stroke="none" stroke-width="0.8" />
<rect x="275.38" y="411.00" width="5.92" height="5.92" fill="#868686" stroke="none" stroke-width="0.8" />
<rect x="281.00" y="411.00" width="5.92" height="5.92" fill="#a6a6a6" stroke="none" stroke-width="0.8" />
<rect x="286.62" y="411.00" width="5.92" height="5.92" fill="#cfcfcf" stroke="none" stroke-width="0.8" />
<rect x="292.25" y="411.00" width="5.92" height="5.92" fill="#a6a6a6" stroke="none" stroke-width="0.8" />
<rect x="297.88" y="411.00" width="5.92" height="5.92" fill="#696969" stroke="none" stroke-width="0.8" />
<rect x="303.50" y="411.00" width="5.92" height="5.92" fill="#505050" stroke="none" stroke-width="0.8" />
<rect x="309.12" y="411.00" width="5.92" height="5.92" fill="#868686" stroke="none" stroke-width="0.8" />
<rect x="314.75" y="411.00" width="5.92" height="5.92" fill="#696969" stroke="none" stroke-width="0.8" />
<rect x="320.38" y="411.00" width="11.93" height="5.92" fill="#202020" stroke="none" stroke-width="0.8" />
<rect x="185.00" y="416.62" width="11.93" height="5.92" fill="#060606" stroke="none" stroke-width="0.8" />
<rect x="196.62" y="416.62" width="5.92" height="5.92" fill="#393939" stroke="none" stroke-width="0.8" />
<rect x="202.25" y="416.62" width="5.92" height="5.92" fill="#696969" stroke="none" stroke-width="0.8" />
<rect x="207.88" y="416.62" width="5.92" height="5.92" fill="#868686" stroke="none" stroke-width="0.8" />
<rect x="213.50" y="416.62" width="5.92" height="5.92" fill="#696969" stroke="none" stroke-width="0.8" />
<rect x="219.12" y="416.62" width="5.92" height="5.92" fill="#505050" stroke="none" stroke-width="0.8" />
<rect x="224.75" y="416.62" width="5.92" height="5.92" fill="#505050" stroke="none" stroke-width="0.8" />
<rect x="230.38" y="416.62" width="5.92" height="5.92" fill="#202020" stroke="none" stroke-width="0.8" />
<rect x="236.00" y="416.62" width="5.92" height="5.92" fill="#060606" stroke="none" stroke-width="0.8" />
<rect x="241.62" y="416.62" width="5.92" height="5.92" fill="#393939" stroke="none" stroke-width="0.8" />
<rect x="247.25" y="416.62" width="5.92" height="5.92" fill="#696969" stroke="none" stroke-width="0.8" />
<rect x="252.88" y="416.62" width="5.92" height="5.92" fill="#868686" stroke="none" stroke-width="0.8" />
<rect x="258.50" y="416.62" width="5.92" height="5.92" fill="#696969" stroke="none" stroke-width="0.8" />
<rect x="264.12" y="416.62" width="5.92" height="5.92" fill="#202020" stroke="none" stroke-width="0.8" />
<rect x="269.75" y="416.62" width="5.92" height="5.92" fill="#696969" stroke="none" stroke-width="0.8" />
<rect x="275.38" y="416.62" width="5.92" height="5.92" fill="#868686" stroke="none" stroke-width="0.8" />
<rect x="281.00" y="416.62" width="5.92" height="5.92" fill="#696969" stroke="none" stroke-width="0.8" />
<rect x="286.62" y="416.62" width="5.92" height="5.92" fill="#868686" stroke="none" stroke-width="0.8" />
<rect x="292.25" y="416.62" width="5.92" height="5.92" fill="#696969" stroke="none" stroke-width="0.8" />
<rect x="297.88" y="416.62" width="5.92" height="5.92" fill="#505050" stroke="none" stroke-width="0.8" />
<rect x="303.50" y="416.62" width="5.92" height="5.92" fill="#868686" stroke="none" stroke-width="0.8" />
<rect x="309.12" y="416.62" width="5.92" height="5.92" fill="#cfcfcf" stroke="none" stroke-width="0.8" />
<rect x="314.75" y="416.62" width="5.92" height="5.92" fill="#cfcfcf" stroke="none" stroke-width="0.8" />
<rect x="320.38" y="416.62" width="11.93" height="5.92" fill="#505050" stroke="none" stroke-width="0.8" />
<rect x="185.00" y="422.25" width="11.93" height="5.92" fill="#505050" stroke="none" stroke-width="0.8" />
<rect x="196.62" y="422.25" width="5.92" height="5.92" fill="#868686" stroke="none" stroke-width="0.8" />
<rect x="202.25" y="422.25" width="5.92" height="5.92" fill="#a6a6a6" stroke="none" stroke-width="0.8" />
<rect x="207.88" y="422.25" width="5.92" height="5.92" fill="#a6a6a6" stroke="none" stroke-width="0.8" />
<rect x="213.50" y="422.25" width="5.92" height="5.92" fill="#cfcfcf" stroke="none" stroke-width="0.8" />
<rect x="219.12" y="422.25" width="5.92" height="5.92" fill="#868686" stroke="none" stroke-width="0.8" />
<rect x="224.75" y="422.25" width="5.92" height="5.92" fill="#696969" stroke="none" stroke-width="0.8" />
<rect x="230.38" y="422.25" width="5.92" height="5.92" fill="#505050" stroke="none" stroke-width="0.8" />
<rect x="236.00" y="422.25" width="5.92" height="5.92" fill="#060606" stroke="none" stroke-width="0.8" />
<rect x="241.62" y="422.25" width="5.92" height="5.92" fill="#505050" stroke="none" stroke-width="0.8" />
<rect x="247.25" y="422.25" width="5.92" height="5.92" fill="#868686" stroke="none" stroke-width="0.8" />
<rect x="252.88" y="422.25" width="5.92" height="5.92" fill="#696969" stroke="none" stroke-width="0.8" />
<rect x="258.50" y="422.25" width="5.92" height="5.92" fill="#696969" stroke="none" stroke-width="0.8" />
<rect x="264.12" y="422.25" width="5.92" height="5.92" fill="#202020" stroke="none" stroke-width="0.8" />
<rect x="269.75" y="422.25" width="5.92" height="5.92" fill="#a6a6a6" stroke="none" stroke-width="0.8" />
<rect x="275.38" y="422.25" width="5.92" height="5.92" fill="#a6a6a6" stroke="none" stroke-width="0.8" />
<rect x="281.00" y="422.25" width="5.92" height="5.92" fill="#a6a6a6" stroke="none" stroke-width="0.8" />
<rect x="286.62" y="422.25" width="5.92" height="5.92" fill="#505050" stroke="none" stroke-width="0.8" />
<rect x="292.25" y="422.25" width="5.92" height="5.92" fill="#393939" stroke="none" stroke-width="0.8" />
<rect x="297.88" y="422.25" width="5.92" height="5.92" fill="#393939" stroke="none" stroke-width="0.8" />
<rect x="303.50" y="422.25" width="5.92" height="5.92" fill="#696969" stroke="none" stroke-width="0.8" />
<rect x="309.12" y="422.25" width="5.92" height="5.92" fill="#868686" stroke="none" stroke-width="0.8" />
<rect x="314.75" y="422.25" width="5.92" height="5.92" fill="#505050" stroke="none" stroke-width="0.8" />
<rect x="320.38" y="422.25" width="11.93" height="5.92" fill="#393939" stroke="none" stroke-width="0.8" />
<rect x="185.00" y="427.88" width="11.93" height="5.92" fill="#868686" stroke="none" stroke-width="0.8" />
<rect x="196.62" y="427.88" width="5.92" height="5.92" fill="#868686" stroke="none" stroke-width="0.8" />
<rect x="202.25" y="427.88" width="5.92" height="5.92" fill="#a6a6a6" stroke="none" stroke-width="0.8" />
<rect x="207.88" y="427.88" width="5.92" height="5.92" fill="#cfcfcf" stroke="none" stroke-width="0.8" />
<rect x="213.50" y="427.88" width="5.92" height="5.92" fill="#cfcfcf" stroke="none" stroke-width="0.8" />
<rect x="219.12" y="427.88" width="5.92" height="5.92" fill="#cfcfcf" stroke="none" stroke-width="0.8" />
<rect x="224.75" y="427.88" width="5.92" height="5.92" fill="#a6a6a6" stroke="none" stroke-width="0.8" />
<rect x="230.38" y="427.88" width="5.92" height="5.92" fill="#868686" stroke="none" stroke-width="0.8" />
<rect x="236.00" y="427.88" width="5.92" height="5.92" fill="#202020" stroke="none" stroke-width="0.8" />
<rect x="241.62" y="427.88" width="5.92" height="5.92" fill="#696969" stroke="none" stroke-width="0.8" />
<rect x="247.25" y="427.88" width="5.92" height="5.92" fill="#868686" stroke="none" stroke-width="0.8" />
<rect x="252.88" y="427.88" width="5.92" height="5.92" fill="#a6a6a6" stroke="none" stroke-width="0.8" />
<rect x="258.50" y="427.88" width="5.92" height="5.92" fill="#868686" stroke="none" stroke-width="0.8" />
<rect x="264.12" y="427.88" width="5.92" height="5.92" fill="#505050" stroke="none" stroke-width="0.8" />
<rect x="269.75" y="427.88" width="5.92" height="5.92" fill="#a6a6a6" stroke="none" stroke-width="0.8" />
<rect x="275.38" y="427.88" width="5.92" height="5.92" fill="#cfcfcf" stroke="none" stroke-width="0.8" />
<rect x="281.00" y="427.88" width="5.92" height="5.92" fill="#cfcfcf" stroke="none" stroke-width="0.8" />
<rect x="286.62" y="427.88" width="5.92" height="5.92" fill="#868686" stroke="none" stroke-width="0.8" />
<rect x="292.25" y="427.88" width="5.92" height="5.92" fill="#868686" stroke="none" stroke-width="0.8" />
<rect x="297.88" y="427.88" width="5.92" height="5.92" fill="#696969" stroke="none" stroke-width="0.8" />
<rect x="303.50" y="427.88" width="5.92" height="5.92" fill="#696969" stroke="none" stroke-width="0.8" />
<rect x="309.12" y="427.88" width="5.92" height="5.92" fill="#505050" stroke="none" stroke-width="0.8" />
<rect x="314.75" y="427.88" width="5.92" height="5.92" fill="#202020" stroke="none" stroke-width="0.8" />
<rect x="320.38" y="427.88" width="11.93" height="5.92" fill="#505050" stroke="none" stroke-width="0.8" />
<rect x="185.00" y="433.50" width="11.93" height="5.92" fill="#505050" stroke="none" stroke-width="0.8" />
<rect x="196.62" y="433.50" width="5.92" height="5.92" fill="#a6a6a6" stroke="none" stroke-width="0.8" />
<rect x="202.25" y="433.50" width="5.92" height="5.92" fill="#a6a6a6" stroke="none" stroke-width="0.8" />
<rect x="207.88" y="433.50" width="5.92" height="5.92" fill="#cfcfcf" stroke="none" stroke-width="0.8" />
<rect x="213.50" y="433.50" width="5.92" height="5.92" fill="#cfcfcf" stroke="none" stroke-width="0.8" />
<rect x="219.12" y="433.50" width="5.92" height="5.92" fill="#cfcfcf" stroke="none" stroke-width="0.8" />
<rect x="224.75" y="433.50" width="5.92" height="5.92" fill="#cfcfcf" stroke="none" stroke-width="0.8" />
<rect x="230.38" y="433.50" width="5.92" height="5.92" fill="#a6a6a6" stroke="none" stroke-width="0.8" />
<rect x="236.00" y="433.50" width="5.92" height="5.92" fill="#696969" stroke="none" stroke-width="0.8" />
<rect x="241.62" y="433.50" width="5.92" height="5.92" fill="#a6a6a6" stroke="none" stroke-width="0.8" />
<rect x="247.25" y="433.50" width="5.92" height="5.92" fill="#cfcfcf" stroke="none" stroke-width="0.8" />
<rect x="252.88" y="433.50" width="5.92" height="5.92" fill="#cfcfcf" stroke="none" stroke-width="0.8" />
<rect x="258.50" y="433.50" width="5.92" height="5.92" fill="#cfcfcf" stroke="none" stroke-width="0.8" />
<rect x="264.12" y="433.50" width="5.92" height="5.92" fill="#cfcfcf" stroke="none" stroke-width="0.8" />
<rect x="269.75" y="433.50" width="5.92" height="5.92" fill="#cfcfcf" stroke="none" stroke-width="0.8" />
<rect x="275.38" y="433.50" width="5.92" height="5.92" fill="#a6a6a6" stroke="none" stroke-width="0.8" />
<rect x="281.00" y="433.50" width="5.92" height="5.92" fill="#868686" stroke="none" stroke-width="0.8" />
<rect x="286.62" y="433.50" width="5.92" height="5.92" fill="#696969" stroke="none" stroke-width="0.8" />
<rect x="292.25" y="433.50" width="5.92" height="5.92" fill="#505050" stroke="none" stroke-width="0.8" />
<rect x="297.88" y="433.50" width="5.92" height="5.92" fill="#202020" stroke="none" stroke-width="0.8" />
<rect x="303.50" y="433.50" width="5.92" height="5.92" fill="#393939" stroke="none" stroke-width="0.8" />
<rect x="309.12" y="433.50" width="5.92" height="5.92" fill="#696969" stroke="none" stroke-width="0.8" />
<rect x="314.75" y="433.50" width="5.92" height="5.92" fill="#505050" stroke="none" stroke-width="0.8" />
<rect x="320.38" y="433.50" width="11.93" height="5.92" fill="#393939" stroke="none" stroke-width="0.8" />
<rect x="185.00" y="439.12" width="11.93" height="5.92" fill="#202020" stroke="none" stroke-width="0.8" />
<rect x="196.62" y="439.12" width="5.92" height="5.92" fill="#868686" stroke="none" stroke-width="0.8" />
<rect x="202.25" y="439.12" width="5.92" height="5.92" fill="#868686" stroke="none" stroke-width="0.8" />
<rect x="207.88" y="439.12" width="5.92" height="5.92" fill="#a6a6a6" stroke="none" stroke-width="0.8" />
<rect x="213.50" y="439.12" width="5.92" height="5.92" fill="#a6a6a6" stroke="none" stroke-width="0.8" />
<rect x="219.12" y="439.12" width="5.92" height="5.92" fill="#868686" stroke="none" stroke-width="0.8" />
<rect x="224.75" y="439.12" width="5.92" height="5.92" fill="#696969" stroke="none" stroke-width="0.8" />
<rect x="230.38" y="439.12" width="5.92" height="5.92" fill="#505050" stroke="none" stroke-width="0.8" />
<rect x="236.00" y="439.12" width="5.92" height="5.92" fill="#202020" stroke="none" stroke-width="0.8" />
<rect x="241.62" y="439.12" width="5.92" height="5.92" fill="#505050" stroke="none" stroke-width="0.8" />
<rect x="247.25" y="439.12" width="5.92" height="5.92" fill="#868686" stroke="none" stroke-width="0.8" />
<rect x="252.88" y="439.12" width="5.92" height="5.92" fill="#a6a6a6" stroke="none" stroke-width="0.8" />
<rect x="258.50" y="439.12" width="5.92" height="5.92" fill="#a6a6a6" stroke="none" stroke-width="0.8" />
<rect x="264.12" y="439.12" width="5.92" height="5.92" fill="#a6a6a6" stroke="none" stroke-width="0.8" />
<rect x="269.75" y="439.12" width="5.92" height="5.92" fill="#a6a6a6" stroke="none" stroke-width="0.8" />
<rect x="275.38" y="439.12" width="5.92" height="5.92" fill="#868686" stroke="none" stroke-width="0.8" />
<rect x="281.00" y="439.12" width="5.92" height="5.92" fill="#505050" stroke="none" stroke-width="0.8" />
<rect x="286.62" y="439.12" width="5.92" height="5.92" fill="#393939" stroke="none" stroke-width="0.8" />
<rect x="292.25" y="439.12" width="5.92" height="5.92" fill="#060606" stroke="none" stroke-width="0.8" />
<rect x="297.88" y="439.12" width="5.92" height="5.92" fill="#202020" stroke="none" stroke-width="0.8" />
<rect x="303.50" y="439.12" width="5.92" height="5.92" fill="#393939" stroke="none" stroke-width="0.8" />
<rect x="309.12" y="439.12" width="5.92" height="5.92" fill="#202020" stroke="none" stroke-width="0.8" />
<rect x="314.75" y="439.12" width="5.92" height="5.92" fill="#202020" stroke="none" stroke-width="0.8" />
<rect x="320.38" y="439.12" width="11.93" height="5.92" fill="#393939" stroke="none" stroke-width="0.8" />
<rect x="185.00" y="444.75" width="11.93" height="5.92" fill="#393939" stroke="none" stroke-width="0.8" />
<rect x="196.62" y="444.75" width="5.92" height="5.92" fill="#696969" stroke="none" stroke-width="0.8" />
<rect x="202.25" y="444.75" width="5.92" height="5.92" fill="#868686" stroke="none" stroke-width="0.8" />
<rect x="207.88" y="444.75" width="5.92" height="5.92" fill="#696969" stroke="none" stroke-width="0.8" />
<rect x="213.50" y="444.75" width="5.92" height="5.92" fill="#868686" stroke="none" stroke-width="0.8" />
<rect x="219.12" y="444.75" width="5.92" height="5.92" fill="#868686" stroke="none" stroke-width="0.8" />
<rect x="224.75" y="444.75" width="5.92" height="5.92" fill="#696969" stroke="none" stroke-width="0.8" />
<rect x="230.38" y="444.75" width="5.92" height="5.92" fill="#393939" stroke="none" stroke-width="0.8" />
<rect x="236.00" y="444.75" width="5.92" height="5.92" fill="#060606" stroke="none" stroke-width="0.8" />
<rect x="241.62" y="444.75" width="5.92" height="5.92" fill="#202020" stroke="none" stroke-width="0.8" />
<rect x="247.25" y="444.75" width="5.92" height="5.92" fill="#393939" stroke="none" stroke-width="0.8" />
<rect x="252.88" y="444.75" width="5.92" height="5.92" fill="#696969" stroke="none" stroke-width="0.8" />
<rect x="258.50" y="444.75" width="5.92" height="5.92" fill="#696969" stroke="none" stroke-width="0.8" />
<rect x="264.12" y="444.75" width="5.92" height="5.92" fill="#868686" stroke="none" stroke-width="0.8" />
<rect x="269.75" y="444.75" width="5.92" height="5.92" fill="#696969" stroke="none" stroke-width="0.8" />
<rect x="275.38" y="444.75" width="5.92" height="5.92" fill="#868686" stroke="none" stroke-width="0.8" />
<rect x="281.00" y="444.75" width="5.92" height="5.92" fill="#696969" stroke="none" stroke-width="0.8" />
<rect x="286.62" y="444.75" width="5.92" height="5.92" fill="#202020" stroke="none" stroke-width="0.8" />
<rect x="292.25" y="444.75" width="5.92" height="5.92" fill="#060606" stroke="none" stroke-width="0.8" />
<rect x="297.88" y="444.75" width="5.92" height="5.92" fill="#393939" stroke="none" stroke-width="0.8" />
<rect x="303.50" y="444.75" width="5.92" height="5.92" fill="#393939" stroke="none" stroke-width="0.8" />
<rect x="309.12" y="444.75" width="5.92" height="5.92" fill="#060606" stroke="none" stroke-width="0.8" />
<rect x="314.75" y="444.75" width="5.92" height="5.92" fill="#202020" stroke="none" stroke-width="0.8" />
<rect x="320.38" y="444.75" width="11.93" height="5.92" fill="#505050" stroke="none" stroke-width="0.8" />
<rect x="185.00" y="450.38" width="11.93" height="5.92" fill="#696969" stroke="none" stroke-width="0.8" />
<rect x="196.62" y="450.38" width="5.92" height="5.92" fill="#696969" stroke="none" stroke-width="0.8" />
<rect x="202.25" y="450.38" width="5.92" height="5.92" fill="#505050" stroke="none" stroke-width="0.8" />
<rect x="207.88" y="450.38" width="5.92" height="5.92" fill="#505050" stroke="none" stroke-width="0.8" />
<rect x="213.50" y="450.38" width="5.92" height="5.92" fill="#696969" stroke="none" stroke-width="0.8" />
<rect x="219.12" y="450.38" width="5.92" height="5.92" fill="#868686" stroke="none" stroke-width="0.8" />
<rect x="224.75" y="450.38" width="5.92" height="5.92" fill="#696969" stroke="none" stroke-width="0.8" />
<rect x="230.38" y="450.38" width="5.92" height="5.92" fill="#393939" stroke="none" stroke-width="0.8" />
<rect x="236.00" y="450.38" width="5.92" height="5.92" fill="#060606" stroke="none" stroke-width="0.8" />
<rect x="241.62" y="450.38" width="5.92" height="5.92" fill="#060606" stroke="none" stroke-width="0.8" />
<rect x="247.25" y="450.38" width="5.92" height="5.92" fill="#393939" stroke="none" stroke-width="0.8" />
<rect x="252.88" y="450.38" width="5.92" height="5.92" fill="#505050" stroke="none" stroke-width="0.8" />
<rect x="258.50" y="450.38" width="5.92" height="5.92" fill="#505050" stroke="none" stroke-width="0.8" />
<rect x="264.12" y="450.38" width="5.92" height="5.92" fill="#393939" stroke="none" stroke-width="0.8" />
<rect x="269.75" y="450.38" width="5.92" height="5.92" fill="#393939" stroke="none" stroke-width="0.8" />
<rect x="275.38" y="450.38" width="5.92" height="5.92" fill="#868686" stroke="none" stroke-width="0.8" />
<rect x="281.00" y="450.38" width="5.92" height="5.92" fill="#a6a6a6" stroke="none" stroke-width="0.8" />
<rect x="286.62" y="450.38" width="5.92" height="5.92" fill="#a6a6a6" stroke="none" stroke-width="0.8" />
<rect x="292.25" y="450.38" width="5.92" height="5.92" fill="#a6a6a6" stroke="none" stroke-width="0.8" />
<rect x="297.88" y="450.38" width="5.92" height="5.92" fill="#868686" stroke="none" stroke-width="0.8" />
<rect x="303.50" y="450.38" width="5.92" height="5.92" fill="#696969" stroke="none" stroke-width="0.8" />
<rect x="309.12" y="450.38" width="5.92" height="5.92" fill="#202020" stroke="none" stroke-width="0.8" />
<rect x="314.75" y="450.38" width="5.92" height="5.92" fill="#393939" stroke="none" stroke-width="0.8" />
<rect x="320.38" y="450.38" width="11.93" height="5.92" fill="#505050" stroke="none" stroke-width="0.8" />
<rect x="185.00" y="456.00" width="11.93" height="5.92" fill="#202020" stroke="none" stroke-width="0.8" />
<rect x="196.62" y="456.00" width="5.92" height="5.92" fill="#696969" stroke="none" stroke-width="0.8" />
<rect x="202.25" y="456.00" width="5.92" height="5.92" fill="#505050" stroke="none" stroke-width="0.8" />
<rect x="207.88" y="456.00" width="5.92" height="5.92" fill="#868686" stroke="none" stroke-width="0.8" />
<rect x="213.50" y="456.00" width="5.92" height="5.92" fill="#a6a6a6" stroke="none" stroke-width="0.8" />
<rect x="219.12" y="456.00" width="5.92" height="5.92" fill="#868686" stroke="none" stroke-width="0.8" />
<rect x="224.75" y="456.00" width="5.92" height="5.92" fill="#505050" stroke="none" stroke-width="0.8" />
<rect x="230.38" y="456.00" width="5.92" height="5.92" fill="#505050" stroke="none" stroke-width="0.8" />
<rect x="236.00" y="456.00" width="5.92" height="5.92" fill="#060606" stroke="none" stroke-width="0.8" />
<rect x="241.62" y="456.00" width="5.92" height="5.92" fill="#060606" stroke="none" stroke-width="0.8" />
<rect x="247.25" y="456.00" width="5.92" height="5.92" fill="#060606" stroke="none" stroke-width="0.8" />
<rect x="252.88" y="456.00" width="5.92" height="5.92" fill="#202020" stroke="none" stroke-width="0.8" />
<rect x="258.50" y="456.00" width="5.92" height="5.92" fill="#505050" stroke="none" stroke-width="0.8" />
<rect x="264.12" y="456.00" width="5.92" height="5.92" fill="#505050" stroke="none" stroke-width="0.8" />
<rect x="269.75" y="456.00" width="5.92" height="5.92" fill="#505050" stroke="none" stroke-width="0.8" />
<rect x="275.38" y="456.00" width="5.92" height="5.92" fill="#393939" stroke="none" stroke-width="0.8" />
<rect x="281.00" y="456.00" width="5.92" height="5.92" fill="#393939" stroke="none" stroke-width="0.8" />
<rect x="286.62" y="456.00" width="5.92" height="5.92" fill="#696969" stroke="none" stroke-width="0.8" />
<rect x="292.25" y="456.00" width="5.92" height="5.92" fill="#202020" stroke="none" stroke-width="0.8" />
<rect x="297.88" y="456.00" width="5.92" height="5.92" fill="#a6a6a6" stroke="none" stroke-width="0.8" />
<rect x="303.50" y="456.00" width="5.92" height="5.92" fill="#868686" stroke="none" stroke-width="0.8" />
<rect x="309.12" y="456.00" width="5.92" height="5.92" fill="#505050" stroke="none" stroke-width="0.8" />
<rect x="314.75" y="456.00" width="5.92" height="5.92" fill="#696969" stroke="none" stroke-width="0.8" />
<rect x="320.38" y="456.00" width="11.93" height="5.92" fill="#a6a6a6" stroke="none" stroke-width="0.8" />
<rect x="185.00" y="461.62" width="11.93" height="5.92" fill="#202020" stroke="none" stroke-width="0.8" />
<rect x="196.62" y="461.62" width="5.92" height="5.92" fill="#868686" stroke="none" stroke-width="0.8" />
<rect x="202.25" y="461.62" width="5.92" height="5.92" fill="#505050" stroke="none" stroke-width="0.8" />
<rect x="207.88" y="461.62" width="5.92" height="5.92" fill="#696969" stroke="none" stroke-width="0.8" />
<rect x="213.50" y="461.62" width="5.92" height="5.92" fill="#a6a6a6" stroke="none" stroke-width="0.8" />
<rect x="219.12" y="461.62" width="5.92" height="5.92" fill="#a6a6a6" stroke="none" stroke-width="0.8" />
<rect x="224.75" y="461.62" width="5.92" height="5.92" fill="#a6a6a6" stroke="none" stroke-width="0.8" />
<rect x="230.38" y="461.62" width="5.92" height="5.92" fill="#696969" stroke="none" stroke-width="0.8" />
<rect x="236.00" y="461.62" width="5.92" height="5.92" fill="#060606" stroke="none" stroke-width="0.8" />
<rect x="241.62" y="461.62" width="5.92" height="5.92" fill="#060606" stroke="none" stroke-width="0.8" />
<rect x="247.25" y="461.62" width="5.92" height="5.92" fill="#202020" stroke="none" stroke-width="0.8" />
<rect x="252.88" y="461.62" width="5.92" height="5.92" fill="#393939" stroke="none" stroke-width="0.8" />
<rect x="258.50" y="461.62" width="5.92" height="5.92" fill="#696969" stroke="none" stroke-width="0.8" />
<rect x="264.12" y="461.62" width="5.92" height="5.92" fill="#a6a6a6" stroke="none" stroke-width="0.8" />
<rect x="269.75" y="461.62" width="5.92" height="5.92" fill="#868686" stroke="none" stroke-width="0.8" />
<rect x="275.38" y="461.62" width="5.92" height="5.92" fill="#393939" stroke="none" stroke-width="0.8" />
<rect x="281.00" y="461.62" width="5.92" height="5.92" fill="#202020" stroke="none" stroke-width="0.8" />
<rect x="286.62" y="461.62" width="5.92" height="5.92" fill="#696969" stroke="none" stroke-width="0.8" />
<rect x="292.25" y="461.62" width="5.92" height="5.92" fill="#505050" stroke="none" stroke-width="0.8" />
<rect x="297.88" y="461.62" width="5.92" height="5.92" fill="#a6a6a6" stroke="none" stroke-width="0.8" />
<rect x="303.50" y="461.62" width="5.92" height="5.92" fill="#696969" stroke="none" stroke-width="0.8" />
<rect x="309.12" y="461.62" width="5.92" height="5.92" fill="#202020" stroke="none" stroke-width="0.8" />
<rect x="314.75" y="461.62" width="5.92" height="5.92" fill="#393939" stroke="none" stroke-width="0.8" />
<rect x="320.38" y="461.62" width="11.93" height="5.92" fill="#696969" stroke="none" stroke-width="0.8" />
<rect x="185.00" y="467.25" width="11.93" height="5.92" fill="#a6a6a6" stroke="none" stroke-width="0.8" />
<rect x="196.62" y="467.25" width="5.92" height="5.92" fill="#a6a6a6" stroke="none" stroke-width="0.8" />
<rect x="202.25" y="467.25" width="5.92" height="5.92" fill="#a6a6a6" stroke="none" stroke-width="0.8" />
<rect x="207.88" y="467.25" width="5.92" height="5.92" fill="#868686" stroke="none" stroke-width="0.8" />
<rect x="213.50" y="467.25" width="5.92" height="5.92" fill="#a6a6a6" stroke="none" stroke-width="0.8" />
<rect x="219.12" y="467.25" width="5.92" height="5.92" fill="#cfcfcf" stroke="none" stroke-width="0.8" />
<rect x="224.75" y="467.25" width="5.92" height="5.92" fill="#a6a6a6" stroke="none" stroke-width="0.8" />
<rect x="230.38" y="467.25" width="5.92" height="5.92" fill="#696969" stroke="none" stroke-width="0.8" />
<rect x="236.00" y="467.25" width="5.92" height="5.92" fill="#393939" stroke="none" stroke-width="0.8" />
<rect x="241.62" y="467.25" width="5.92" height="5.92" fill="#393939" stroke="none" stroke-width="0.8" />
<rect x="247.25" y="467.25" width="5.92" height="5.92" fill="#202020" stroke="none" stroke-width="0.8" />
<rect x="252.88" y="467.25" width="5.92" height="5.92" fill="#505050" stroke="none" stroke-width="0.8" />
<rect x="258.50" y="467.25" width="5.92" height="5.92" fill="#a6a6a6" stroke="none" stroke-width="0.8" />
<rect x="264.12" y="467.25" width="5.92" height="5.92" fill="#a6a6a6" stroke="none" stroke-width="0.8" />
<rect x="269.75" y="467.25" width="5.92" height="5.92" fill="#868686" stroke="none" stroke-width="0.8" />
<rect x="275.38" y="467.25" width="5.92" height="5.92" fill="#393939" stroke="none" stroke-width="0.8" />
<rect x="281.00" y="467.25" width="5.92" height="5.92" fill="#202020" stroke="none" stroke-width="0.8" />
<rect x="286.62" y="467.25" width="5.92" height="5.92" fill="#505050" stroke="none" stroke-width="0.8" />
<rect x="292.25" y="467.25" width="5.92" height="5.92" fill="#696969" stroke="none" stroke-width="0.8" />
<rect x="297.88" y="467.25" width="5.92" height="5.92" fill="#868686" stroke="none" stroke-width="0.8" />
<rect x="303.50" y="467.25" width="5.92" height="5.92" fill="#393939" stroke="none" stroke-width="0.8" />
<rect x="309.12" y="467.25" width="5.92" height="5.92" fill="#060606" stroke="none" stroke-width="0.8" />
<rect x="314.75" y="467.25" width="5.92" height="5.92" fill="#505050" stroke="none" stroke-width="0.8" />
<rect x="320.38" y="467.25" width="11.93" height="5.92" fill="#a6a6a6" stroke="none" stroke-width="0.8" />
<rect x="185.00" y="472.88" width="11.93" height="5.92" fill="#505050" stroke="none" stroke-width="0.8" />
<rect x="196.62" y="472.88" width="5.92" height="5.92" fill="#505050" stroke="none" stroke-width="0.8" />
<rect x="202.25" y="472.88" width="5.92" height="5.92" fill="#696969" stroke="none" stroke-width="0.8" />
<rect x="207.88" y="472.88" width="5.92" height="5.92" fill="#202020" stroke="none" stroke-width="0.8" />
<rect x="213.50" y="472.88" width="5.92" height="5.92" fill="#202020" stroke="none" stroke-width="0.8" />
<rect x="219.12" y="472.88" width="5.92" height="5.92" fill="#505050" stroke="none" stroke-width="0.8" />
<rect x="224.75" y="472.88" width="5.92" height="5.92" fill="#696969" stroke="none" stroke-width="0.8" />
<rect x="230.38" y="472.88" width="5.92" height="5.92" fill="#505050" stroke="none" stroke-width="0.8" />
<rect x="236.00" y="472.88" width="5.92" height="5.92" fill="#393939" stroke="none" stroke-width="0.8" />
<rect x="241.62" y="472.88" width="5.92" height="5.92" fill="#505050" stroke="none" stroke-width="0.8" />
<rect x="247.25" y="472.88" width="5.92" height="5.92" fill="#696969" stroke="none" stroke-width="0.8" />
<rect x="252.88" y="472.88" width="5.92" height="5.92" fill="#868686" stroke="none" stroke-width="0.8" />
<rect x="258.50" y="472.88" width="5.92" height="5.92" fill="#868686" stroke="none" stroke-width="0.8" />
<rect x="264.12" y="472.88" width="5.92" height="5.92" fill="#868686" stroke="none" stroke-width="0.8" />
<rect x="269.75" y="472.88" width="5.92" height="5.92" fill="#696969" stroke="none" stroke-width="0.8" />
<rect x="275.38" y="472.88" width="5.92" height="5.92" fill="#202020" stroke="none" stroke-width="0.8" />
<rect x="281.00" y="472.88" width="5.92" height="5.92" fill="#202020" stroke="none" stroke-width="0.8" />
<rect x="286.62" y="472.88" width="5.92" height="5.92" fill="#202020" stroke="none" stroke-width="0.8" />
<rect x="292.25" y="472.88" width="5.92" height="5.92" fill="#505050" stroke="none" stroke-width="0.8" />
<rect x="297.88" y="472.88" width="5.92" height="5.92" fill="#505050" stroke="none" stroke-width="0.8" />
<rect x="303.50" y="472.88" width="5.92" height="5.92" fill="#060606" stroke="none" stroke-width="0.8" />
<rect x="309.12" y="472.88" width="5.92" height="5.92" fill="#060606" stroke="none" stroke-width="0.8" />
<rect x="314.75" y="472.88" width="5.92" height="5.92" fill="#393939" stroke="none" stroke-width="0.8" />
<rect x="320.38" y="472.88" width="11.93" height="5.92" fill="#696969" stroke="none" stroke-width="0.8" />
<rect x="185.00" y="478.50" width="11.93" height="5.92" fill="#a6a6a6" stroke="none" stroke-width="0.8" />
<rect x="196.62" y="478.50" width="5.92" height="5.92" fill="#cfcfcf" stroke="none" stroke-width="0.8" />
<rect x="202.25" y="478.50" width="5.92" height="5.92" fill="#a6a6a6" stroke="none" stroke-width="0.8" />
<rect x="207.88" y="478.50" width="5.92" height="5.92" fill="#060606" stroke="none" stroke-width="0.8" />
<rect x="213.50" y="478.50" width="5.92" height="5.92" fill="#202020" stroke="none" stroke-width="0.8" />
<rect x="219.12" y="478.50" width="5.92" height="5.92" fill="#696969" stroke="none" stroke-width="0.8" />
<rect x="224.75" y="478.50" width="5.92" height="5.92" fill="#505050" stroke="none" stroke-width="0.8" />
<rect x="230.38" y="478.50" width="5.92" height="5.92" fill="#696969" stroke="none" stroke-width="0.8" />
<rect x="236.00" y="478.50" width="5.92" height="5.92" fill="#505050" stroke="none" stroke-width="0.8" />
<rect x="241.62" y="478.50" width="5.92" height="5.92" fill="#505050" stroke="none" stroke-width="0.8" />
<rect x="247.25" y="478.50" width="5.92" height="5.92" fill="#202020" stroke="none" stroke-width="0.8" />
<rect x="252.88" y="478.50" width="5.92" height="5.92" fill="#505050" stroke="none" stroke-width="0.8" />
<rect x="258.50" y="478.50" width="5.92" height="5.92" fill="#696969" stroke="none" stroke-width="0.8" />
<rect x="264.12" y="478.50" width="5.92" height="5.92" fill="#696969" stroke="none" stroke-width="0.8" />
<rect x="269.75" y="478.50" width="5.92" height="5.92" fill="#505050" stroke="none" stroke-width="0.8" />
<rect x="275.38" y="478.50" width="5.92" height="5.92" fill="#202020" stroke="none" stroke-width="0.8" />
<rect x="281.00" y="478.50" width="5.92" height="5.92" fill="#060606" stroke="none" stroke-width="0.8" />
<rect x="286.62" y="478.50" width="5.92" height="5.92" fill="#393939" stroke="none" stroke-width="0.8" />
<rect x="292.25" y="478.50" width="5.92" height="5.92" fill="#505050" stroke="none" stroke-width="0.8" />
<rect x="297.88" y="478.50" width="5.92" height="5.92" fill="#505050" stroke="none" stroke-width="0.8" />
<rect x="303.50" y="478.50" width="5.92" height="5.92" fill="#060606" stroke="none" stroke-width="0.8" />
<rect x="309.12" y="478.50" width="5.92" height="5.92" fill="#060606" stroke="none" stroke-width="0.8" />
<rect x="314.75" y="478.50" width="5.92" height="5.92" fill="#393939" stroke="none" stroke-width="0.8" />
<rect x="320.38" y="478.50" width="11.93" height="5.92" fill="#696969" stroke="none" stroke-width="0.8" />
<rect x="185.00" y="484.12" width="11.93" height="5.92" fill="#696969" stroke="none" stroke-width="0.8" />
<rect x="196.62" y="484.12" width="5.92" height="5.92" fill="#868686" stroke="none" stroke-width="0.8" />
<rect x="202.25" y="484.12" width="5.92" height="5.92" fill="#868686" stroke="none" stroke-width="0.8" />
<rect x="207.88" y="484.12" width="5.92" height="5.92" fill="#505050" stroke="none" stroke-width="0.8" />
<rect x="213.50" y="484.12" width="5.92" height="5.92" fill="#202020" stroke="none" stroke-width="0.8" />
<rect x="219.12" y="484.12" width="5.92" height="5.92" fill="#696969" stroke="none" stroke-width="0.8" />
<rect x="224.75" y="484.12" width="5.92" height="5.92" fill="#505050" stroke="none" stroke-width="0.8" />
<rect x="230.38" y="484.12" width="5.92" height="5.92" fill="#393939" stroke="none" stroke-width="0.8" />
<rect x="236.00" y="484.12" width="5.92" height="5.92" fill="#696969" stroke="none" stroke-width="0.8" />
<rect x="241.62" y="484.12" width="5.92" height="5.92" fill="#505050" stroke="none" stroke-width="0.8" />
<rect x="247.25" y="484.12" width="5.92" height="5.92" fill="#696969" stroke="none" stroke-width="0.8" />
<rect x="252.88" y="484.12" width="5.92" height="5.92" fill="#696969" stroke="none" stroke-width="0.8" />
<rect x="258.50" y="484.12" width="5.92" height="5.92" fill="#505050" stroke="none" stroke-width="0.8" />
<rect x="264.12" y="484.12" width="5.92" height="5.92" fill="#505050" stroke="none" stroke-width="0.8" />
<rect x="269.75" y="484.12" width="5.92" height="5.92" fill="#393939" stroke="none" stroke-width="0.8" />
<rect x="275.38" y="484.12" width="5.92" height="5.92" fill="#060606" stroke="none" stroke-width="0.8" />
<rect x="281.00" y="484.12" width="5.92" height="5.92" fill="#202020" stroke="none" stroke-width="0.8" />
<rect x="286.62" y="484.12" width="5.92" height="5.92" fill="#393939" stroke="none" stroke-width="0.8" />
<rect x="292.25" y="484.12" width="5.92" height="5.92" fill="#505050" stroke="none" stroke-width="0.8" />
<rect x="297.88" y="484.12" width="5.92" height="5.92" fill="#505050" stroke="none" stroke-width="0.8" />
<rect x="303.50" y="484.12" width="5.92" height="5.92" fill="#202020" stroke="none" stroke-width="0.8" />
<rect x="309.12" y="484.12" width="5.92" height="5.92" fill="#202020" stroke="none" stroke-width="0.8" />
<rect x="314.75" y="484.12" width="5.92" height="5.92" fill="#505050" stroke="none" stroke-width="0.8" />
<rect x="320.38" y="484.12" width="11.93" height="5.92" fill="#868686" stroke="none" stroke-width="0.8" />
<rect x="185.00" y="489.75" width="11.93" height="5.92" fill="#202020" stroke="none" stroke-width="0.8" />
<rect x="196.62" y="489.75" width="5.92" height="5.92" fill="#696969" stroke="none" stroke-width="0.8" />
<rect x="202.25" y="489.75" width="5.92" height="5.92" fill="#868686" stroke="none" stroke-width="0.8" />
<rect x="207.88" y="489.75" width="5.92" height="5.92" fill="#696969" stroke="none" stroke-width="0.8" />
<rect x="213.50" y="489.75" width="5.92" height="5.92" fill="#060606" stroke="none" stroke-width="0.8" />
<rect x="219.12" y="489.75" width="5.92" height="5.92" fill="#868686" stroke="none" stroke-width="0.8" />
<rect x="224.75" y="489.75" width="5.92" height="5.92" fill="#868686" stroke="none" stroke-width="0.8" />
<rect x="230.38" y="489.75" width="5.92" height="5.92" fill="#696969" stroke="none" stroke-width="0.8" />
<rect x="236.00" y="489.75" width="5.92" height="5.92" fill="#696969" stroke="none" stroke-width="0.8" />
<rect x="241.62" y="489.75" width="5.92" height="5.92" fill="#393939" stroke="none" stroke-width="0.8" />
<rect x="247.25" y="489.75" width="5.92" height="5.92" fill="#868686" stroke="none" stroke-width="0.8" />
<rect x="252.88" y="489.75" width="5.92" height="5.92" fill="#868686" stroke="none" stroke-width="0.8" />
<rect x="258.50" y="489.75" width="5.92" height="5.92" fill="#696969" stroke="none" stroke-width="0.8" />
<rect x="264.12" y="489.75" width="5.92" height="5.92" fill="#505050" stroke="none" stroke-width="0.8" />
<rect x="269.75" y="489.75" width="5.92" height="5.92" fill="#393939" stroke="none" stroke-width="0.8" />
<rect x="275.38" y="489.75" width="5.92" height="5.92" fill="#060606" stroke="none" stroke-width="0.8" />
<rect x="281.00" y="489.75" width="5.92" height="5.92" fill="#393939" stroke="none" stroke-width="0.8" />
<rect x="286.62" y="489.75" width="5.92" height="5.92" fill="#696969" stroke="none" stroke-width="0.8" />
<rect x="292.25" y="489.75" width="5.92" height="5.92" fill="#696969" stroke="none" stroke-width="0.8" />
<rect x="297.88" y="489.75" width="5.92" height="5.92" fill="#696969" stroke="none" stroke-width="0.8" />
<rect x="303.50" y="489.75" width="5.92" height="5.92" fill="#505050" stroke="none" stroke-width="0.8" />
<rect x="309.12" y="489.75" width="5.92" height="5.92" fill="#696969" stroke="none" stroke-width="0.8" />
<rect x="314.75" y="489.75" width="5.92" height="5.92" fill="#696969" stroke="none" stroke-width="0.8" />
<rect x="320.38" y="489.75" width="11.93" height="5.92" fill="#505050" stroke="none" stroke-width="0.8" />
<rect x="185.00" y="495.38" width="11.93" height="11.93" fill="#060606" stroke="none" stroke-width="0.8" />
<rect x="196.62" y="495.38" width="5.92" height="11.93" fill="#868686" stroke="none" stroke-width="0.8" />
<rect x="202.25" y="495.38" width="5.92" height="11.93" fill="#868686" stroke="none" stroke-width="0.8" />
<rect x="207.88" y="495.38" width="5.92" height="11.93" fill="#696969" stroke="none" stroke-width="0.8" />
<rect x="213.50" y="495.38" width="5.92" height="11.93" fill="#202020" stroke="none" stroke-width="0.8" />
<rect x="219.12" y="495.38" width="5.92" height="11.93" fill="#696969" stroke="none" stroke-width="0.8" />
<rect x="224.75" y="495.38" width="5.92" height="11.93" fill="#505050" stroke="none" stroke-width="0.8" />
<rect x="230.38" y="495.38" width="5.92" height="11.93" fill="#868686" stroke="none" stroke-width="0.8" />
<rect x="236.00" y="495.38" width="5.92" height="11.93" fill="#868686" stroke="none" stroke-width="0.8" />
<rect x="241.62" y="495.38" width="5.92" height="11.93" fill="#393939" stroke="none" stroke-width="0.8" />
<rect x="247.25" y="495.38" width="5.92" height="11.93" fill="#505050" stroke="none" stroke-width="0.8" />
<rect x="252.88" y="495.38" width="5.92" height="11.93" fill="#696969" stroke="none" stroke-width="0.8" />
<rect x="258.50" y="495.38" width="5.92" height="11.93" fill="#505050" stroke="none" stroke-width="0.8" />
<rect x="264.12" y="495.38" width="5.92" height="11.93" fill="#505050" stroke="none" stroke-width="0.8" />
<rect x="269.75" y="495.38" width="5.92" height="11.93" fill="#505050" stroke="none" stroke-width="0.8" />
<rect x="275.38" y="495.38" width="5.92" height="11.93" fill="#202020" stroke="none" stroke-width="0.8" />
<rect x="281.00" y="495.38" width="5.92" height="11.93" fill="#868686" stroke="none" stroke-width="0.8" />
<rect x="286.62" y="495.38" width="5.92" height="11.93" fill="#868686" stroke="none" stroke-width="0.8" />
<rect x="292.25" y="495.38" width="5.92" height="11.93" fill="#696969" stroke="none" stroke-width="0.8" />
<rect x="297.88" y="495.38" width="5.92" height="11.93" fill="#505050" stroke="none" stroke-width="0.8" />
<rect x="303.50" y="495.38" width="5.92" height="11.93" fill="#393939" stroke="none" stroke-width="0.8" />
<rect x="309.12" y="495.38" width="5.92" height="11.93" fill="#393939" stroke="none" stroke-width="0.8" />
<rect x="314.75" y="495.38" width="5.92" height="11.93" fill="#202020" stroke="none" stroke-width="0.8" />
<rect x="320.38" y="495.38" width="11.93" height="11.93" fill="#393939" stroke="none" stroke-width="0.8" />
</g></g>
<circle cx="240.7" cy="438.4" r="34.6" fill="none" stroke="#e41e26" stroke-width="1.7" stroke-dasharray="3.2,2.6"/>
<text x="197.40" y="387.40" font-size="8.7" text-anchor="start" fill="#fff" font-weight="bold" font-style="normal" >Spherulite</text>
<text x="216.80" y="437.40" font-size="8.4" text-anchor="middle" fill="#111" font-weight="normal" font-style="normal" >A</text>
<text x="239.40" y="421.40" font-size="8.4" text-anchor="middle" fill="#fff" font-weight="normal" font-style="normal" >B</text>
<rect x="291.60" y="492.00" width="26.80" height="2.00" fill="#fff" stroke="none" stroke-width="0.8" />
<text x="294.2" y="488.6" font-size="7.9" fill="#fff">10 μm</text>
<text x="340.40" y="366.60" font-size="13.4" text-anchor="start" fill="#0a0a0a" font-weight="bold" font-style="normal" >i</text>
<rect x="488.00" y="476.40" width="1.60" height="20.60" fill="#2a8f72" stroke="#1d5a48" stroke-width="0.3" />
<rect x="489.60" y="468.48" width="1.60" height="28.52" fill="#2a8f72" stroke="#1d5a48" stroke-width="0.3" />
<rect x="491.20" y="458.82" width="1.60" height="38.18" fill="#2a8f72" stroke="#1d5a48" stroke-width="0.3" />
<rect x="492.80" y="447.59" width="1.60" height="49.41" fill="#2a8f72" stroke="#1d5a48" stroke-width="0.3" />
<rect x="494.40" y="435.17" width="1.60" height="61.83" fill="#2a8f72" stroke="#1d5a48" stroke-width="0.3" />
<rect x="496.00" y="422.22" width="1.60" height="74.78" fill="#2a8f72" stroke="#1d5a48" stroke-width="0.3" />
<rect x="497.60" y="409.56" width="1.60" height="87.44" fill="#2a8f72" stroke="#1d5a48" stroke-width="0.3" />
<rect x="499.20" y="398.15" width="1.60" height="98.85" fill="#2a8f72" stroke="#1d5a48" stroke-width="0.3" />
<rect x="500.80" y="388.97" width="1.60" height="108.03" fill="#2a8f72" stroke="#1d5a48" stroke-width="0.3" />
<rect x="502.40" y="382.87" width="1.60" height="114.13" fill="#2a8f72" stroke="#1d5a48" stroke-width="0.3" />
<rect x="504.00" y="380.43" width="1.60" height="116.57" fill="#2a8f72" stroke="#1d5a48" stroke-width="0.3" />
<rect x="505.60" y="381.90" width="1.60" height="115.10" fill="#2a8f72" stroke="#1d5a48" stroke-width="0.3" />
<rect x="507.20" y="387.13" width="1.60" height="109.87" fill="#2a8f72" stroke="#1d5a48" stroke-width="0.3" />
<rect x="508.80" y="395.61" width="1.60" height="101.39" fill="#2a8f72" stroke="#1d5a48" stroke-width="0.3" />
<rect x="510.40" y="406.55" width="1.60" height="90.45" fill="#2a8f72" stroke="#1d5a48" stroke-width="0.3" />
<rect x="512.00" y="418.99" width="1.60" height="78.01" fill="#2a8f72" stroke="#1d5a48" stroke-width="0.3" />
<rect x="513.60" y="431.96" width="1.60" height="65.04" fill="#2a8f72" stroke="#1d5a48" stroke-width="0.3" />
<rect x="515.20" y="444.57" width="1.60" height="52.43" fill="#2a8f72" stroke="#1d5a48" stroke-width="0.3" />
<rect x="516.80" y="456.15" width="1.60" height="40.85" fill="#2a8f72" stroke="#1d5a48" stroke-width="0.3" />
<rect x="518.40" y="466.22" width="1.60" height="30.78" fill="#2a8f72" stroke="#1d5a48" stroke-width="0.3" />
<rect x="520.00" y="474.59" width="1.60" height="22.41" fill="#2a8f72" stroke="#1d5a48" stroke-width="0.3" />
<rect x="521.60" y="481.22" width="1.60" height="15.78" fill="#2a8f72" stroke="#1d5a48" stroke-width="0.3" />
<rect x="372.00" y="496.69" width="1.60" height="0.31" fill="#2f79b9" stroke="#1b3f60" stroke-width="0.3" fill-opacity="0.84"/>
<rect x="376.80" y="495.53" width="1.60" height="1.47" fill="#2f79b9" stroke="#1b3f60" stroke-width="0.3" fill-opacity="0.84"/>
<rect x="378.40" y="494.17" width="1.60" height="2.83" fill="#2f79b9" stroke="#1b3f60" stroke-width="0.3" fill-opacity="0.84"/>
<rect x="380.00" y="491.63" width="1.60" height="5.37" fill="#2f79b9" stroke="#1b3f60" stroke-width="0.3" fill-opacity="0.84"/>
<rect x="381.60" y="489.40" width="1.60" height="7.60" fill="#2f79b9" stroke="#1b3f60" stroke-width="0.3" fill-opacity="0.84"/>
<rect x="383.20" y="488.28" width="1.60" height="8.72" fill="#2f79b9" stroke="#1b3f60" stroke-width="0.3" fill-opacity="0.84"/>
<rect x="384.80" y="485.61" width="1.60" height="11.39" fill="#2f79b9" stroke="#1b3f60" stroke-width="0.3" fill-opacity="0.84"/>
<rect x="386.40" y="483.59" width="1.60" height="13.41" fill="#2f79b9" stroke="#1b3f60" stroke-width="0.3" fill-opacity="0.84"/>
<rect x="388.00" y="482.67" width="1.60" height="14.33" fill="#2f79b9" stroke="#1b3f60" stroke-width="0.3" fill-opacity="0.84"/>
<rect x="389.60" y="480.86" width="1.60" height="16.14" fill="#2f79b9" stroke="#1b3f60" stroke-width="0.3" fill-opacity="0.84"/>
<rect x="391.20" y="480.11" width="1.60" height="16.89" fill="#2f79b9" stroke="#1b3f60" stroke-width="0.3" fill-opacity="0.84"/>
<rect x="392.80" y="478.50" width="1.60" height="18.50" fill="#2f79b9" stroke="#1b3f60" stroke-width="0.3" fill-opacity="0.84"/>
<rect x="394.40" y="477.48" width="1.60" height="19.52" fill="#2f79b9" stroke="#1b3f60" stroke-width="0.3" fill-opacity="0.84"/>
<rect x="396.00" y="475.69" width="1.60" height="21.31" fill="#2f79b9" stroke="#1b3f60" stroke-width="0.3" fill-opacity="0.84"/>
<rect x="397.60" y="475.06" width="1.60" height="21.94" fill="#2f79b9" stroke="#1b3f60" stroke-width="0.3" fill-opacity="0.84"/>
<rect x="399.20" y="475.13" width="1.60" height="21.87" fill="#2f79b9" stroke="#1b3f60" stroke-width="0.3" fill-opacity="0.84"/>
<rect x="400.80" y="474.50" width="1.60" height="22.50" fill="#2f79b9" stroke="#1b3f60" stroke-width="0.3" fill-opacity="0.84"/>
<rect x="402.40" y="474.78" width="1.60" height="22.22" fill="#2f79b9" stroke="#1b3f60" stroke-width="0.3" fill-opacity="0.84"/>
<rect x="404.00" y="474.82" width="1.60" height="22.18" fill="#2f79b9" stroke="#1b3f60" stroke-width="0.3" fill-opacity="0.84"/>
<rect x="405.60" y="474.22" width="1.60" height="22.78" fill="#2f79b9" stroke="#1b3f60" stroke-width="0.3" fill-opacity="0.84"/>
<rect x="407.20" y="475.19" width="1.60" height="21.81" fill="#2f79b9" stroke="#1b3f60" stroke-width="0.3" fill-opacity="0.84"/>
<rect x="408.80" y="475.01" width="1.60" height="21.99" fill="#2f79b9" stroke="#1b3f60" stroke-width="0.3" fill-opacity="0.84"/>
<rect x="410.40" y="474.66" width="1.60" height="22.34" fill="#2f79b9" stroke="#1b3f60" stroke-width="0.3" fill-opacity="0.84"/>
<rect x="412.00" y="474.34" width="1.60" height="22.66" fill="#2f79b9" stroke="#1b3f60" stroke-width="0.3" fill-opacity="0.84"/>
<rect x="413.60" y="475.60" width="1.60" height="21.40" fill="#2f79b9" stroke="#1b3f60" stroke-width="0.3" fill-opacity="0.84"/>
<rect x="415.20" y="475.52" width="1.60" height="21.48" fill="#2f79b9" stroke="#1b3f60" stroke-width="0.3" fill-opacity="0.84"/>
<rect x="416.80" y="476.20" width="1.60" height="20.80" fill="#2f79b9" stroke="#1b3f60" stroke-width="0.3" fill-opacity="0.84"/>
<rect x="418.40" y="476.78" width="1.60" height="20.22" fill="#2f79b9" stroke="#1b3f60" stroke-width="0.3" fill-opacity="0.84"/>
<rect x="420.00" y="476.97" width="1.60" height="20.03" fill="#2f79b9" stroke="#1b3f60" stroke-width="0.3" fill-opacity="0.84"/>
<rect x="421.60" y="477.61" width="1.60" height="19.39" fill="#2f79b9" stroke="#1b3f60" stroke-width="0.3" fill-opacity="0.84"/>
<rect x="423.20" y="477.36" width="1.60" height="19.64" fill="#2f79b9" stroke="#1b3f60" stroke-width="0.3" fill-opacity="0.84"/>
<rect x="424.80" y="478.24" width="1.60" height="18.76" fill="#2f79b9" stroke="#1b3f60" stroke-width="0.3" fill-opacity="0.84"/>
<rect x="426.40" y="478.32" width="1.60" height="18.68" fill="#2f79b9" stroke="#1b3f60" stroke-width="0.3" fill-opacity="0.84"/>
<rect x="428.00" y="479.42" width="1.60" height="17.58" fill="#2f79b9" stroke="#1b3f60" stroke-width="0.3" fill-opacity="0.84"/>
<rect x="429.60" y="479.87" width="1.60" height="17.13" fill="#2f79b9" stroke="#1b3f60" stroke-width="0.3" fill-opacity="0.84"/>
<rect x="431.20" y="479.43" width="1.60" height="17.57" fill="#2f79b9" stroke="#1b3f60" stroke-width="0.3" fill-opacity="0.84"/>
<rect x="432.80" y="479.74" width="1.60" height="17.26" fill="#2f79b9" stroke="#1b3f60" stroke-width="0.3" fill-opacity="0.84"/>
<rect x="434.40" y="480.09" width="1.60" height="16.91" fill="#2f79b9" stroke="#1b3f60" stroke-width="0.3" fill-opacity="0.84"/>
<rect x="436.00" y="481.24" width="1.60" height="15.76" fill="#2f79b9" stroke="#1b3f60" stroke-width="0.3" fill-opacity="0.84"/>
<rect x="437.60" y="480.86" width="1.60" height="16.14" fill="#2f79b9" stroke="#1b3f60" stroke-width="0.3" fill-opacity="0.84"/>
<rect x="439.20" y="481.25" width="1.60" height="15.75" fill="#2f79b9" stroke="#1b3f60" stroke-width="0.3" fill-opacity="0.84"/>
<rect x="440.80" y="480.86" width="1.60" height="16.14" fill="#2f79b9" stroke="#1b3f60" stroke-width="0.3" fill-opacity="0.84"/>
<rect x="442.40" y="481.11" width="1.60" height="15.89" fill="#2f79b9" stroke="#1b3f60" stroke-width="0.3" fill-opacity="0.84"/>
<rect x="444.00" y="480.96" width="1.60" height="16.04" fill="#2f79b9" stroke="#1b3f60" stroke-width="0.3" fill-opacity="0.84"/>
<rect x="445.60" y="480.92" width="1.60" height="16.08" fill="#2f79b9" stroke="#1b3f60" stroke-width="0.3" fill-opacity="0.84"/>
<rect x="447.20" y="481.31" width="1.60" height="15.69" fill="#2f79b9" stroke="#1b3f60" stroke-width="0.3" fill-opacity="0.84"/>
<rect x="448.80" y="481.46" width="1.60" height="15.54" fill="#2f79b9" stroke="#1b3f60" stroke-width="0.3" fill-opacity="0.84"/>
<rect x="450.40" y="482.00" width="1.60" height="15.00" fill="#2f79b9" stroke="#1b3f60" stroke-width="0.3" fill-opacity="0.84"/>
<rect x="452.00" y="481.88" width="1.60" height="15.12" fill="#2f79b9" stroke="#1b3f60" stroke-width="0.3" fill-opacity="0.84"/>
<rect x="453.60" y="482.32" width="1.60" height="14.68" fill="#2f79b9" stroke="#1b3f60" stroke-width="0.3" fill-opacity="0.84"/>
<rect x="455.20" y="482.31" width="1.60" height="14.69" fill="#2f79b9" stroke="#1b3f60" stroke-width="0.3" fill-opacity="0.84"/>
<rect x="456.80" y="482.56" width="1.60" height="14.44" fill="#2f79b9" stroke="#1b3f60" stroke-width="0.3" fill-opacity="0.84"/>
<rect x="458.40" y="482.25" width="1.60" height="14.75" fill="#2f79b9" stroke="#1b3f60" stroke-width="0.3" fill-opacity="0.84"/>
<rect x="460.00" y="481.72" width="1.60" height="15.28" fill="#2f79b9" stroke="#1b3f60" stroke-width="0.3" fill-opacity="0.84"/>
<rect x="461.60" y="482.64" width="1.60" height="14.36" fill="#2f79b9" stroke="#1b3f60" stroke-width="0.3" fill-opacity="0.84"/>
<rect x="463.20" y="482.85" width="1.60" height="14.15" fill="#2f79b9" stroke="#1b3f60" stroke-width="0.3" fill-opacity="0.84"/>
<rect x="464.80" y="482.97" width="1.60" height="14.03" fill="#2f79b9" stroke="#1b3f60" stroke-width="0.3" fill-opacity="0.84"/>
<rect x="466.40" y="482.78" width="1.60" height="14.22" fill="#2f79b9" stroke="#1b3f60" stroke-width="0.3" fill-opacity="0.84"/>
<rect x="468.00" y="483.16" width="1.60" height="13.84" fill="#2f79b9" stroke="#1b3f60" stroke-width="0.3" fill-opacity="0.84"/>
<rect x="469.60" y="482.77" width="1.60" height="14.23" fill="#2f79b9" stroke="#1b3f60" stroke-width="0.3" fill-opacity="0.84"/>
<rect x="471.20" y="483.72" width="1.60" height="13.28" fill="#2f79b9" stroke="#1b3f60" stroke-width="0.3" fill-opacity="0.84"/>
<rect x="472.80" y="483.62" width="1.60" height="13.38" fill="#2f79b9" stroke="#1b3f60" stroke-width="0.3" fill-opacity="0.84"/>
<rect x="474.40" y="483.42" width="1.60" height="13.58" fill="#2f79b9" stroke="#1b3f60" stroke-width="0.3" fill-opacity="0.84"/>
<rect x="476.00" y="483.27" width="1.60" height="13.73" fill="#2f79b9" stroke="#1b3f60" stroke-width="0.3" fill-opacity="0.84"/>
<rect x="477.60" y="484.33" width="1.60" height="12.67" fill="#2f79b9" stroke="#1b3f60" stroke-width="0.3" fill-opacity="0.84"/>
<rect x="479.20" y="484.60" width="1.60" height="12.40" fill="#2f79b9" stroke="#1b3f60" stroke-width="0.3" fill-opacity="0.84"/>
<rect x="480.80" y="483.64" width="1.60" height="13.36" fill="#2f79b9" stroke="#1b3f60" stroke-width="0.3" fill-opacity="0.84"/>
<rect x="482.40" y="484.60" width="1.60" height="12.40" fill="#2f79b9" stroke="#1b3f60" stroke-width="0.3" fill-opacity="0.84"/>
<rect x="484.00" y="484.23" width="1.60" height="12.77" fill="#2f79b9" stroke="#1b3f60" stroke-width="0.3" fill-opacity="0.84"/>
<rect x="485.60" y="484.00" width="1.60" height="13.00" fill="#2f79b9" stroke="#1b3f60" stroke-width="0.3" fill-opacity="0.84"/>
<rect x="487.20" y="484.25" width="1.60" height="12.75" fill="#2f79b9" stroke="#1b3f60" stroke-width="0.3" fill-opacity="0.84"/>
<rect x="488.80" y="484.90" width="1.60" height="12.10" fill="#2f79b9" stroke="#1b3f60" stroke-width="0.3" fill-opacity="0.84"/>
<rect x="490.40" y="485.11" width="1.60" height="11.89" fill="#2f79b9" stroke="#1b3f60" stroke-width="0.3" fill-opacity="0.84"/>
<rect x="492.00" y="484.19" width="1.60" height="12.81" fill="#2f79b9" stroke="#1b3f60" stroke-width="0.3" fill-opacity="0.84"/>
<rect x="493.60" y="484.94" width="1.60" height="12.06" fill="#2f79b9" stroke="#1b3f60" stroke-width="0.3" fill-opacity="0.84"/>
<rect x="495.20" y="484.25" width="1.60" height="12.75" fill="#2f79b9" stroke="#1b3f60" stroke-width="0.3" fill-opacity="0.84"/>
<rect x="496.80" y="485.06" width="1.60" height="11.94" fill="#2f79b9" stroke="#1b3f60" stroke-width="0.3" fill-opacity="0.84"/>
<rect x="498.40" y="484.60" width="1.60" height="12.40" fill="#2f79b9" stroke="#1b3f60" stroke-width="0.3" fill-opacity="0.84"/>
<rect x="500.00" y="485.26" width="1.60" height="11.74" fill="#2f79b9" stroke="#1b3f60" stroke-width="0.3" fill-opacity="0.84"/>
<rect x="501.60" y="485.38" width="1.60" height="11.62" fill="#2f79b9" stroke="#1b3f60" stroke-width="0.3" fill-opacity="0.84"/>
<rect x="503.20" y="484.81" width="1.60" height="12.19" fill="#2f79b9" stroke="#1b3f60" stroke-width="0.3" fill-opacity="0.84"/>
<rect x="504.80" y="485.40" width="1.60" height="11.60" fill="#2f79b9" stroke="#1b3f60" stroke-width="0.3" fill-opacity="0.84"/>
<rect x="506.40" y="484.57" width="1.60" height="12.43" fill="#2f79b9" stroke="#1b3f60" stroke-width="0.3" fill-opacity="0.84"/>
<rect x="508.00" y="484.29" width="1.60" height="12.71" fill="#2f79b9" stroke="#1b3f60" stroke-width="0.3" fill-opacity="0.84"/>
<rect x="509.60" y="484.92" width="1.60" height="12.08" fill="#2f79b9" stroke="#1b3f60" stroke-width="0.3" fill-opacity="0.84"/>
<rect x="511.20" y="484.24" width="1.60" height="12.76" fill="#2f79b9" stroke="#1b3f60" stroke-width="0.3" fill-opacity="0.84"/>
<rect x="512.80" y="484.44" width="1.60" height="12.56" fill="#2f79b9" stroke="#1b3f60" stroke-width="0.3" fill-opacity="0.84"/>
<rect x="514.40" y="484.75" width="1.60" height="12.25" fill="#2f79b9" stroke="#1b3f60" stroke-width="0.3" fill-opacity="0.84"/>
<rect x="516.00" y="485.07" width="1.60" height="11.93" fill="#2f79b9" stroke="#1b3f60" stroke-width="0.3" fill-opacity="0.84"/>
<rect x="517.60" y="484.59" width="1.60" height="12.41" fill="#2f79b9" stroke="#1b3f60" stroke-width="0.3" fill-opacity="0.84"/>
<rect x="519.20" y="484.53" width="1.60" height="12.47" fill="#2f79b9" stroke="#1b3f60" stroke-width="0.3" fill-opacity="0.84"/>
<rect x="520.80" y="485.59" width="1.60" height="11.41" fill="#2f79b9" stroke="#1b3f60" stroke-width="0.3" fill-opacity="0.84"/>
<rect x="522.40" y="485.00" width="1.60" height="12.00" fill="#2f79b9" stroke="#1b3f60" stroke-width="0.3" fill-opacity="0.84"/>
<rect x="524.00" y="485.84" width="1.60" height="11.16" fill="#2f79b9" stroke="#1b3f60" stroke-width="0.3" fill-opacity="0.84"/>
<rect x="525.60" y="485.82" width="1.60" height="11.18" fill="#2f79b9" stroke="#1b3f60" stroke-width="0.3" fill-opacity="0.84"/>
<rect x="527.20" y="485.24" width="1.60" height="11.76" fill="#2f79b9" stroke="#1b3f60" stroke-width="0.3" fill-opacity="0.84"/>
<rect x="528.80" y="485.39" width="1.60" height="11.61" fill="#2f79b9" stroke="#1b3f60" stroke-width="0.3" fill-opacity="0.84"/>
<rect x="530.40" y="485.51" width="1.60" height="11.49" fill="#2f79b9" stroke="#1b3f60" stroke-width="0.3" fill-opacity="0.84"/>
<rect x="532.00" y="485.71" width="1.60" height="11.29" fill="#2f79b9" stroke="#1b3f60" stroke-width="0.3" fill-opacity="0.84"/>
<rect x="533.60" y="485.70" width="1.60" height="11.30" fill="#2f79b9" stroke="#1b3f60" stroke-width="0.3" fill-opacity="0.84"/>
<rect x="535.20" y="485.71" width="1.60" height="11.29" fill="#2f79b9" stroke="#1b3f60" stroke-width="0.3" fill-opacity="0.84"/>
<rect x="536.80" y="485.83" width="1.60" height="11.17" fill="#2f79b9" stroke="#1b3f60" stroke-width="0.3" fill-opacity="0.84"/>
<rect x="538.40" y="486.26" width="1.60" height="10.74" fill="#2f79b9" stroke="#1b3f60" stroke-width="0.3" fill-opacity="0.84"/>
<rect x="540.00" y="485.79" width="1.60" height="11.21" fill="#2f79b9" stroke="#1b3f60" stroke-width="0.3" fill-opacity="0.84"/>
<rect x="541.60" y="485.75" width="1.60" height="11.25" fill="#2f79b9" stroke="#1b3f60" stroke-width="0.3" fill-opacity="0.84"/>
<rect x="543.20" y="486.14" width="1.60" height="10.86" fill="#2f79b9" stroke="#1b3f60" stroke-width="0.3" fill-opacity="0.84"/>
<rect x="544.80" y="485.61" width="1.60" height="11.39" fill="#2f79b9" stroke="#1b3f60" stroke-width="0.3" fill-opacity="0.84"/>
<rect x="546.40" y="485.74" width="1.60" height="11.26" fill="#2f79b9" stroke="#1b3f60" stroke-width="0.3" fill-opacity="0.84"/>
<rect x="548.00" y="486.62" width="1.60" height="10.38" fill="#2f79b9" stroke="#1b3f60" stroke-width="0.3" fill-opacity="0.84"/>
<rect x="549.60" y="486.17" width="1.60" height="10.83" fill="#2f79b9" stroke="#1b3f60" stroke-width="0.3" fill-opacity="0.84"/>
<rect x="551.20" y="486.29" width="1.60" height="10.71" fill="#2f79b9" stroke="#1b3f60" stroke-width="0.3" fill-opacity="0.84"/>
<rect x="552.80" y="485.74" width="1.60" height="11.26" fill="#2f79b9" stroke="#1b3f60" stroke-width="0.3" fill-opacity="0.84"/>
<rect x="554.40" y="486.32" width="1.60" height="10.68" fill="#2f79b9" stroke="#1b3f60" stroke-width="0.3" fill-opacity="0.84"/>
<rect x="556.00" y="486.61" width="1.60" height="10.39" fill="#2f79b9" stroke="#1b3f60" stroke-width="0.3" fill-opacity="0.84"/>
<rect x="557.60" y="486.04" width="1.60" height="10.96" fill="#2f79b9" stroke="#1b3f60" stroke-width="0.3" fill-opacity="0.84"/>
<rect x="559.20" y="486.84" width="1.60" height="10.16" fill="#2f79b9" stroke="#1b3f60" stroke-width="0.3" fill-opacity="0.84"/>
<rect x="560.80" y="486.96" width="1.60" height="10.04" fill="#2f79b9" stroke="#1b3f60" stroke-width="0.3" fill-opacity="0.84"/>
<rect x="562.40" y="486.37" width="1.60" height="10.63" fill="#2f79b9" stroke="#1b3f60" stroke-width="0.3" fill-opacity="0.84"/>
<rect x="564.00" y="487.14" width="1.60" height="9.86" fill="#2f79b9" stroke="#1b3f60" stroke-width="0.3" fill-opacity="0.84"/>
<rect x="565.60" y="487.07" width="1.60" height="9.93" fill="#2f79b9" stroke="#1b3f60" stroke-width="0.3" fill-opacity="0.84"/>
<rect x="567.20" y="487.45" width="1.60" height="9.55" fill="#2f79b9" stroke="#1b3f60" stroke-width="0.3" fill-opacity="0.84"/>
<rect x="568.80" y="487.18" width="1.60" height="9.82" fill="#2f79b9" stroke="#1b3f60" stroke-width="0.3" fill-opacity="0.84"/>
<rect x="570.40" y="487.73" width="1.60" height="9.27" fill="#2f79b9" stroke="#1b3f60" stroke-width="0.3" fill-opacity="0.84"/>
<rect x="572.00" y="487.89" width="1.60" height="9.11" fill="#2f79b9" stroke="#1b3f60" stroke-width="0.3" fill-opacity="0.84"/>
<rect x="573.60" y="487.15" width="1.60" height="9.85" fill="#2f79b9" stroke="#1b3f60" stroke-width="0.3" fill-opacity="0.84"/>
<rect x="575.20" y="487.32" width="1.60" height="9.68" fill="#2f79b9" stroke="#1b3f60" stroke-width="0.3" fill-opacity="0.84"/>
<rect x="576.80" y="488.18" width="1.60" height="8.82" fill="#2f79b9" stroke="#1b3f60" stroke-width="0.3" fill-opacity="0.84"/>
<rect x="578.40" y="488.47" width="1.60" height="8.53" fill="#2f79b9" stroke="#1b3f60" stroke-width="0.3" fill-opacity="0.84"/>
<rect x="580.00" y="487.49" width="1.60" height="9.51" fill="#2f79b9" stroke="#1b3f60" stroke-width="0.3" fill-opacity="0.84"/>
<rect x="581.60" y="487.62" width="1.60" height="9.38" fill="#2f79b9" stroke="#1b3f60" stroke-width="0.3" fill-opacity="0.84"/>
<rect x="583.20" y="487.66" width="1.60" height="9.34" fill="#2f79b9" stroke="#1b3f60" stroke-width="0.3" fill-opacity="0.84"/>
<rect x="584.80" y="487.21" width="1.60" height="9.79" fill="#2f79b9" stroke="#1b3f60" stroke-width="0.3" fill-opacity="0.84"/>
<rect x="586.40" y="487.45" width="1.60" height="9.55" fill="#2f79b9" stroke="#1b3f60" stroke-width="0.3" fill-opacity="0.84"/>
<rect x="588.00" y="487.67" width="1.60" height="9.33" fill="#2f79b9" stroke="#1b3f60" stroke-width="0.3" fill-opacity="0.84"/>
<rect x="589.60" y="488.03" width="1.60" height="8.97" fill="#2f79b9" stroke="#1b3f60" stroke-width="0.3" fill-opacity="0.84"/>
<rect x="591.20" y="488.58" width="1.60" height="8.42" fill="#2f79b9" stroke="#1b3f60" stroke-width="0.3" fill-opacity="0.84"/>
<rect x="592.80" y="488.51" width="1.60" height="8.49" fill="#2f79b9" stroke="#1b3f60" stroke-width="0.3" fill-opacity="0.84"/>
<rect x="594.40" y="488.90" width="1.60" height="8.10" fill="#2f79b9" stroke="#1b3f60" stroke-width="0.3" fill-opacity="0.84"/>
<rect x="596.00" y="489.73" width="1.60" height="7.27" fill="#2f79b9" stroke="#1b3f60" stroke-width="0.3" fill-opacity="0.84"/>
<rect x="597.60" y="489.19" width="1.60" height="7.81" fill="#2f79b9" stroke="#1b3f60" stroke-width="0.3" fill-opacity="0.84"/>
<rect x="599.20" y="490.19" width="1.60" height="6.81" fill="#2f79b9" stroke="#1b3f60" stroke-width="0.3" fill-opacity="0.84"/>
<rect x="600.80" y="490.75" width="1.60" height="6.25" fill="#2f79b9" stroke="#1b3f60" stroke-width="0.3" fill-opacity="0.84"/>
<rect x="602.40" y="490.59" width="1.60" height="6.41" fill="#2f79b9" stroke="#1b3f60" stroke-width="0.3" fill-opacity="0.84"/>
<rect x="604.00" y="490.91" width="1.60" height="6.09" fill="#2f79b9" stroke="#1b3f60" stroke-width="0.3" fill-opacity="0.84"/>
<rect x="605.60" y="492.08" width="1.60" height="4.92" fill="#2f79b9" stroke="#1b3f60" stroke-width="0.3" fill-opacity="0.84"/>
<rect x="607.20" y="491.89" width="1.60" height="5.11" fill="#2f79b9" stroke="#1b3f60" stroke-width="0.3" fill-opacity="0.84"/>
<rect x="608.80" y="492.30" width="1.60" height="4.70" fill="#2f79b9" stroke="#1b3f60" stroke-width="0.3" fill-opacity="0.84"/>
<rect x="610.40" y="493.08" width="1.60" height="3.92" fill="#2f79b9" stroke="#1b3f60" stroke-width="0.3" fill-opacity="0.84"/>
<rect x="612.00" y="493.88" width="1.60" height="3.12" fill="#2f79b9" stroke="#1b3f60" stroke-width="0.3" fill-opacity="0.84"/>
<rect x="613.60" y="493.62" width="1.60" height="3.38" fill="#2f79b9" stroke="#1b3f60" stroke-width="0.3" fill-opacity="0.84"/>
<rect x="615.20" y="494.29" width="1.60" height="2.71" fill="#2f79b9" stroke="#1b3f60" stroke-width="0.3" fill-opacity="0.84"/>
<rect x="616.80" y="494.70" width="1.60" height="2.30" fill="#2f79b9" stroke="#1b3f60" stroke-width="0.3" fill-opacity="0.84"/>
<rect x="618.40" y="495.70" width="1.60" height="1.30" fill="#2f79b9" stroke="#1b3f60" stroke-width="0.3" fill-opacity="0.84"/>
<rect x="620.00" y="495.63" width="1.60" height="1.37" fill="#2f79b9" stroke="#1b3f60" stroke-width="0.3" fill-opacity="0.84"/>
<rect x="621.60" y="496.46" width="1.60" height="0.54" fill="#2f79b9" stroke="#1b3f60" stroke-width="0.3" fill-opacity="0.84"/>
<rect x="623.20" y="495.78" width="1.60" height="1.22" fill="#2f79b9" stroke="#1b3f60" stroke-width="0.3" fill-opacity="0.84"/>
<rect x="624.80" y="496.13" width="1.60" height="0.87" fill="#2f79b9" stroke="#1b3f60" stroke-width="0.3" fill-opacity="0.84"/>
<rect x="626.40" y="496.65" width="1.60" height="0.35" fill="#2f79b9" stroke="#1b3f60" stroke-width="0.3" fill-opacity="0.84"/>
<rect x="629.60" y="496.70" width="1.60" height="0.30" fill="#2f79b9" stroke="#1b3f60" stroke-width="0.3" fill-opacity="0.84"/>
<rect x="631.20" y="496.57" width="1.60" height="0.43" fill="#2f79b9" stroke="#1b3f60" stroke-width="0.3" fill-opacity="0.84"/>
<rect x="632.80" y="496.47" width="1.60" height="0.53" fill="#2f79b9" stroke="#1b3f60" stroke-width="0.3" fill-opacity="0.84"/>
<rect x="636.00" y="496.59" width="1.60" height="0.41" fill="#2f79b9" stroke="#1b3f60" stroke-width="0.3" fill-opacity="0.84"/>
<rect x="640.80" y="496.62" width="1.60" height="0.38" fill="#2f79b9" stroke="#1b3f60" stroke-width="0.3" fill-opacity="0.84"/>
<rect x="357.40" y="367.40" width="320.20" height="129.60" fill="none" stroke="#333" stroke-width="1.1" />
<line x1="357.40" y1="497.00" x2="357.40" y2="499.60" stroke="#333" stroke-width="0.8" />
<text x="357.40" y="509.00" font-size="8.4" text-anchor="middle" fill="#1c1c1c" font-weight="normal" font-style="normal" >-0.4</text>
<line x1="389.42" y1="497.00" x2="389.42" y2="498.50" stroke="#333" stroke-width="0.8" />
<line x1="421.44" y1="497.00" x2="421.44" y2="499.60" stroke="#333" stroke-width="0.8" />
<text x="421.44" y="509.00" font-size="8.4" text-anchor="middle" fill="#1c1c1c" font-weight="normal" font-style="normal" >-0.2</text>
<line x1="453.46" y1="497.00" x2="453.46" y2="498.50" stroke="#333" stroke-width="0.8" />
<line x1="485.48" y1="497.00" x2="485.48" y2="499.60" stroke="#333" stroke-width="0.8" />
<text x="485.48" y="509.00" font-size="8.4" text-anchor="middle" fill="#1c1c1c" font-weight="normal" font-style="normal" >0</text>
<line x1="517.50" y1="497.00" x2="517.50" y2="498.50" stroke="#333" stroke-width="0.8" />
<line x1="549.52" y1="497.00" x2="549.52" y2="499.60" stroke="#333" stroke-width="0.8" />
<text x="549.52" y="509.00" font-size="8.4" text-anchor="middle" fill="#1c1c1c" font-weight="normal" font-style="normal" >0.2</text>
<line x1="581.54" y1="497.00" x2="581.54" y2="498.50" stroke="#333" stroke-width="0.8" />
<line x1="613.56" y1="497.00" x2="613.56" y2="499.60" stroke="#333" stroke-width="0.8" />
<text x="613.56" y="509.00" font-size="8.4" text-anchor="middle" fill="#1c1c1c" font-weight="normal" font-style="normal" >0.4</text>
<line x1="645.58" y1="497.00" x2="645.58" y2="498.50" stroke="#333" stroke-width="0.8" />
<line x1="677.60" y1="497.00" x2="677.60" y2="499.60" stroke="#333" stroke-width="0.8" />
<text x="677.60" y="509.00" font-size="8.4" text-anchor="middle" fill="#1c1c1c" font-weight="normal" font-style="normal" >0.6</text>
<text x="520.00" y="518.40" font-size="9.6" text-anchor="middle" fill="#1c1c1c" font-weight="normal" font-style="normal" >Anisotropy (r)</text>
<text transform="translate(346.40,431.00) rotate(-90)" font-size="9.3" text-anchor="middle" fill="#1c1c1c" >Pixels</text>
<rect x="620.40" y="384.00" width="9.20" height="3.80" fill="#2ca382" stroke="#222" stroke-width="0.6" />
<rect x="620.40" y="394.40" width="9.20" height="4.00" fill="#1f6fb5" stroke="#222" stroke-width="0.6" />
<text x="633.00" y="388.20" font-size="7.4" text-anchor="start" fill="#1c1c1c" font-weight="normal" font-style="normal" >Film</text>
<text x="633.00" y="399.00" font-size="7.4" text-anchor="start" fill="#1c1c1c" font-weight="normal" font-style="normal" >Spherulite</text>
<circle cx="397.80" cy="406.60" r="30.8" fill="#fff" stroke="none" stroke-width="0.5" />
<ellipse cx="377.67" cy="390.47" rx="2.8" ry="1.3" transform="rotate(60 377.67 390.47)" fill="#f2e6a2" stroke="none" stroke-width="0.4"/>
<ellipse cx="372.60" cy="397.44" rx="2.8" ry="1.3" transform="rotate(70 372.60 397.44)" fill="#f2e6a2" stroke="none" stroke-width="0.4"/>
<ellipse cx="384.00" cy="396.80" rx="2.8" ry="1.3" transform="rotate(55 384.00 396.80)" fill="#f2e6a2" stroke="none" stroke-width="0.4"/>
<ellipse cx="376.40" cy="402.50" rx="2.8" ry="1.3" transform="rotate(65 376.40 402.50)" fill="#f2e6a2" stroke="none" stroke-width="0.4"/>
<ellipse cx="385.27" cy="402.50" rx="2.8" ry="1.3" transform="rotate(60 385.27 402.50)" fill="#f2e6a2" stroke="none" stroke-width="0.4"/>
<ellipse cx="372.60" cy="410.74" rx="2.8" ry="1.3" transform="rotate(70 372.60 410.74)" fill="#f2e6a2" stroke="none" stroke-width="0.4"/>
<ellipse cx="380.20" cy="412.00" rx="2.8" ry="1.3" transform="rotate(60 380.20 412.00)" fill="#f2e6a2" stroke="none" stroke-width="0.4"/>
<ellipse cx="374.50" cy="405.04" rx="2.8" ry="1.3" transform="rotate(75 374.50 405.04)" fill="#f2e6a2" stroke="none" stroke-width="0.4"/>
<ellipse cx="381.47" cy="407.57" rx="2.8" ry="1.3" transform="rotate(55 381.47 407.57)" fill="#f2e6a2" stroke="none" stroke-width="0.4"/>
<ellipse cx="409.97" cy="399.97" rx="2.8" ry="1.3" transform="rotate(65 409.97 399.97)" fill="#f2e6a2" stroke="none" stroke-width="0.4"/>
<ellipse cx="418.20" cy="398.70" rx="2.8" ry="1.3" transform="rotate(60 418.20 398.70)" fill="#f2e6a2" stroke="none" stroke-width="0.4"/>
<ellipse cx="411.87" cy="405.67" rx="2.8" ry="1.3" transform="rotate(70 411.87 405.67)" fill="#f2e6a2" stroke="none" stroke-width="0.4"/>
<ellipse cx="420.74" cy="405.04" rx="2.8" ry="1.3" transform="rotate(65 420.74 405.04)" fill="#f2e6a2" stroke="none" stroke-width="0.4"/>
<ellipse cx="413.14" cy="412.00" rx="2.8" ry="1.3" transform="rotate(60 413.14 412.00)" fill="#f2e6a2" stroke="none" stroke-width="0.4"/>
<ellipse cx="423.27" cy="410.74" rx="2.8" ry="1.3" transform="rotate(70 423.27 410.74)" fill="#f2e6a2" stroke="none" stroke-width="0.4"/>
<ellipse cx="415.67" cy="418.34" rx="2.8" ry="1.3" transform="rotate(60 415.67 418.34)" fill="#f2e6a2" stroke="none" stroke-width="0.4"/>
<ellipse cx="419.47" cy="422.14" rx="2.8" ry="1.3" transform="rotate(55 419.47 422.14)" fill="#f2e6a2" stroke="none" stroke-width="0.4"/>
<ellipse cx="408.07" cy="415.80" rx="2.8" ry="1.3" transform="rotate(65 408.07 415.80)" fill="#f2e6a2" stroke="none" stroke-width="0.4"/>
<ellipse cx="424.54" cy="401.87" rx="2.8" ry="1.3" transform="rotate(70 424.54 401.87)" fill="#f2e6a2" stroke="none" stroke-width="0.4"/>
<ellipse cx="390.34" cy="381.60" rx="2.9" ry="1.4" transform="rotate(80 390.34 381.60)" fill="#c4cef0" stroke="none" stroke-width="0.4"/>
<ellipse cx="401.74" cy="383.50" rx="2.9" ry="1.4" transform="rotate(100 401.74 383.50)" fill="#c4cef0" stroke="none" stroke-width="0.4"/>
<ellipse cx="406.80" cy="385.40" rx="2.9" ry="1.4" transform="rotate(70 406.80 385.40)" fill="#c4cef0" stroke="none" stroke-width="0.4"/>
<ellipse cx="399.20" cy="387.30" rx="2.9" ry="1.4" transform="rotate(90 399.20 387.30)" fill="#c4cef0" stroke="none" stroke-width="0.4"/>
<ellipse cx="396.67" cy="391.73" rx="2.9" ry="1.4" transform="rotate(60 396.67 391.73)" fill="#c4cef0" stroke="none" stroke-width="0.4"/>
<ellipse cx="406.80" cy="391.73" rx="2.9" ry="1.4" transform="rotate(110 406.80 391.73)" fill="#c4cef0" stroke="none" stroke-width="0.4"/>
<ellipse cx="387.17" cy="419.60" rx="2.9" ry="1.4" transform="rotate(120 387.17 419.60)" fill="#c4cef0" stroke="none" stroke-width="0.4"/>
<ellipse cx="391.60" cy="422.14" rx="2.9" ry="1.4" transform="rotate(80 391.60 422.14)" fill="#c4cef0" stroke="none" stroke-width="0.4"/>
<ellipse cx="397.30" cy="422.77" rx="2.9" ry="1.4" transform="rotate(100 397.30 422.77)" fill="#c4cef0" stroke="none" stroke-width="0.4"/>
<ellipse cx="403.00" cy="422.14" rx="2.9" ry="1.4" transform="rotate(70 403.00 422.14)" fill="#c4cef0" stroke="none" stroke-width="0.4"/>
<ellipse cx="390.34" cy="428.47" rx="2.9" ry="1.4" transform="rotate(90 390.34 428.47)" fill="#c4cef0" stroke="none" stroke-width="0.4"/>
<ellipse cx="396.04" cy="429.74" rx="2.9" ry="1.4" transform="rotate(110 396.04 429.74)" fill="#c4cef0" stroke="none" stroke-width="0.4"/>
<ellipse cx="403.00" cy="428.47" rx="2.9" ry="1.4" transform="rotate(80 403.00 428.47)" fill="#c4cef0" stroke="none" stroke-width="0.4"/>
<ellipse cx="406.80" cy="418.34" rx="2.9" ry="1.4" transform="rotate(60 406.80 418.34)" fill="#c4cef0" stroke="none" stroke-width="0.4"/>
<ellipse cx="394.14" cy="415.80" rx="2.9" ry="1.4" transform="rotate(100 394.14 415.80)" fill="#c4cef0" stroke="none" stroke-width="0.4"/>
<path d="M370.07,393.47 L370.57,393.17 L371.08,392.72 L371.59,392.21 L372.09,391.73 L372.60,391.36 L373.11,391.18 L373.61,391.22 L374.12,391.46 L374.63,391.87 L375.13,392.37 L375.64,392.87 L376.15,393.28 L376.65,393.52 L377.16,393.55 L377.67,393.37 L378.17,393.01 L378.68,392.52 L379.19,392.01 L379.69,391.57 L380.20,391.27" stroke="#2f86ee" stroke-width="1.35" fill="none" stroke-linecap="round"/>
<path d="M379.57,394.97 L380.09,394.48 L380.61,393.96 L381.13,393.49 L381.65,393.17 L382.18,393.07 L382.70,393.20 L383.22,393.53 L383.74,394.00 L384.26,394.53 L384.78,395.01 L385.31,395.34 L385.83,395.47 L386.35,395.36 L386.87,395.05 L387.39,394.58 L387.91,394.05 L388.44,393.57" stroke="#2f86ee" stroke-width="1.35" fill="none" stroke-linecap="round"/>
<path d="M370.07,400.04 L370.59,399.55 L371.11,399.02 L371.63,398.56 L372.15,398.24 L372.68,398.14 L373.20,398.26 L373.72,398.60 L374.24,399.07 L374.76,399.60 L375.28,400.08 L375.80,400.41 L376.33,400.54 L376.85,400.43 L377.37,400.11 L377.89,399.65 L378.41,399.12 L378.93,398.64" stroke="#2f86ee" stroke-width="1.35" fill="none" stroke-linecap="round"/>
<path d="M378.93,402.34 L379.44,402.04 L379.95,401.59 L380.45,401.08 L380.96,400.60 L381.47,400.23 L381.97,400.05 L382.48,400.08 L382.99,400.33 L383.50,400.74 L384.00,401.24 L384.51,401.74 L385.02,402.15 L385.52,402.39 L386.03,402.42 L386.54,402.24 L387.04,401.87 L387.55,401.39 L388.06,400.88 L388.56,400.44 L389.07,400.14" stroke="#2f86ee" stroke-width="1.35" fill="none" stroke-linecap="round"/>
<path d="M368.80,407.00 L369.32,406.52 L369.84,405.99 L370.37,405.52 L370.89,405.21 L371.41,405.10 L371.93,405.23 L372.45,405.56 L372.97,406.04 L373.49,406.57 L374.02,407.04 L374.54,407.38 L375.06,407.50 L375.58,407.40 L376.10,407.08 L376.62,406.61 L377.15,406.09 L377.67,405.60" stroke="#2f86ee" stroke-width="1.35" fill="none" stroke-linecap="round"/>
<path d="M377.67,408.50 L378.17,408.11 L378.67,407.62 L379.17,407.12 L379.67,406.70 L380.17,406.44 L380.67,406.37 L381.17,406.52 L381.67,406.86 L382.17,407.32 L382.67,407.82 L383.17,408.28 L383.67,408.62 L384.17,408.77 L384.67,408.70 L385.17,408.44 L385.67,408.02 L386.17,407.52 L386.67,407.03 L387.17,406.64" stroke="#2f86ee" stroke-width="1.35" fill="none" stroke-linecap="round"/>
<path d="M370.07,413.05 L370.58,412.54 L371.10,412.04 L371.61,411.66 L372.13,411.46 L372.64,411.48 L373.15,411.72 L373.67,412.13 L374.18,412.64 L374.70,413.14 L375.21,413.56 L375.73,413.80 L376.24,413.82 L376.76,413.62 L377.27,413.23 L377.79,412.74 L378.30,412.22" stroke="#2f86ee" stroke-width="1.35" fill="none" stroke-linecap="round"/>
<path d="M375.13,418.40 L375.66,417.92 L376.18,417.39 L376.70,416.93 L377.22,416.61 L377.74,416.50 L378.26,416.63 L378.79,416.96 L379.31,417.44 L379.83,417.97 L380.35,418.44 L380.87,418.78 L381.39,418.90 L381.92,418.80 L382.44,418.48 L382.96,418.02 L383.48,417.49 L384.00,417.00" stroke="#2f86ee" stroke-width="1.35" fill="none" stroke-linecap="round"/>
<path d="M378.30,425.41 L378.81,424.90 L379.31,424.46 L379.82,424.18 L380.33,424.11 L380.83,424.25 L381.34,424.58 L381.85,425.05 L382.35,425.56 L382.86,426.03 L383.37,426.36 L383.88,426.50 L384.38,426.43 L384.89,426.14 L385.40,425.71 L385.90,425.20" stroke="#2f86ee" stroke-width="1.35" fill="none" stroke-linecap="round"/>
<path d="M378.93,430.44 L379.46,429.95 L379.98,429.43 L380.50,428.96 L381.02,428.64 L381.54,428.54 L382.06,428.67 L382.59,429.00 L383.11,429.47 L383.63,430.00 L384.15,430.48 L384.67,430.81 L385.19,430.94 L385.72,430.83 L386.24,430.52 L386.76,430.05 L387.28,429.52 L387.80,429.04" stroke="#2f86ee" stroke-width="1.35" fill="none" stroke-linecap="round"/>
<path d="M403.00,397.50 L403.53,397.02 L404.05,396.49 L404.57,396.02 L405.09,395.71 L405.61,395.60 L406.13,395.73 L406.65,396.06 L407.18,396.54 L407.70,397.07 L408.22,397.54 L408.74,397.88 L409.26,398.00 L409.78,397.90 L410.31,397.58 L410.83,397.11 L411.35,396.59 L411.87,396.10" stroke="#2f86ee" stroke-width="1.35" fill="none" stroke-linecap="round"/>
<path d="M414.40,402.34 L414.91,402.04 L415.42,401.59 L415.92,401.08 L416.43,400.60 L416.94,400.23 L417.44,400.05 L417.95,400.08 L418.46,400.33 L418.97,400.74 L419.47,401.24 L419.98,401.74 L420.49,402.15 L420.99,402.39 L421.50,402.42 L422.01,402.24 L422.51,401.87 L423.02,401.39 L423.53,400.88 L424.03,400.44 L424.54,400.14" stroke="#2f86ee" stroke-width="1.35" fill="none" stroke-linecap="round"/>
<path d="M406.80,405.10 L407.33,404.62 L407.85,404.09 L408.37,403.62 L408.89,403.31 L409.41,403.20 L409.93,403.33 L410.46,403.66 L410.98,404.14 L411.50,404.67 L412.02,405.14 L412.54,405.48 L413.06,405.60 L413.58,405.50 L414.11,405.18 L414.63,404.71 L415.15,404.19 L415.67,403.70" stroke="#2f86ee" stroke-width="1.35" fill="none" stroke-linecap="round"/>
<path d="M401.74,408.27 L402.26,407.78 L402.78,407.26 L403.30,406.79 L403.82,406.48 L404.34,406.37 L404.87,406.50 L405.39,406.83 L405.91,407.31 L406.43,407.83 L406.95,408.31 L407.47,408.64 L408.00,408.77 L408.52,408.66 L409.04,408.35 L409.56,407.88 L410.08,407.35 L410.60,406.87" stroke="#2f86ee" stroke-width="1.35" fill="none" stroke-linecap="round"/>
<path d="M415.67,409.77 L416.17,409.38 L416.67,408.89 L417.17,408.39 L417.67,407.97 L418.17,407.71 L418.67,407.64 L419.17,407.79 L419.67,408.12 L420.17,408.58 L420.67,409.09 L421.17,409.55 L421.67,409.88 L422.17,410.03 L422.67,409.97 L423.17,409.70 L423.67,409.28 L424.17,408.79 L424.67,408.30 L425.17,407.90" stroke="#2f86ee" stroke-width="1.35" fill="none" stroke-linecap="round"/>
<path d="M406.80,412.70 L407.33,412.22 L407.85,411.69 L408.37,411.23 L408.89,410.91 L409.41,410.80 L409.93,410.93 L410.46,411.26 L410.98,411.74 L411.50,412.27 L412.02,412.74 L412.54,413.08 L413.06,413.20 L413.58,413.10 L414.11,412.78 L414.63,412.32 L415.15,411.79 L415.67,411.30" stroke="#2f86ee" stroke-width="1.35" fill="none" stroke-linecap="round"/>
<path d="M416.94,415.24 L417.46,414.75 L417.98,414.23 L418.50,413.76 L419.02,413.44 L419.55,413.34 L420.07,413.46 L420.59,413.80 L421.11,414.27 L421.63,414.80 L422.15,415.28 L422.68,415.61 L423.20,415.74 L423.72,415.63 L424.24,415.32 L424.76,414.85 L425.28,414.32 L425.81,413.84" stroke="#2f86ee" stroke-width="1.35" fill="none" stroke-linecap="round"/>
<path d="M409.34,419.04 L409.86,418.55 L410.38,418.03 L410.90,417.56 L411.42,417.24 L411.95,417.14 L412.47,417.26 L412.99,417.60 L413.51,418.07 L414.03,418.60 L414.55,419.08 L415.08,419.41 L415.60,419.54 L416.12,419.43 L416.64,419.12 L417.16,418.65 L417.68,418.12 L418.20,417.64" stroke="#2f86ee" stroke-width="1.35" fill="none" stroke-linecap="round"/>
<path d="M389.14,377.80 L388.65,378.32 L388.12,378.84 L387.66,379.37 L387.34,379.89 L387.24,380.41 L387.36,380.93 L387.70,381.45 L388.17,381.97 L388.70,382.49 L389.18,383.02 L389.51,383.54 L389.64,384.06 L389.53,384.58 L389.21,385.10 L388.75,385.62 L388.22,386.15 L387.74,386.67" stroke="#2f86ee" stroke-width="1.35" fill="none" stroke-linecap="round"/>
<path d="M395.47,379.07 L394.98,379.59 L394.46,380.11 L393.99,380.63 L393.67,381.15 L393.57,381.68 L393.70,382.20 L394.03,382.72 L394.51,383.24 L395.03,383.76 L395.51,384.28 L395.84,384.80 L395.97,385.33 L395.86,385.85 L395.55,386.37 L395.08,386.89 L394.55,387.41 L394.07,387.93" stroke="#2f86ee" stroke-width="1.35" fill="none" stroke-linecap="round"/>
<path d="M400.30,380.33 L400.00,380.84 L399.56,381.35 L399.05,381.85 L398.57,382.36 L398.20,382.87 L398.02,383.37 L398.05,383.88 L398.29,384.39 L398.70,384.89 L399.20,385.40 L399.70,385.91 L400.11,386.41 L400.36,386.92 L400.39,387.43 L400.21,387.93 L399.84,388.44 L399.36,388.95 L398.85,389.45 L398.40,389.96 L398.10,390.47" stroke="#2f86ee" stroke-width="1.35" fill="none" stroke-linecap="round"/>
<path d="M404.74,380.33 L404.44,380.84 L403.99,381.35 L403.48,381.85 L403.00,382.36 L402.63,382.87 L402.45,383.37 L402.48,383.88 L402.73,384.39 L403.14,384.89 L403.64,385.40 L404.14,385.91 L404.55,386.41 L404.79,386.92 L404.82,387.43 L404.64,387.93 L404.27,388.44 L403.79,388.95 L403.28,389.45 L402.84,389.96 L402.54,390.47" stroke="#2f86ee" stroke-width="1.35" fill="none" stroke-linecap="round"/>
<path d="M410.53,379.70 L410.34,380.21 L409.97,380.73 L409.49,381.24 L408.97,381.75 L408.52,382.26 L408.23,382.78 L408.14,383.29 L408.27,383.80 L408.61,384.32 L409.08,384.83 L409.60,385.34 L410.07,385.85 L410.40,386.37 L410.54,386.88 L410.45,387.39 L410.15,387.90 L409.71,388.42 L409.19,388.93 L408.70,389.44 L408.33,389.96 L408.15,390.47" stroke="#2f86ee" stroke-width="1.35" fill="none" stroke-linecap="round"/>
<path d="M392.34,387.93 L391.83,388.44 L391.40,388.95 L391.12,389.45 L391.04,389.96 L391.18,390.47 L391.51,390.97 L391.98,391.48 L392.49,391.99 L392.96,392.50 L393.29,393.00 L393.43,393.51 L393.36,394.02 L393.08,394.52 L392.64,395.03 L392.13,395.54" stroke="#2f86ee" stroke-width="1.35" fill="none" stroke-linecap="round"/>
<path d="M390.13,415.80 L390.57,416.32 L390.84,416.84 L390.89,417.35 L390.73,417.87 L390.36,418.38 L389.88,418.90 L389.36,419.42 L388.90,419.93 L388.60,420.45 L388.50,420.96 L388.64,421.48 L388.97,422.00 L389.44,422.51 L389.96,423.03 L390.44,423.55 L390.77,424.06 L390.90,424.58 L390.81,425.09 L390.50,425.61 L390.05,426.13 L389.53,426.64 L389.04,427.16 L388.68,427.67 L388.51,428.19 L388.57,428.71 L388.84,429.22 L389.27,429.74" stroke="#2f86ee" stroke-width="1.35" fill="none" stroke-linecap="round"/>
<path d="M396.35,414.54 L396.57,415.04 L396.58,415.55 L396.38,416.06 L395.99,416.56 L395.50,417.07 L395.00,417.58 L394.56,418.08 L394.28,418.59 L394.21,419.10 L394.35,419.60 L394.68,420.11 L395.15,420.62 L395.66,421.12 L396.12,421.63 L396.46,422.14 L396.60,422.64 L396.52,423.15 L396.24,423.66 L395.81,424.16 L395.30,424.67 L394.81,425.18 L394.43,425.68 L394.23,426.19 L394.24,426.70 L394.46,427.20" stroke="#2f86ee" stroke-width="1.35" fill="none" stroke-linecap="round"/>
<path d="M401.53,417.70 L401.97,418.22 L402.24,418.74 L402.30,419.25 L402.13,419.77 L401.76,420.28 L401.28,420.80 L400.76,421.32 L400.30,421.83 L400.00,422.35 L399.90,422.87 L400.04,423.38 L400.37,423.90 L400.84,424.41 L401.36,424.93 L401.84,425.45 L402.17,425.96 L402.30,426.48 L402.21,426.99 L401.90,427.51 L401.45,428.03 L400.93,428.54 L400.44,429.06 L400.08,429.57 L399.91,430.09 L399.97,430.61 L400.24,431.12 L400.67,431.64" stroke="#2f86ee" stroke-width="1.35" fill="none" stroke-linecap="round"/>
<path d="M405.64,424.67 L405.13,425.18 L404.70,425.68 L404.42,426.19 L404.34,426.70 L404.48,427.20 L404.82,427.71 L405.28,428.22 L405.79,428.73 L406.26,429.23 L406.59,429.74 L406.73,430.25 L406.66,430.75 L406.38,431.26 L405.94,431.77 L405.43,432.27" stroke="#2f86ee" stroke-width="1.35" fill="none" stroke-linecap="round"/>
<path d="M393.61,427.20 L393.20,427.73 L392.97,428.26 L392.97,428.79 L393.20,429.32 L393.62,429.84 L394.14,430.37 L394.66,430.90 L395.07,431.43 L395.31,431.96 L395.31,432.48 L395.08,433.01 L394.66,433.54" stroke="#2f86ee" stroke-width="1.35" fill="none" stroke-linecap="round"/>
<line x1="380.80" y1="381.60" x2="413.10" y2="429.70" stroke="#e41e26" stroke-width="1.7" stroke-dasharray="2.8,2.6"/>
<line x1="419.50" y1="387.30" x2="376.40" y2="426.00" stroke="#e41e26" stroke-width="1.7" stroke-dasharray="2.8,2.6"/>
<circle cx="397.80" cy="406.60" r="30.8" fill="none" stroke="#2a2222" stroke-width="1.5" />
<text x="390.60" y="408.60" font-size="8.4" text-anchor="middle" fill="#333" font-weight="normal" font-style="normal" >A</text>
<text x="398.60" y="403.60" font-size="8.4" text-anchor="middle" fill="#333" font-weight="normal" font-style="normal" >B</text>
<line x1="375.00" y1="449.40" x2="423.00" y2="449.40" stroke="#222" stroke-width="0.9" />
<path d="M370.6,449.4 L377.6,446.9 L376.4,449.4 L377.6,451.9 Z" stroke="none" stroke-width="1" fill="#222" />
<path d="M427.4,449.4 L420.4,446.9 L421.6,449.4 L420.4,451.9 Z" stroke="none" stroke-width="1" fill="#222" />
<text x="398.00" y="447.60" font-size="7.2" text-anchor="middle" fill="#333" font-weight="normal" font-style="normal" >excitation</text>
<text x="398.00" y="455.90" font-size="7.2" text-anchor="middle" fill="#333" font-weight="normal" font-style="normal" >polarisation</text>
<text x="441.6" y="392.0" font-size="8.4" fill="#333">r<tspan font-size="4.8" dy="2">A</tspan><tspan dy="-2">&gt;0</tspan></text>
<text x="441.6" y="410.6" font-size="8.4" fill="#333">r<tspan font-size="4.8" dy="2">B</tspan><tspan dy="-2">&lt;0</tspan></text>
<path d="M466.00,388.98 L466.50,388.62 L467.00,388.28 L467.50,387.99 L468.00,387.79 L468.50,387.70 L469.00,387.73 L469.50,387.88 L470.00,388.12 L470.50,388.44 L471.00,388.80 L471.50,389.16 L472.00,389.48 L472.50,389.72 L473.00,389.87 L473.50,389.90 L474.00,389.81 L474.50,389.61 L475.00,389.32 L475.50,388.98 L476.00,388.62" stroke="#2f86ee" stroke-width="1.4" fill="none" stroke-linecap="round"/>
<path d="M471.00,403.15 L470.64,403.65 L470.33,404.15 L470.10,404.65 L470.00,405.15 L470.04,405.65 L470.20,406.15 L470.47,406.65 L470.82,407.15 L471.18,407.65 L471.53,408.15 L471.80,408.65 L471.96,409.15 L472.00,409.65 L471.90,410.15 L471.67,410.65 L471.36,411.15 L471.00,411.65" stroke="#2f86ee" stroke-width="1.4" fill="none" stroke-linecap="round"/>
<rect x="431.00" y="418.00" width="56.00" height="37.60" fill="#e4e4e4" stroke="none" stroke-width="0.8" />
<rect x="455.00" y="420.80" width="8.00" height="3.20" rx="1.60" ry="1.60" transform="rotate(0 459.00 422.40)" fill="#f4dc00" stroke="#8a7a00" stroke-width="0.5"/>
<text x="459.00" y="432.60" font-size="6.8" text-anchor="middle" fill="#333" font-weight="normal" font-style="normal" >chromophore</text>
<path d="M454.00,441.38 L454.50,441.02 L455.00,440.68 L455.50,440.39 L456.00,440.19 L456.50,440.10 L457.00,440.13 L457.50,440.28 L458.00,440.52 L458.50,440.84 L459.00,441.20 L459.50,441.56 L460.00,441.88 L460.50,442.12 L461.00,442.27 L461.50,442.30 L462.00,442.21 L462.50,442.01 L463.00,441.72 L463.50,441.38 L464.00,441.02" stroke="#2f86ee" stroke-width="1.4" fill="none" stroke-linecap="round"/>
<text x="459.00" y="451.80" font-size="6.8" text-anchor="middle" fill="#333" font-weight="normal" font-style="normal" >emission direction</text>
<text x="551.6" y="421.4" font-size="8.8" fill="#333">r<tspan font-size="4.8" dy="2.2">Spherulite</tspan></text>
<text x="597.60" y="421.60" font-size="7.4" text-anchor="start" fill="#333" font-weight="normal" font-style="normal" >&gt;</text>
<text x="631.6" y="421.4" font-size="8.8" fill="#333">r<tspan font-size="4.8" dy="2.2">Film</tspan></text>
<rect x="550.70" y="434.30" width="10.60" height="3.80" rx="1.90" ry="1.90" transform="rotate(12 556.00 436.20)" fill="#f4e010" stroke="#7a6c00" stroke-width="0.5"/>
<rect x="564.70" y="434.90" width="10.60" height="3.80" rx="1.90" ry="1.90" transform="rotate(0 570.00 436.80)" fill="#f4e010" stroke="#7a6c00" stroke-width="0.5"/>
<rect x="550.70" y="440.30" width="10.60" height="3.80" rx="1.90" ry="1.90" transform="rotate(0 556.00 442.20)" fill="#f4e010" stroke="#7a6c00" stroke-width="0.5"/>
<rect x="564.70" y="440.30" width="10.60" height="3.80" rx="1.90" ry="1.90" transform="rotate(0 570.00 442.20)" fill="#f4e010" stroke="#7a6c00" stroke-width="0.5"/>
<rect x="550.70" y="445.70" width="10.60" height="3.80" rx="1.90" ry="1.90" transform="rotate(0 556.00 447.60)" fill="#f4e010" stroke="#7a6c00" stroke-width="0.5"/>
<rect x="564.70" y="445.70" width="10.60" height="3.80" rx="1.90" ry="1.90" transform="rotate(0 570.00 447.60)" fill="#f4e010" stroke="#7a6c00" stroke-width="0.5"/>
<rect x="624.60" y="436.40" width="8.80" height="3.20" rx="1.60" ry="1.60" transform="rotate(0 629.00 438.00)" fill="#f4e010" stroke="#7a6c00" stroke-width="0.5"/>
<rect x="632.60" y="435.00" width="8.80" height="3.20" rx="1.60" ry="1.60" transform="rotate(40 637.00 436.60)" fill="#f4e010" stroke="#7a6c00" stroke-width="0.5"/>
<rect x="640.60" y="432.40" width="8.80" height="3.20" rx="1.60" ry="1.60" transform="rotate(-30 645.00 434.00)" fill="#f4e010" stroke="#7a6c00" stroke-width="0.5"/>
<rect x="642.60" y="440.00" width="8.80" height="3.20" rx="1.60" ry="1.60" transform="rotate(0 647.00 441.60)" fill="#f4e010" stroke="#7a6c00" stroke-width="0.5"/>
<rect x="625.60" y="443.40" width="8.80" height="3.20" rx="1.60" ry="1.60" transform="rotate(45 630.00 445.00)" fill="#f4e010" stroke="#7a6c00" stroke-width="0.5"/>
<rect x="631.60" y="443.80" width="8.80" height="3.20" rx="1.60" ry="1.60" transform="rotate(-75 636.00 445.40)" fill="#f4e010" stroke="#7a6c00" stroke-width="0.5"/>
<rect x="635.00" y="446.20" width="8.80" height="3.20" rx="1.60" ry="1.60" transform="rotate(0 639.40 447.80)" fill="#f4e010" stroke="#7a6c00" stroke-width="0.5"/>
<text x="563.40" y="464.40" font-size="8.3" text-anchor="middle" fill="#2a2a2a" font-weight="normal" font-style="normal" >Good alignment</text>
<text x="638.80" y="464.60" font-size="8.3" text-anchor="middle" fill="#2a2a2a" font-weight="normal" font-style="normal" >Random alignment</text>
</svg></body></html>
